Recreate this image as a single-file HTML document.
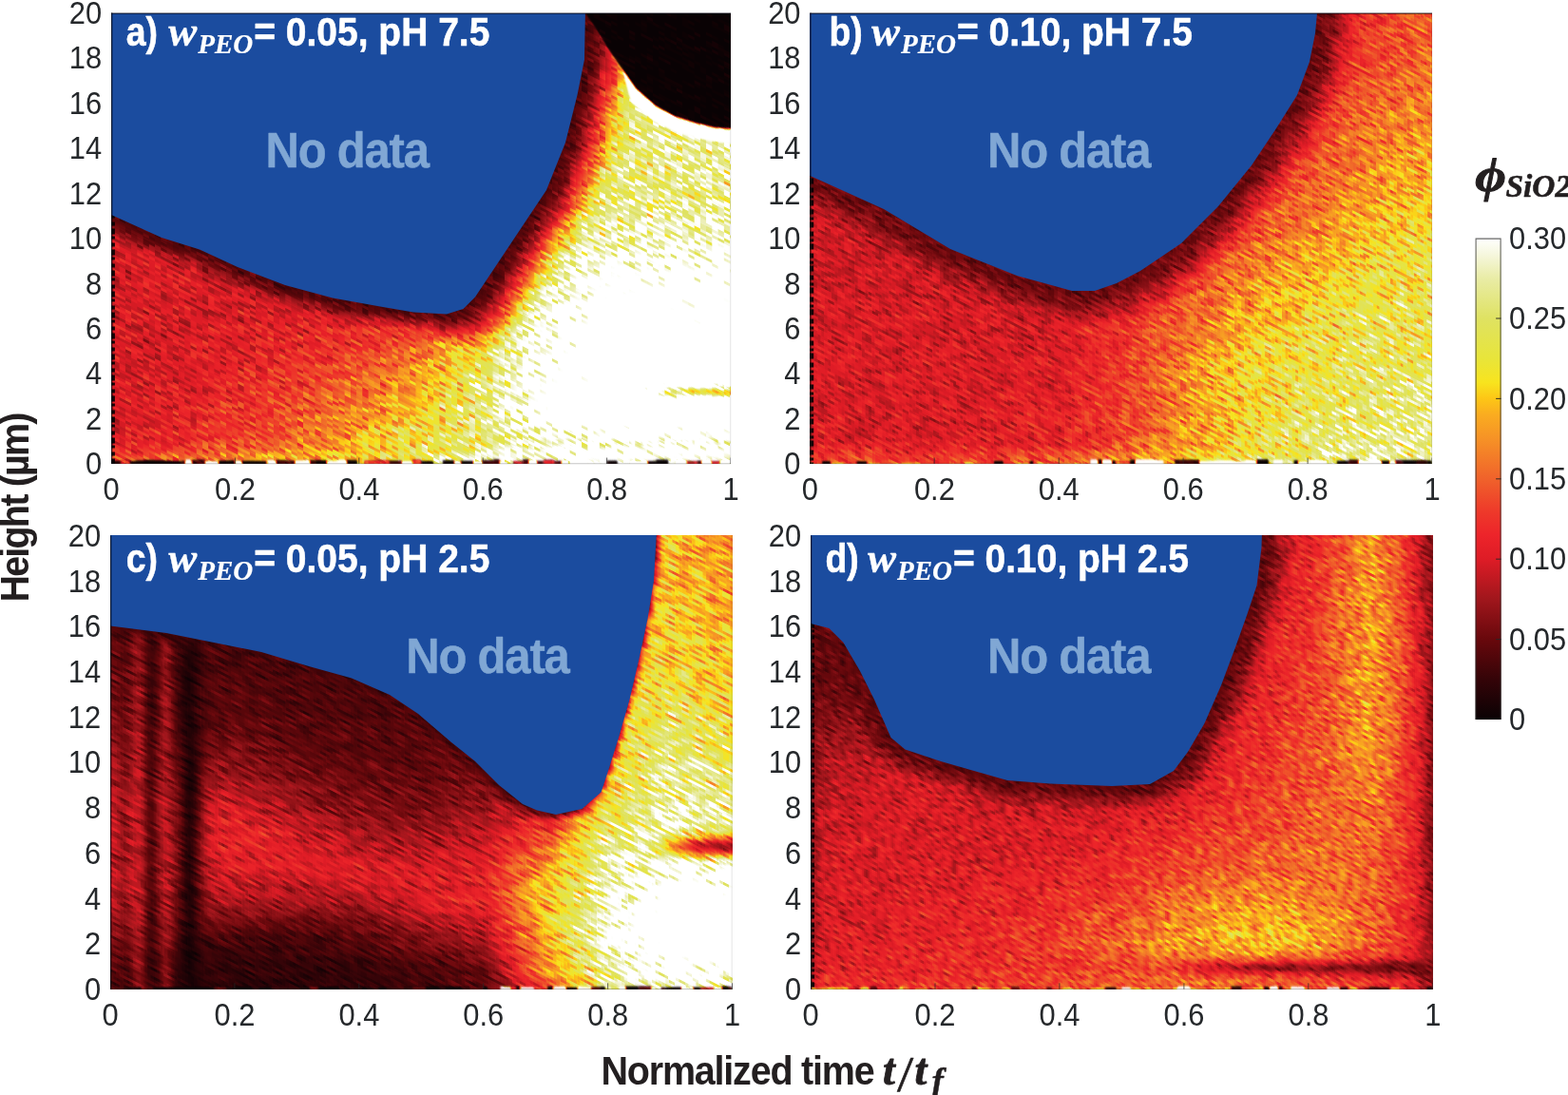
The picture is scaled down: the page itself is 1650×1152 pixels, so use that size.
<!DOCTYPE html>
<html><head><meta charset="utf-8"><title>Figure</title><style>html,body{margin:0;padding:0;background:#fff;overflow:hidden}svg{display:block}</style></head><body>
<svg xmlns="http://www.w3.org/2000/svg" width="1650" height="1152" viewBox="0 0 1650 1152">
<defs>
<filter id="hma" filterUnits="userSpaceOnUse" x="0" y="-900" width="1650" height="2100" color-interpolation-filters="sRGB"><feGaussianBlur in="SourceGraphic" stdDeviation="3" result="f"/><feTurbulence type="fractalNoise" baseFrequency="0.10 0.457" numOctaves="1" seed="3" result="n0"/><feColorMatrix in="n0" type="matrix" values="1 0 0 0 0 1 0 0 0 0 1 0 0 0 0 0 0 0 0 1" result="n"/><feFlood x="3" y="1" width="1" height="1" flood-color="#000"/><feComposite width="7" height="3"/><feTile result="t"/><feComposite in="n" in2="t" operator="in"/><feMorphology operator="dilate" radius="3 1"/><feComponentTransfer result="np"><feFuncR type="table" tableValues="0 0.2 0.5 0.78 1"/><feFuncG type="table" tableValues="0 0.2 0.5 0.78 1"/><feFuncB type="table" tableValues="0 0.2 0.5 0.78 1"/></feComponentTransfer><feComposite in="f" in2="np" operator="arithmetic" k1="0.85" k2="0.5784" k3="0.05" k4="-0.0248" result="s"/><feComponentTransfer in="s" result="c"><feFuncR type="table" tableValues="0.039 0.07 0.101 0.132 0.163 0.194 0.229 0.268 0.306 0.344 0.382 0.422 0.463 0.504 0.545 0.586 0.627 0.673 0.719 0.764 0.81 0.855 0.883 0.901 0.92 0.93 0.931 0.932 0.934 0.936 0.938 0.939 0.941 0.946 0.95 0.954 0.959 0.963 0.968 0.973 0.978 0.983 0.988 0.989 0.98 0.969 0.949 0.929 0.91 0.903 0.897 0.89 0.883 0.877 0.879 0.887 0.894 0.901 0.909 0.919 0.935 0.951 0.967 0.983 1 1 1 1 1 1 1 1 1 1 1 1 1 1 1 1 1 1 1 1 1 1 1 1 1 1 1 1 1 1 1 1 1 1 1 1 1 1 1 1 1 1 1 1 1 1 1 1 1 1 1 1 1 1 1 1 1 1 1 1 1 1 1 1 1"/><feFuncG type="table" tableValues="0.008 0.009 0.011 0.012 0.014 0.015 0.018 0.021 0.024 0.026 0.029 0.035 0.045 0.055 0.066 0.076 0.086 0.091 0.095 0.1 0.104 0.108 0.116 0.126 0.136 0.154 0.181 0.208 0.237 0.274 0.311 0.348 0.384 0.42 0.455 0.49 0.525 0.561 0.594 0.626 0.658 0.697 0.745 0.795 0.85 0.894 0.896 0.897 0.898 0.896 0.894 0.891 0.889 0.887 0.891 0.899 0.906 0.913 0.921 0.93 0.943 0.957 0.971 0.985 1 1 1 1 1 1 1 1 1 1 1 1 1 1 1 1 1 1 1 1 1 1 1 1 1 1 1 1 1 1 1 1 1 1 1 1 1 1 1 1 1 1 1 1 1 1 1 1 1 1 1 1 1 1 1 1 1 1 1 1 1 1 1 1 1"/><feFuncB type="table" tableValues="0.016 0.019 0.022 0.025 0.027 0.03 0.033 0.036 0.039 0.042 0.045 0.051 0.063 0.075 0.086 0.098 0.11 0.117 0.125 0.132 0.139 0.147 0.152 0.157 0.162 0.165 0.165 0.165 0.165 0.166 0.167 0.168 0.169 0.165 0.161 0.158 0.154 0.15 0.144 0.137 0.129 0.117 0.099 0.091 0.106 0.125 0.159 0.193 0.227 0.257 0.286 0.316 0.345 0.375 0.418 0.468 0.518 0.568 0.618 0.674 0.742 0.811 0.879 0.939 1 1 1 1 1 1 1 1 1 1 1 1 1 1 1 1 1 1 1 1 1 1 1 1 1 1 1 1 1 1 1 1 1 1 1 1 1 1 1 1 1 1 1 1 1 1 1 1 1 1 1 1 1 1 1 1 1 1 1 1 1 1 1 1 1"/></feComponentTransfer><feComposite in="c" in2="f" operator="in"/></filter>
<filter id="hsa" filterUnits="userSpaceOnUse" x="0" y="-900" width="1650" height="2100" color-interpolation-filters="sRGB"><feGaussianBlur in="SourceGraphic" stdDeviation="0.9" result="f"/><feTurbulence type="fractalNoise" baseFrequency="0.10 0.457" numOctaves="1" seed="3" result="n0"/><feColorMatrix in="n0" type="matrix" values="1 0 0 0 0 1 0 0 0 0 1 0 0 0 0 0 0 0 0 1" result="n"/><feFlood x="3" y="1" width="1" height="1" flood-color="#000"/><feComposite width="7" height="3"/><feTile result="t"/><feComposite in="n" in2="t" operator="in"/><feMorphology operator="dilate" radius="3 1"/><feComponentTransfer result="np"><feFuncR type="table" tableValues="0 0.2 0.5 0.78 1"/><feFuncG type="table" tableValues="0 0.2 0.5 0.78 1"/><feFuncB type="table" tableValues="0 0.2 0.5 0.78 1"/></feComponentTransfer><feComposite in="f" in2="np" operator="arithmetic" k1="0.85" k2="0.5784" k3="0.05" k4="-0.0248" result="s"/><feComponentTransfer in="s" result="c"><feFuncR type="table" tableValues="0.039 0.07 0.101 0.132 0.163 0.194 0.229 0.268 0.306 0.344 0.382 0.422 0.463 0.504 0.545 0.586 0.627 0.673 0.719 0.764 0.81 0.855 0.883 0.901 0.92 0.93 0.931 0.932 0.934 0.936 0.938 0.939 0.941 0.946 0.95 0.954 0.959 0.963 0.968 0.973 0.978 0.983 0.988 0.989 0.98 0.969 0.949 0.929 0.91 0.903 0.897 0.89 0.883 0.877 0.879 0.887 0.894 0.901 0.909 0.919 0.935 0.951 0.967 0.983 1 1 1 1 1 1 1 1 1 1 1 1 1 1 1 1 1 1 1 1 1 1 1 1 1 1 1 1 1 1 1 1 1 1 1 1 1 1 1 1 1 1 1 1 1 1 1 1 1 1 1 1 1 1 1 1 1 1 1 1 1 1 1 1 1"/><feFuncG type="table" tableValues="0.008 0.009 0.011 0.012 0.014 0.015 0.018 0.021 0.024 0.026 0.029 0.035 0.045 0.055 0.066 0.076 0.086 0.091 0.095 0.1 0.104 0.108 0.116 0.126 0.136 0.154 0.181 0.208 0.237 0.274 0.311 0.348 0.384 0.42 0.455 0.49 0.525 0.561 0.594 0.626 0.658 0.697 0.745 0.795 0.85 0.894 0.896 0.897 0.898 0.896 0.894 0.891 0.889 0.887 0.891 0.899 0.906 0.913 0.921 0.93 0.943 0.957 0.971 0.985 1 1 1 1 1 1 1 1 1 1 1 1 1 1 1 1 1 1 1 1 1 1 1 1 1 1 1 1 1 1 1 1 1 1 1 1 1 1 1 1 1 1 1 1 1 1 1 1 1 1 1 1 1 1 1 1 1 1 1 1 1 1 1 1 1"/><feFuncB type="table" tableValues="0.016 0.019 0.022 0.025 0.027 0.03 0.033 0.036 0.039 0.042 0.045 0.051 0.063 0.075 0.086 0.098 0.11 0.117 0.125 0.132 0.139 0.147 0.152 0.157 0.162 0.165 0.165 0.165 0.165 0.166 0.167 0.168 0.169 0.165 0.161 0.158 0.154 0.15 0.144 0.137 0.129 0.117 0.099 0.091 0.106 0.125 0.159 0.193 0.227 0.257 0.286 0.316 0.345 0.375 0.418 0.468 0.518 0.568 0.618 0.674 0.742 0.811 0.879 0.939 1 1 1 1 1 1 1 1 1 1 1 1 1 1 1 1 1 1 1 1 1 1 1 1 1 1 1 1 1 1 1 1 1 1 1 1 1 1 1 1 1 1 1 1 1 1 1 1 1 1 1 1 1 1 1 1 1 1 1 1 1 1 1 1 1"/></feComponentTransfer><feComposite in="c" in2="f" operator="in"/></filter>
<filter id="hmb" filterUnits="userSpaceOnUse" x="0" y="-900" width="1650" height="2100" color-interpolation-filters="sRGB"><feGaussianBlur in="SourceGraphic" stdDeviation="3" result="f"/><feTurbulence type="fractalNoise" baseFrequency="0.10 0.457" numOctaves="1" seed="5" result="n0"/><feColorMatrix in="n0" type="matrix" values="1 0 0 0 0 1 0 0 0 0 1 0 0 0 0 0 0 0 0 1" result="n"/><feFlood x="2" y="1" width="1" height="1" flood-color="#000"/><feComposite width="5" height="3"/><feTile result="t"/><feComposite in="n" in2="t" operator="in"/><feMorphology operator="dilate" radius="2 1"/><feComponentTransfer result="np"><feFuncR type="table" tableValues="0 0.2 0.5 0.78 1"/><feFuncG type="table" tableValues="0 0.2 0.5 0.78 1"/><feFuncB type="table" tableValues="0 0.2 0.5 0.78 1"/></feComponentTransfer><feComposite in="f" in2="np" operator="arithmetic" k1="0.8" k2="0.5944" k3="0.05" k4="-0.0254" result="s"/><feComponentTransfer in="s" result="c"><feFuncR type="table" tableValues="0.039 0.07 0.101 0.132 0.163 0.194 0.229 0.268 0.306 0.344 0.382 0.422 0.463 0.504 0.545 0.586 0.627 0.673 0.719 0.764 0.81 0.855 0.883 0.901 0.92 0.93 0.931 0.932 0.934 0.936 0.938 0.939 0.941 0.946 0.95 0.954 0.959 0.963 0.968 0.973 0.978 0.983 0.988 0.989 0.98 0.969 0.949 0.929 0.91 0.903 0.897 0.89 0.883 0.877 0.879 0.887 0.894 0.901 0.909 0.919 0.935 0.951 0.967 0.983 1 1 1 1 1 1 1 1 1 1 1 1 1 1 1 1 1 1 1 1 1 1 1 1 1 1 1 1 1 1 1 1 1 1 1 1 1 1 1 1 1 1 1 1 1 1 1 1 1 1 1 1 1 1 1 1 1 1 1 1 1 1 1 1 1"/><feFuncG type="table" tableValues="0.008 0.009 0.011 0.012 0.014 0.015 0.018 0.021 0.024 0.026 0.029 0.035 0.045 0.055 0.066 0.076 0.086 0.091 0.095 0.1 0.104 0.108 0.116 0.126 0.136 0.154 0.181 0.208 0.237 0.274 0.311 0.348 0.384 0.42 0.455 0.49 0.525 0.561 0.594 0.626 0.658 0.697 0.745 0.795 0.85 0.894 0.896 0.897 0.898 0.896 0.894 0.891 0.889 0.887 0.891 0.899 0.906 0.913 0.921 0.93 0.943 0.957 0.971 0.985 1 1 1 1 1 1 1 1 1 1 1 1 1 1 1 1 1 1 1 1 1 1 1 1 1 1 1 1 1 1 1 1 1 1 1 1 1 1 1 1 1 1 1 1 1 1 1 1 1 1 1 1 1 1 1 1 1 1 1 1 1 1 1 1 1"/><feFuncB type="table" tableValues="0.016 0.019 0.022 0.025 0.027 0.03 0.033 0.036 0.039 0.042 0.045 0.051 0.063 0.075 0.086 0.098 0.11 0.117 0.125 0.132 0.139 0.147 0.152 0.157 0.162 0.165 0.165 0.165 0.165 0.166 0.167 0.168 0.169 0.165 0.161 0.158 0.154 0.15 0.144 0.137 0.129 0.117 0.099 0.091 0.106 0.125 0.159 0.193 0.227 0.257 0.286 0.316 0.345 0.375 0.418 0.468 0.518 0.568 0.618 0.674 0.742 0.811 0.879 0.939 1 1 1 1 1 1 1 1 1 1 1 1 1 1 1 1 1 1 1 1 1 1 1 1 1 1 1 1 1 1 1 1 1 1 1 1 1 1 1 1 1 1 1 1 1 1 1 1 1 1 1 1 1 1 1 1 1 1 1 1 1 1 1 1 1"/></feComponentTransfer><feComposite in="c" in2="f" operator="in"/></filter>
<filter id="hsb" filterUnits="userSpaceOnUse" x="0" y="-900" width="1650" height="2100" color-interpolation-filters="sRGB"><feGaussianBlur in="SourceGraphic" stdDeviation="0.9" result="f"/><feTurbulence type="fractalNoise" baseFrequency="0.10 0.457" numOctaves="1" seed="5" result="n0"/><feColorMatrix in="n0" type="matrix" values="1 0 0 0 0 1 0 0 0 0 1 0 0 0 0 0 0 0 0 1" result="n"/><feFlood x="2" y="1" width="1" height="1" flood-color="#000"/><feComposite width="5" height="3"/><feTile result="t"/><feComposite in="n" in2="t" operator="in"/><feMorphology operator="dilate" radius="2 1"/><feComponentTransfer result="np"><feFuncR type="table" tableValues="0 0.2 0.5 0.78 1"/><feFuncG type="table" tableValues="0 0.2 0.5 0.78 1"/><feFuncB type="table" tableValues="0 0.2 0.5 0.78 1"/></feComponentTransfer><feComposite in="f" in2="np" operator="arithmetic" k1="0.8" k2="0.5944" k3="0.05" k4="-0.0254" result="s"/><feComponentTransfer in="s" result="c"><feFuncR type="table" tableValues="0.039 0.07 0.101 0.132 0.163 0.194 0.229 0.268 0.306 0.344 0.382 0.422 0.463 0.504 0.545 0.586 0.627 0.673 0.719 0.764 0.81 0.855 0.883 0.901 0.92 0.93 0.931 0.932 0.934 0.936 0.938 0.939 0.941 0.946 0.95 0.954 0.959 0.963 0.968 0.973 0.978 0.983 0.988 0.989 0.98 0.969 0.949 0.929 0.91 0.903 0.897 0.89 0.883 0.877 0.879 0.887 0.894 0.901 0.909 0.919 0.935 0.951 0.967 0.983 1 1 1 1 1 1 1 1 1 1 1 1 1 1 1 1 1 1 1 1 1 1 1 1 1 1 1 1 1 1 1 1 1 1 1 1 1 1 1 1 1 1 1 1 1 1 1 1 1 1 1 1 1 1 1 1 1 1 1 1 1 1 1 1 1"/><feFuncG type="table" tableValues="0.008 0.009 0.011 0.012 0.014 0.015 0.018 0.021 0.024 0.026 0.029 0.035 0.045 0.055 0.066 0.076 0.086 0.091 0.095 0.1 0.104 0.108 0.116 0.126 0.136 0.154 0.181 0.208 0.237 0.274 0.311 0.348 0.384 0.42 0.455 0.49 0.525 0.561 0.594 0.626 0.658 0.697 0.745 0.795 0.85 0.894 0.896 0.897 0.898 0.896 0.894 0.891 0.889 0.887 0.891 0.899 0.906 0.913 0.921 0.93 0.943 0.957 0.971 0.985 1 1 1 1 1 1 1 1 1 1 1 1 1 1 1 1 1 1 1 1 1 1 1 1 1 1 1 1 1 1 1 1 1 1 1 1 1 1 1 1 1 1 1 1 1 1 1 1 1 1 1 1 1 1 1 1 1 1 1 1 1 1 1 1 1"/><feFuncB type="table" tableValues="0.016 0.019 0.022 0.025 0.027 0.03 0.033 0.036 0.039 0.042 0.045 0.051 0.063 0.075 0.086 0.098 0.11 0.117 0.125 0.132 0.139 0.147 0.152 0.157 0.162 0.165 0.165 0.165 0.165 0.166 0.167 0.168 0.169 0.165 0.161 0.158 0.154 0.15 0.144 0.137 0.129 0.117 0.099 0.091 0.106 0.125 0.159 0.193 0.227 0.257 0.286 0.316 0.345 0.375 0.418 0.468 0.518 0.568 0.618 0.674 0.742 0.811 0.879 0.939 1 1 1 1 1 1 1 1 1 1 1 1 1 1 1 1 1 1 1 1 1 1 1 1 1 1 1 1 1 1 1 1 1 1 1 1 1 1 1 1 1 1 1 1 1 1 1 1 1 1 1 1 1 1 1 1 1 1 1 1 1 1 1 1 1"/></feComponentTransfer><feComposite in="c" in2="f" operator="in"/></filter>
<filter id="hmc" filterUnits="userSpaceOnUse" x="0" y="-900" width="1650" height="2100" color-interpolation-filters="sRGB"><feGaussianBlur in="SourceGraphic" stdDeviation="3" result="f"/><feTurbulence type="fractalNoise" baseFrequency="0.07 0.457" numOctaves="1" seed="7" result="n0"/><feColorMatrix in="n0" type="matrix" values="1 0 0 0 0 1 0 0 0 0 1 0 0 0 0 0 0 0 0 1" result="n"/><feFlood x="2" y="1" width="1" height="1" flood-color="#000"/><feComposite width="5" height="3"/><feTile result="t"/><feComposite in="n" in2="t" operator="in"/><feMorphology operator="dilate" radius="2 1"/><feComponentTransfer result="np"><feFuncR type="table" tableValues="0 0.2 0.5 0.78 1"/><feFuncG type="table" tableValues="0 0.2 0.5 0.78 1"/><feFuncB type="table" tableValues="0 0.2 0.5 0.78 1"/></feComponentTransfer><feComposite in="f" in2="np" operator="arithmetic" k1="0.85" k2="0.5708" k3="0.05" k4="-0.0253" result="s"/><feComponentTransfer in="s" result="c"><feFuncR type="table" tableValues="0.039 0.07 0.101 0.132 0.163 0.194 0.229 0.268 0.306 0.344 0.382 0.422 0.463 0.504 0.545 0.586 0.627 0.673 0.719 0.764 0.81 0.855 0.883 0.901 0.92 0.93 0.931 0.932 0.934 0.936 0.938 0.939 0.941 0.946 0.95 0.954 0.959 0.963 0.968 0.973 0.978 0.983 0.988 0.989 0.98 0.969 0.949 0.929 0.91 0.903 0.897 0.89 0.883 0.877 0.879 0.887 0.894 0.901 0.909 0.919 0.935 0.951 0.967 0.983 1 1 1 1 1 1 1 1 1 1 1 1 1 1 1 1 1 1 1 1 1 1 1 1 1 1 1 1 1 1 1 1 1 1 1 1 1 1 1 1 1 1 1 1 1 1 1 1 1 1 1 1 1 1 1 1 1 1 1 1 1 1 1 1 1"/><feFuncG type="table" tableValues="0.008 0.009 0.011 0.012 0.014 0.015 0.018 0.021 0.024 0.026 0.029 0.035 0.045 0.055 0.066 0.076 0.086 0.091 0.095 0.1 0.104 0.108 0.116 0.126 0.136 0.154 0.181 0.208 0.237 0.274 0.311 0.348 0.384 0.42 0.455 0.49 0.525 0.561 0.594 0.626 0.658 0.697 0.745 0.795 0.85 0.894 0.896 0.897 0.898 0.896 0.894 0.891 0.889 0.887 0.891 0.899 0.906 0.913 0.921 0.93 0.943 0.957 0.971 0.985 1 1 1 1 1 1 1 1 1 1 1 1 1 1 1 1 1 1 1 1 1 1 1 1 1 1 1 1 1 1 1 1 1 1 1 1 1 1 1 1 1 1 1 1 1 1 1 1 1 1 1 1 1 1 1 1 1 1 1 1 1 1 1 1 1"/><feFuncB type="table" tableValues="0.016 0.019 0.022 0.025 0.027 0.03 0.033 0.036 0.039 0.042 0.045 0.051 0.063 0.075 0.086 0.098 0.11 0.117 0.125 0.132 0.139 0.147 0.152 0.157 0.162 0.165 0.165 0.165 0.165 0.166 0.167 0.168 0.169 0.165 0.161 0.158 0.154 0.15 0.144 0.137 0.129 0.117 0.099 0.091 0.106 0.125 0.159 0.193 0.227 0.257 0.286 0.316 0.345 0.375 0.418 0.468 0.518 0.568 0.618 0.674 0.742 0.811 0.879 0.939 1 1 1 1 1 1 1 1 1 1 1 1 1 1 1 1 1 1 1 1 1 1 1 1 1 1 1 1 1 1 1 1 1 1 1 1 1 1 1 1 1 1 1 1 1 1 1 1 1 1 1 1 1 1 1 1 1 1 1 1 1 1 1 1 1"/></feComponentTransfer><feComposite in="c" in2="f" operator="in"/></filter>
<filter id="hsc" filterUnits="userSpaceOnUse" x="0" y="-900" width="1650" height="2100" color-interpolation-filters="sRGB"><feGaussianBlur in="SourceGraphic" stdDeviation="0.9" result="f"/><feTurbulence type="fractalNoise" baseFrequency="0.07 0.457" numOctaves="1" seed="7" result="n0"/><feColorMatrix in="n0" type="matrix" values="1 0 0 0 0 1 0 0 0 0 1 0 0 0 0 0 0 0 0 1" result="n"/><feFlood x="2" y="1" width="1" height="1" flood-color="#000"/><feComposite width="5" height="3"/><feTile result="t"/><feComposite in="n" in2="t" operator="in"/><feMorphology operator="dilate" radius="2 1"/><feComponentTransfer result="np"><feFuncR type="table" tableValues="0 0.2 0.5 0.78 1"/><feFuncG type="table" tableValues="0 0.2 0.5 0.78 1"/><feFuncB type="table" tableValues="0 0.2 0.5 0.78 1"/></feComponentTransfer><feComposite in="f" in2="np" operator="arithmetic" k1="0.85" k2="0.5708" k3="0.05" k4="-0.0253" result="s"/><feComponentTransfer in="s" result="c"><feFuncR type="table" tableValues="0.039 0.07 0.101 0.132 0.163 0.194 0.229 0.268 0.306 0.344 0.382 0.422 0.463 0.504 0.545 0.586 0.627 0.673 0.719 0.764 0.81 0.855 0.883 0.901 0.92 0.93 0.931 0.932 0.934 0.936 0.938 0.939 0.941 0.946 0.95 0.954 0.959 0.963 0.968 0.973 0.978 0.983 0.988 0.989 0.98 0.969 0.949 0.929 0.91 0.903 0.897 0.89 0.883 0.877 0.879 0.887 0.894 0.901 0.909 0.919 0.935 0.951 0.967 0.983 1 1 1 1 1 1 1 1 1 1 1 1 1 1 1 1 1 1 1 1 1 1 1 1 1 1 1 1 1 1 1 1 1 1 1 1 1 1 1 1 1 1 1 1 1 1 1 1 1 1 1 1 1 1 1 1 1 1 1 1 1 1 1 1 1"/><feFuncG type="table" tableValues="0.008 0.009 0.011 0.012 0.014 0.015 0.018 0.021 0.024 0.026 0.029 0.035 0.045 0.055 0.066 0.076 0.086 0.091 0.095 0.1 0.104 0.108 0.116 0.126 0.136 0.154 0.181 0.208 0.237 0.274 0.311 0.348 0.384 0.42 0.455 0.49 0.525 0.561 0.594 0.626 0.658 0.697 0.745 0.795 0.85 0.894 0.896 0.897 0.898 0.896 0.894 0.891 0.889 0.887 0.891 0.899 0.906 0.913 0.921 0.93 0.943 0.957 0.971 0.985 1 1 1 1 1 1 1 1 1 1 1 1 1 1 1 1 1 1 1 1 1 1 1 1 1 1 1 1 1 1 1 1 1 1 1 1 1 1 1 1 1 1 1 1 1 1 1 1 1 1 1 1 1 1 1 1 1 1 1 1 1 1 1 1 1"/><feFuncB type="table" tableValues="0.016 0.019 0.022 0.025 0.027 0.03 0.033 0.036 0.039 0.042 0.045 0.051 0.063 0.075 0.086 0.098 0.11 0.117 0.125 0.132 0.139 0.147 0.152 0.157 0.162 0.165 0.165 0.165 0.165 0.166 0.167 0.168 0.169 0.165 0.161 0.158 0.154 0.15 0.144 0.137 0.129 0.117 0.099 0.091 0.106 0.125 0.159 0.193 0.227 0.257 0.286 0.316 0.345 0.375 0.418 0.468 0.518 0.568 0.618 0.674 0.742 0.811 0.879 0.939 1 1 1 1 1 1 1 1 1 1 1 1 1 1 1 1 1 1 1 1 1 1 1 1 1 1 1 1 1 1 1 1 1 1 1 1 1 1 1 1 1 1 1 1 1 1 1 1 1 1 1 1 1 1 1 1 1 1 1 1 1 1 1 1 1"/></feComponentTransfer><feComposite in="c" in2="f" operator="in"/></filter>
<filter id="hmd" filterUnits="userSpaceOnUse" x="0" y="-900" width="1650" height="2100" color-interpolation-filters="sRGB"><feGaussianBlur in="SourceGraphic" stdDeviation="3" result="f"/><feTurbulence type="fractalNoise" baseFrequency="0.12 0.457" numOctaves="1" seed="9" result="n0"/><feColorMatrix in="n0" type="matrix" values="1 0 0 0 0 1 0 0 0 0 1 0 0 0 0 0 0 0 0 1" result="n"/><feFlood x="1" y="1" width="1" height="1" flood-color="#000"/><feComposite width="3" height="3"/><feTile result="t"/><feComposite in="n" in2="t" operator="in"/><feMorphology operator="dilate" radius="1 1"/><feComponentTransfer result="np"><feFuncR type="table" tableValues="0 0.2 0.5 0.78 1"/><feFuncG type="table" tableValues="0 0.2 0.5 0.78 1"/><feFuncB type="table" tableValues="0 0.2 0.5 0.78 1"/></feComponentTransfer><feComposite in="f" in2="np" operator="arithmetic" k1="0.8" k2="0.592" k3="0.05" k4="-0.0255" result="s"/><feComponentTransfer in="s" result="c"><feFuncR type="table" tableValues="0.039 0.07 0.101 0.132 0.163 0.194 0.229 0.268 0.306 0.344 0.382 0.422 0.463 0.504 0.545 0.586 0.627 0.673 0.719 0.764 0.81 0.855 0.883 0.901 0.92 0.93 0.931 0.932 0.934 0.936 0.938 0.939 0.941 0.946 0.95 0.954 0.959 0.963 0.968 0.973 0.978 0.983 0.988 0.989 0.98 0.969 0.949 0.929 0.91 0.903 0.897 0.89 0.883 0.877 0.879 0.887 0.894 0.901 0.909 0.919 0.935 0.951 0.967 0.983 1 1 1 1 1 1 1 1 1 1 1 1 1 1 1 1 1 1 1 1 1 1 1 1 1 1 1 1 1 1 1 1 1 1 1 1 1 1 1 1 1 1 1 1 1 1 1 1 1 1 1 1 1 1 1 1 1 1 1 1 1 1 1 1 1"/><feFuncG type="table" tableValues="0.008 0.009 0.011 0.012 0.014 0.015 0.018 0.021 0.024 0.026 0.029 0.035 0.045 0.055 0.066 0.076 0.086 0.091 0.095 0.1 0.104 0.108 0.116 0.126 0.136 0.154 0.181 0.208 0.237 0.274 0.311 0.348 0.384 0.42 0.455 0.49 0.525 0.561 0.594 0.626 0.658 0.697 0.745 0.795 0.85 0.894 0.896 0.897 0.898 0.896 0.894 0.891 0.889 0.887 0.891 0.899 0.906 0.913 0.921 0.93 0.943 0.957 0.971 0.985 1 1 1 1 1 1 1 1 1 1 1 1 1 1 1 1 1 1 1 1 1 1 1 1 1 1 1 1 1 1 1 1 1 1 1 1 1 1 1 1 1 1 1 1 1 1 1 1 1 1 1 1 1 1 1 1 1 1 1 1 1 1 1 1 1"/><feFuncB type="table" tableValues="0.016 0.019 0.022 0.025 0.027 0.03 0.033 0.036 0.039 0.042 0.045 0.051 0.063 0.075 0.086 0.098 0.11 0.117 0.125 0.132 0.139 0.147 0.152 0.157 0.162 0.165 0.165 0.165 0.165 0.166 0.167 0.168 0.169 0.165 0.161 0.158 0.154 0.15 0.144 0.137 0.129 0.117 0.099 0.091 0.106 0.125 0.159 0.193 0.227 0.257 0.286 0.316 0.345 0.375 0.418 0.468 0.518 0.568 0.618 0.674 0.742 0.811 0.879 0.939 1 1 1 1 1 1 1 1 1 1 1 1 1 1 1 1 1 1 1 1 1 1 1 1 1 1 1 1 1 1 1 1 1 1 1 1 1 1 1 1 1 1 1 1 1 1 1 1 1 1 1 1 1 1 1 1 1 1 1 1 1 1 1 1 1"/></feComponentTransfer><feComposite in="c" in2="f" operator="in"/></filter>
<filter id="hsd" filterUnits="userSpaceOnUse" x="0" y="-900" width="1650" height="2100" color-interpolation-filters="sRGB"><feGaussianBlur in="SourceGraphic" stdDeviation="0.9" result="f"/><feTurbulence type="fractalNoise" baseFrequency="0.12 0.457" numOctaves="1" seed="9" result="n0"/><feColorMatrix in="n0" type="matrix" values="1 0 0 0 0 1 0 0 0 0 1 0 0 0 0 0 0 0 0 1" result="n"/><feFlood x="1" y="1" width="1" height="1" flood-color="#000"/><feComposite width="3" height="3"/><feTile result="t"/><feComposite in="n" in2="t" operator="in"/><feMorphology operator="dilate" radius="1 1"/><feComponentTransfer result="np"><feFuncR type="table" tableValues="0 0.2 0.5 0.78 1"/><feFuncG type="table" tableValues="0 0.2 0.5 0.78 1"/><feFuncB type="table" tableValues="0 0.2 0.5 0.78 1"/></feComponentTransfer><feComposite in="f" in2="np" operator="arithmetic" k1="0.8" k2="0.592" k3="0.05" k4="-0.0255" result="s"/><feComponentTransfer in="s" result="c"><feFuncR type="table" tableValues="0.039 0.07 0.101 0.132 0.163 0.194 0.229 0.268 0.306 0.344 0.382 0.422 0.463 0.504 0.545 0.586 0.627 0.673 0.719 0.764 0.81 0.855 0.883 0.901 0.92 0.93 0.931 0.932 0.934 0.936 0.938 0.939 0.941 0.946 0.95 0.954 0.959 0.963 0.968 0.973 0.978 0.983 0.988 0.989 0.98 0.969 0.949 0.929 0.91 0.903 0.897 0.89 0.883 0.877 0.879 0.887 0.894 0.901 0.909 0.919 0.935 0.951 0.967 0.983 1 1 1 1 1 1 1 1 1 1 1 1 1 1 1 1 1 1 1 1 1 1 1 1 1 1 1 1 1 1 1 1 1 1 1 1 1 1 1 1 1 1 1 1 1 1 1 1 1 1 1 1 1 1 1 1 1 1 1 1 1 1 1 1 1"/><feFuncG type="table" tableValues="0.008 0.009 0.011 0.012 0.014 0.015 0.018 0.021 0.024 0.026 0.029 0.035 0.045 0.055 0.066 0.076 0.086 0.091 0.095 0.1 0.104 0.108 0.116 0.126 0.136 0.154 0.181 0.208 0.237 0.274 0.311 0.348 0.384 0.42 0.455 0.49 0.525 0.561 0.594 0.626 0.658 0.697 0.745 0.795 0.85 0.894 0.896 0.897 0.898 0.896 0.894 0.891 0.889 0.887 0.891 0.899 0.906 0.913 0.921 0.93 0.943 0.957 0.971 0.985 1 1 1 1 1 1 1 1 1 1 1 1 1 1 1 1 1 1 1 1 1 1 1 1 1 1 1 1 1 1 1 1 1 1 1 1 1 1 1 1 1 1 1 1 1 1 1 1 1 1 1 1 1 1 1 1 1 1 1 1 1 1 1 1 1"/><feFuncB type="table" tableValues="0.016 0.019 0.022 0.025 0.027 0.03 0.033 0.036 0.039 0.042 0.045 0.051 0.063 0.075 0.086 0.098 0.11 0.117 0.125 0.132 0.139 0.147 0.152 0.157 0.162 0.165 0.165 0.165 0.165 0.166 0.167 0.168 0.169 0.165 0.161 0.158 0.154 0.15 0.144 0.137 0.129 0.117 0.099 0.091 0.106 0.125 0.159 0.193 0.227 0.257 0.286 0.316 0.345 0.375 0.418 0.468 0.518 0.568 0.618 0.674 0.742 0.811 0.879 0.939 1 1 1 1 1 1 1 1 1 1 1 1 1 1 1 1 1 1 1 1 1 1 1 1 1 1 1 1 1 1 1 1 1 1 1 1 1 1 1 1 1 1 1 1 1 1 1 1 1 1 1 1 1 1 1 1 1 1 1 1 1 1 1 1 1"/></feComponentTransfer><feComposite in="c" in2="f" operator="in"/></filter>
<linearGradient id="cb" x1="0" y1="0" x2="0" y2="1"><stop offset="0" stop-color="#ffffff"/><stop offset="0.0333" stop-color="#f6f7de"/><stop offset="0.0833" stop-color="#e9eca6"/><stop offset="0.1667" stop-color="#dfe262"/><stop offset="0.25" stop-color="#e8e53a"/><stop offset="0.3" stop-color="#f8e41e"/><stop offset="0.3333" stop-color="#fdc616"/><stop offset="0.3667" stop-color="#faac20"/><stop offset="0.4167" stop-color="#f69226"/><stop offset="0.5" stop-color="#f0622b"/><stop offset="0.5667" stop-color="#ee3a2a"/><stop offset="0.6167" stop-color="#ed242a"/><stop offset="0.6667" stop-color="#de1c26"/><stop offset="0.75" stop-color="#a0161c"/><stop offset="0.8333" stop-color="#68080c"/><stop offset="0.9167" stop-color="#340408"/><stop offset="1" stop-color="#0a0204"/></linearGradient>
<clipPath id="cpa"><rect x="117" y="14" width="652" height="474"/></clipPath>
<clipPath id="cpb"><rect x="852" y="14" width="655" height="474"/></clipPath>
<clipPath id="cpc"><rect x="116" y="563" width="655" height="478"/></clipPath>
<clipPath id="cpd"><rect x="853" y="563" width="655" height="478"/></clipPath>
</defs>
<rect width="1650" height="1152" fill="#fff"/>
<g clip-path="url(#cpa)">
<g transform="skewY(27)">
<g filter="url(#hma)" fill="none" stroke-width="6" shape-rendering="crispEdges">
<path stroke="#101010" d="M615 -315h6M603 -309h18M591 -303h30M579 -297h42M567 -291h54M555 -285h66M543 -279h78M531 -273h90M519 -267h102M507 -261h114M495 -255h126M483 -249h132M471 -243h144M465 -237h150M453 -231h162M441 -225h174M429 -219h180M417 -213h192M405 -207h204M393 -201h216M381 -195h228M369 -189h234M357 -183h246M345 -177h258M333 -171h270M321 -165h282M309 -159h288M297 -153h300M285 -147h312M273 -141h318M261 -135h330M249 -129h342M237 -123h348M225 -117h360M213 -111h372M201 -105h378M189 -99h390M177 -93h402M165 -87h408M159 -81h414M147 -75h420M135 -69h432M123 -63h438M111 -57h450M105 -51h450M105 -45h450M105 -39h444M105 -33h444M105 -27h438M105 -21h438M105 -15h432M105 -9h432M105 -3h426M105 3h426M105 9h420M105 15h420M105 21h414M105 27h414M105 33h408M105 39h408M105 45h402M105 51h402M105 57h396M105 63h396M105 69h390M105 75h384M105 81h378M105 87h372M105 93h366M105 99h354M105 105h336M105 111h324M105 117h306M105 123h288M105 129h270M105 135h252M105 141h228M105 147h204M105 153h174M105 159h96M105 165h72"/>
<path stroke="#121212" d="M621 -315h6M621 -309h6M621 -303h6M621 -297h6M621 -291h6M621 -285h6M615 -249h6M615 -243h6M615 -237h6M615 -231h6M609 -219h6M609 -213h6M609 -207h6M609 -201h6M603 -189h6M603 -183h6M603 -177h6M603 -171h6M597 -159h6M597 -153h6M597 -147h6M591 -141h6M591 -135h6M591 -129h6M585 -123h6M585 -117h6M585 -111h6M579 -105h6M579 -99h6M573 -87h6M573 -81h6M567 -75h6M567 -69h6M561 -63h6M561 -57h6M555 -51h6M555 -45h6M549 -39h6M549 -33h6M543 -27h6M543 -21h6M537 -15h6M537 -9h6M531 -3h6M531 3h6M525 9h6M525 15h6M519 21h6M519 27h6M513 33h6M513 39h6M507 45h6M507 51h6M501 57h6M495 69h6M489 75h6M483 81h6M477 87h6M471 93h6M459 99h6M441 105h6M429 111h6M411 117h6M393 123h6M375 129h12M357 135h12M333 141h18M309 147h18M279 153h24M201 159h60M177 165h18M105 171h54"/>
<path stroke="#141414" d="M621 -279h6M621 -273h6M621 -267h6M621 -261h6M621 -255h6M621 -249h6M615 -225h6M615 -219h6M609 -195h6M609 -189h6M603 -165h6M597 -141h6M591 -123h6M585 -105h6M579 -93h6M537 -3h6M531 9h6M525 21h6M519 33h6M513 45h6M507 57h6M501 63h6M489 81h6M483 87h6M465 99h6M447 105h6M435 111h6M417 117h6M399 123h6M369 135h6M351 141h6M327 147h6M303 153h6M261 159h12M195 165h6M159 171h12"/>
<path stroke="#161616" d="M627 -321h6M627 -315h6M627 -309h6M627 -303h6M621 -243h6M621 -237h6M615 -213h6M615 -207h6M609 -183h6M603 -159h6M603 -153h6M597 -135h6M591 -117h6M585 -99h6M579 -87h6M573 -75h6M567 -63h6M561 -51h6M555 -39h6M549 -27h6M543 -15h6M495 75h6M477 93h6M453 105h6M423 117h6M405 123h6M387 129h6M333 147h6M309 153h6M273 159h18M201 165h36M171 171h12M105 177h6"/>
<path stroke="#181818" d="M627 -297h6M627 -291h6M627 -285h6M627 -279h6M627 -273h6M627 -267h6M627 -261h6M621 -231h6M615 -201h6M609 -177h6M543 -9h6M537 3h6M531 15h6M525 27h6M519 39h6M513 51h6M501 69h6M393 129h6M375 135h6M357 141h6M339 147h6M315 153h6M291 159h6M237 165h18M183 171h6M111 177h36"/>
<path stroke="#1a1a1a" d="M627 -255h6M627 -249h6M621 -225h6M615 -195h6M609 -171h6M603 -147h6M597 -129h6M591 -111h6M585 -93h6M579 -81h6M573 -69h6M567 -57h6M561 -45h6M555 -33h6M549 -21h6M507 63h6M489 87h6M471 99h6M441 111h6M429 117h6M411 123h6M363 141h6M345 147h6M321 153h6M297 159h6M255 165h12M189 171h6M147 177h18"/>
<path stroke="#1c1c1c" d="M633 -321h6M633 -315h6M633 -309h6M633 -303h6M621 -219h6M615 -189h6M609 -165h6M603 -141h6M597 -123h6M543 -3h6M537 9h6M531 21h6M525 33h6M519 45h6M513 57h6M495 81h6M459 105h6M417 123h6M399 129h6M381 135h6M327 153h6M303 159h6M267 165h6M195 171h6M165 177h6"/>
<path stroke="#1e1e1e" d="M633 -297h6M633 -291h6M633 -285h6M627 -243h6M621 -213h6M615 -183h6M609 -159h6M591 -105h6M561 -39h6M555 -27h6M549 -15h6M501 75h6M483 93h6M369 141h6M351 147h6M309 159h6M273 165h12M201 171h36M171 177h12"/>
<path stroke="#202020" d="M633 -279h6M633 -273h6M633 -267h6M627 -237h6M621 -207h6M609 -153h6M603 -135h6M597 -117h6M591 -99h6M585 -87h6M579 -75h6M573 -63h6M567 -51h6M507 69h6M477 99h6M465 105h6M447 111h6M435 117h6M405 129h6M387 135h6M333 153h6M285 165h12M237 171h12M183 177h6M105 183h42"/>
<path stroke="#222222" d="M633 -261h6M633 -255h6M627 -231h6M621 -201h6M615 -177h6M549 -9h6M543 3h6M537 15h6M531 27h6M525 39h6M519 51h6M513 63h6M423 123h6M375 141h6M357 147h6M339 153h6M315 159h6M249 171h12M189 177h6M147 183h18"/>
<path stroke="#242424" d="M639 -327h6M639 -321h6M639 -315h6M639 -309h6M633 -249h6M627 -225h6M615 -171h6M609 -147h6M603 -129h6M597 -111h6M561 -33h6M555 -21h6M495 87h6M453 111h6M393 135h6M321 159h6M297 165h6M261 171h12M195 177h6M165 183h6"/>
<path stroke="#262626" d="M639 -303h6M639 -297h6M627 -219h6M621 -195h6M615 -165h6M591 -93h6M585 -81h6M579 -69h6M573 -57h6M567 -45h6M501 81h6M489 93h6M471 105h6M411 129h6M381 141h6M363 147h6M345 153h6M327 159h6M303 165h6M273 171h12M201 177h42M171 183h12M105 189h24"/>
<path stroke="#282828" d="M639 -291h6M639 -285h6M633 -243h6M621 -189h6M609 -141h6M543 9h6M537 21h6M531 33h6M525 45h6M519 57h6M507 75h6M441 117h6M429 123h6M399 135h6M351 153h6M333 159h6M309 165h6M285 171h12M243 177h18M183 183h12M129 189h36"/>
<path stroke="#2a2a2a" d="M639 -279h6M639 -273h6M639 -267h6M633 -237h6M627 -213h6M621 -183h6M615 -159h6M603 -123h6M597 -105h6M555 -15h6M549 -3h6M765 21h6M753 27h6M741 33h6M513 69h6M483 99h6M459 111h6M417 129h6M387 141h6M369 147h6M339 159h6M315 165h6M297 171h6M261 177h24M195 183h84M165 189h108M105 195h162M105 201h156M105 207h150M105 213h144M105 219h138M105 225h132M105 231h120M105 237h114M105 243h108M105 249h102M105 255h96M105 261h96M105 267h90M105 273h90M105 279h90M105 285h90M105 291h84M105 297h84M105 303h84M105 309h78M105 315h72M105 321h60M105 327h54M105 333h42M105 339h36M105 345h24M105 351h18M105 357h12"/>
<path stroke="#2c2c2c" d="M639 -261h6M627 -207h6M591 -87h6M585 -75h6M579 -63h6M573 -51h6M567 -39h6M561 -27h6M777 15h6M375 147h6M357 153h6M321 165h12M303 171h18M285 177h30M279 183h36M273 189h30M267 195h30M261 201h30M255 207h30M249 213h24M243 219h24M237 225h24M225 231h30M219 237h30M213 243h30M207 249h30M201 255h30M201 261h30M195 267h30M195 273h24M195 279h24M195 285h18M189 291h24M189 297h18M189 303h12M183 309h18M177 315h18M165 321h30M159 327h30M147 333h42M141 339h42M129 345h54M123 351h54M117 357h54M105 363h60M105 369h54M105 375h48M105 381h42M105 387h36M105 393h30M105 399h24M105 405h12"/>
<path stroke="#2e2e2e" d="M645 -327h6M645 -321h6M645 -315h6M639 -255h6M633 -231h6M621 -177h6M615 -153h6M609 -135h6M603 -117h6M597 -99h6M729 39h6M501 87h6M495 93h6M477 105h6M465 111h6M435 123h6M405 135h6M393 141h6M363 153h6M345 159h12M333 165h18M321 171h24M315 177h18M315 183h12M303 189h18M297 195h18M291 201h18M285 207h18M273 213h18M267 219h18M261 225h18M255 231h18M249 237h18M243 243h18M237 249h18M231 255h24M231 261h18M225 267h18M219 273h18M219 279h18M213 285h18M213 291h12M207 297h18M201 303h18M201 309h12M195 315h18M195 321h12M189 327h18M189 333h12M183 339h18M183 345h12M177 351h18M171 357h18M165 363h24M159 369h24M153 375h24M147 381h18M141 387h12M135 393h12M129 399h6M117 405h6M105 411h6"/>
<path stroke="#303030" d="M645 -309h6M645 -303h6M627 -201h6M621 -171h6M549 3h6M543 15h6M537 27h6M531 39h6M525 51h6M519 63h6M507 81h6M447 117h6M423 129h6M381 147h6M369 153h12M357 159h12M351 165h12M345 171h12M333 177h12M327 183h12M321 189h12M315 195h12M309 201h12M303 207h12M291 213h18M285 219h18M279 225h18M273 231h18M267 237h18M261 243h18M255 249h18M255 255h12M249 261h12M243 267h18M237 273h18M237 279h12M231 285h12M225 291h18M225 297h12M219 303h12M213 309h18M213 315h12M207 321h12M207 327h12M201 333h12M201 339h12M195 345h12M195 351h12M189 357h12M189 363h12M183 369h6M177 375h6M165 381h6M153 387h6M135 399h6M123 405h6M111 411h6"/>
<path stroke="#323232" d="M645 -297h6M645 -291h6M639 -249h6M633 -225h6M627 -195h6M615 -147h6M609 -129h6M603 -111h6M561 -21h6M555 -9h6M489 99h6M411 135h6M399 141h6M387 147h6M381 153h6M369 159h12M363 165h12M357 171h6M345 177h12M339 183h12M333 189h12M327 195h12M321 201h12M315 207h12M309 213h12M303 219h12M297 225h12M291 231h12M285 237h12M279 243h12M273 249h12M267 255h12M261 261h12M261 267h12M255 273h12M249 279h12M243 285h12M243 291h12M237 297h12M231 303h12M231 309h12M225 315h12M219 321h18M219 327h12M213 333h12M213 339h12M207 345h12M207 351h12M201 357h12M189 369h6M171 381h6M159 387h6M147 393h6M129 405h6M117 411h6M105 417h6"/>
<path stroke="#343434" d="M645 -285h6M639 -243h6M633 -219h6M621 -165h6M597 -93h6M591 -81h6M585 -69h6M579 -57h6M573 -45h6M567 -33h6M513 75h6M471 111h6M453 117h6M393 147h6M387 153h6M381 159h6M375 165h6M363 171h12M357 177h12M351 183h12M345 189h12M339 195h12M333 201h6M327 207h12M321 213h12M315 219h12M309 225h12M303 231h12M297 237h12M291 243h12M285 249h12M279 255h12M273 261h12M273 267h12M267 273h12M261 279h12M255 285h12M255 291h12M249 297h12M243 303h12M243 309h12M237 315h12M237 321h12M231 327h12M225 333h12M225 339h12M219 345h12M219 351h6M201 363h6M183 375h6M153 393h6M141 399h6M135 405h6M123 411h6M111 417h6"/>
<path stroke="#363636" d="M645 -279h6M645 -273h6M627 -189h6M537 33h6M525 57h6M483 105h6M441 123h6M429 129h6M417 135h6M405 141h6M399 147h6M393 153h6M387 159h6M381 165h6M375 171h6M369 177h6M363 183h6M357 189h6M351 195h6M339 201h12M339 207h6M333 213h6M327 219h6M321 225h6M315 231h12M309 237h12M303 243h12M297 249h12M291 255h12M285 261h12M285 267h6M279 273h12M273 279h12M267 285h12M267 291h6M261 297h12M255 303h12M255 309h6M249 315h12M249 321h6M243 327h12M237 333h12M237 339h12M231 345h6M213 357h6M195 369h6M177 381h6M165 387h6M147 399h6M129 411h6M117 417h6M105 423h12"/>
<path stroke="#383838" d="M651 -333h6M651 -327h6M651 -321h6M645 -267h6M639 -237h6M633 -213h6M627 -183h6M621 -159h6M615 -141h6M609 -123h6M603 -105h6M555 -3h6M549 9h6M543 21h6M531 45h6M519 69h6M501 93h6M411 141h6M405 147h6M399 153h6M393 159h6M387 165h6M381 171h6M375 177h6M369 183h12M363 189h12M357 195h12M351 201h6M345 207h12M339 213h12M333 219h12M327 225h12M327 231h6M321 237h6M315 243h6M309 249h12M303 255h12M297 261h12M291 267h12M291 273h6M285 279h12M279 285h12M273 291h12M273 297h6M267 303h12M261 309h12M261 315h6M255 321h12M255 327h6M249 333h12M237 345h6M225 351h6M219 357h6M207 363h6M189 375h6M171 387h6M159 393h6M153 399h6M141 405h6M123 417h6M105 429h6"/>
<path stroke="#3a3a3a" d="M651 -315h6M645 -261h6M633 -207h6M597 -87h6M561 -15h6M717 45h6M507 87h6M495 99h6M459 117h6M435 129h6M423 135h6M417 141h6M411 147h6M405 153h6M399 159h6M393 165h6M387 171h6M381 177h6M381 183h6M375 189h6M369 195h6M357 201h12M357 207h6M351 213h6M345 219h6M339 225h6M333 231h6M327 237h6M321 243h12M321 249h6M315 255h6M309 261h6M303 267h12M297 273h12M297 279h6M291 285h6M285 291h12M279 297h12M279 303h6M273 309h12M267 315h12M267 321h6M261 327h12M249 339h6M231 351h6M213 363h6M201 369h6M195 375h6M183 381h6M165 393h6M147 405h6M135 411h6M129 417h6M117 423h6M111 429h6"/>
<path stroke="#3c3c3c" d="M651 -309h6M651 -303h6M645 -255h6M639 -231h6M627 -177h6M621 -153h6M615 -135h6M609 -117h6M591 -75h6M585 -63h6M579 -51h6M573 -39h6M567 -27h6M513 81h6M477 111h6M429 135h6M423 141h6M417 147h6M411 153h6M405 159h6M399 165h6M393 171h6M387 177h6M387 183h6M381 189h6M375 195h6M369 201h6M363 207h6M357 213h6M351 219h6M345 225h6M339 231h12M333 237h12M333 243h6M327 249h6M321 255h6M315 261h12M315 267h6M309 273h6M303 279h12M297 285h12M297 291h6M291 297h6M285 303h12M285 309h6M279 315h6M273 321h12M261 333h6M243 345h6M225 357h6M207 369h6M189 381h6M177 387h6M159 399h6M141 411h6M123 423h6M117 429h12M105 435h24M105 441h18M105 447h6"/>
<path stroke="#3e3e3e" d="M651 -297h6M633 -201h6M603 -99h6M465 117h6M447 123h6M441 129h6M435 135h6M429 141h6M423 147h6M417 153h6M411 159h6M405 165h6M399 171h6M393 177h6M393 183h6M387 189h6M381 195h6M375 201h6M369 207h6M363 213h6M357 219h12M351 225h12M351 231h6M345 237h6M339 243h6M333 249h6M327 255h12M327 261h6M321 267h6M315 273h6M315 279h6M309 285h6M303 291h12M297 297h12M297 303h6M291 309h6M285 315h6M273 327h6M255 339h6M237 351h6M219 363h6M201 375h6M183 387h6M171 393h6M153 405h6M135 417h12M129 423h18M129 429h18M129 435h6"/>
<path stroke="#404040" d="M651 -291h6M651 -285h6M645 -249h6M639 -225h6M627 -171h6M555 3h6M549 15h6M543 27h6M537 39h6M531 51h6M525 63h6M489 105h6M441 135h6M435 141h6M429 147h6M423 153h6M417 159h6M411 165h6M405 171h6M399 177h6M393 189h6M387 195h6M381 201h6M375 207h6M369 213h12M369 219h6M363 225h6M357 231h6M351 237h6M345 243h6M339 249h6M339 255h6M333 261h6M327 267h6M321 273h12M321 279h6M315 285h6M315 291h6M309 297h6M303 303h6M297 309h6M291 315h6M285 321h6M267 333h6M249 345h6M231 357h6M213 369h6M195 381h6M177 393h6M165 399h6M159 405h6M147 411h12M147 417h12M147 423h12"/>
<path stroke="#424242" d="M651 -279h6M633 -195h6M621 -147h6M615 -129h6M609 -111h6M597 -81h6M561 -9h6M519 75h6M471 117h6M453 123h6M447 129h6M441 141h6M435 147h6M429 153h6M423 159h6M417 165h6M411 171h6M405 177h6M399 183h6M393 195h6M387 201h6M381 207h6M381 213h6M375 219h6M369 225h6M363 231h6M357 237h6M351 243h6M345 249h12M345 255h6M339 261h6M333 267h6M333 273h6M327 279h6M321 285h6M321 291h6M315 297h6M309 303h6M303 309h6M297 315h6M279 327h6M261 339h6M243 351h6M225 363h6M207 375h6M189 387h6M171 399h6M165 405h12M159 411h18M159 417h12"/>
<path stroke="#444444" d="M657 -333h6M657 -327h6M651 -273h6M651 -267h6M645 -243h6M639 -219h6M633 -189h6M627 -165h6M603 -93h6M591 -69h6M585 -57h6M579 -45h6M573 -33h6M567 -21h6M507 93h6M501 99h6M483 111h6M447 135h6M441 147h6M435 153h6M429 159h6M423 165h6M417 171h6M411 177h6M405 183h6M399 189h6M399 195h6M393 201h6M387 207h6M381 219h6M375 225h6M369 231h6M363 237h6M357 243h6M357 249h6M351 255h6M345 261h6M339 267h6M339 273h6M333 279h6M327 285h6M327 291h6M321 297h6M315 303h6M309 309h6M291 321h6M273 333h6M255 345h6M237 357h6M219 369h6M201 381h6M183 393h6M177 399h12M177 405h12M177 411h6"/>
<path stroke="#464646" d="M657 -321h6M657 -315h6M639 -213h6M627 -159h6M621 -141h6M615 -123h6M513 87h6M459 123h6M453 129h6M447 141h6M435 159h6M429 165h6M423 171h6M417 177h6M411 183h6M405 189h6M405 195h6M399 201h6M393 207h6M387 213h6M387 219h6M381 225h6M375 231h6M369 237h6M363 243h12M363 249h6M357 255h6M351 261h6M345 267h6M345 273h6M339 279h6M333 285h6M333 291h6M327 297h6M303 315h6M285 327h6M267 339h6M261 345h6M249 351h6M243 357h6M231 363h6M213 375h6M195 387h12M189 393h18M189 399h18M189 405h6"/>
<path stroke="#484848" d="M657 -309h6M651 -261h6M645 -237h6M633 -183h6M609 -105h6M549 21h6M543 33h6M537 45h6M531 57h6M525 69h6M495 105h6M453 135h6M447 147h6M441 153h6M429 171h6M423 177h6M417 183h6M411 189h6M405 201h6M399 207h6M393 213h6M393 219h6M387 225h6M381 231h6M375 237h6M375 243h6M369 249h6M363 255h6M357 261h6M351 267h6M351 273h6M345 279h6M339 285h6M339 291h6M321 303h6M315 309h6M297 321h6M291 327h6M279 333h6M273 339h6M255 351h6M237 363h6M225 369h6M219 375h6M207 381h18M207 387h18M207 393h6"/>
<path stroke="#4a4a4a" d="M657 -303h6M651 -255h6M645 -231h6M639 -207h6M603 -87h6M597 -75h6M561 -3h6M555 9h6M705 51h6M477 117h6M465 123h6M459 129h6M453 141h6M441 159h6M435 165h6M429 177h6M423 183h6M417 189h6M411 195h6M411 201h6M405 207h6M399 213h6M393 225h6M387 231h6M381 237h6M381 243h6M375 249h6M369 255h6M363 261h6M357 267h6M357 273h6M351 279h6M345 285h6M333 297h6M327 303h6M309 315h6M303 321h6M285 333h6M267 345h6M249 357h6M231 369h6M225 375h12M225 381h12"/>
<path stroke="#4c4c4c" d="M657 -297h6M657 -291h6M633 -177h6M627 -153h6M621 -135h6M615 -117h6M609 -99h6M591 -63h6M585 -51h6M579 -39h6M567 -15h6M519 81h6M489 111h6M459 135h6M453 147h6M447 153h6M441 165h6M435 171h6M435 177h6M429 183h6M423 189h6M417 195h6M417 201h6M411 207h6M405 213h6M399 219h6M399 225h6M393 231h6M387 237h6M381 249h6M375 255h6M363 267h6M363 273h6M357 279h6M351 285h6M345 291h6M321 309h6M315 315h6M297 327h6M279 339h6M261 351h6M243 363h12M237 369h18M237 375h12"/>
<path stroke="#4e4e4e" d="M657 -285h6M651 -249h6M645 -225h6M639 -201h6M633 -171h6M573 -27h6M507 99h6M471 123h6M465 129h6M459 141h6M447 159h6M441 171h6M435 183h6M429 189h6M423 195h6M417 207h6M411 213h6M405 219h6M405 225h6M399 231h6M393 237h6M387 243h6M369 261h6M369 267h6M369 273h6M363 279h6M357 285h6M339 297h6M333 303h6M327 309h6M309 321h6M291 333h6M273 345h6M255 357h12M255 363h12M255 369h6"/>
<path stroke="#505050" d="M663 -339h6M663 -333h6M663 -327h6M657 -279h6M657 -273h6M639 -195h6M627 -147h6M621 -129h6M549 27h6M543 39h6M537 51h6M531 63h6M513 93h6M501 105h6M483 117h6M465 135h6M459 147h6M453 153h6M447 165h6M441 177h6M441 183h6M435 189h6M429 195h6M423 201h6M423 207h6M417 213h6M411 219h6M405 231h6M399 237h6M393 243h6M387 249h6M381 255h6M375 261h12M375 267h6M351 291h6M345 297h6M321 315h6M303 327h6M285 339h6M279 345h6M267 351h18M267 357h18M267 363h6"/>
<path stroke="#525252" d="M663 -321h6M657 -267h6M651 -243h6M645 -219h6M639 -189h6M633 -165h6M615 -111h6M603 -81h6M597 -69h6M561 3h6M555 15h6M771 15h6M495 111h6M477 123h6M471 129h6M465 141h6M453 159h6M447 171h6M447 177h6M441 189h6M435 195h6M429 201h6M429 207h6M423 213h6M417 219h6M411 225h6M411 231h6M405 237h6M399 243h6M387 261h6M381 267h6M375 273h6M369 279h6M363 285h6M357 291h6M339 303h6M333 309h6M315 321h6M309 327h6M297 333h6M291 339h6M285 345h12M285 351h12"/>
<path stroke="#545454" d="M663 -315h6M663 -309h6M645 -213h6M609 -93h6M591 -57h6M585 -45h6M567 -9h6M759 21h6M525 75h6M729 93h6M717 99h6M705 105h6M693 111h6M681 117h6M669 123h6M657 129h6M471 135h6M645 135h6M633 141h6M465 147h6M459 153h6M453 165h6M453 171h6M447 183h6M441 195h6M435 201h6M435 207h6M429 213h6M423 219h6M417 225h6M417 231h6M411 237h6M393 249h6M387 255h18M393 261h6M387 267h6M381 273h6M375 279h6M369 285h6M351 297h6M345 303h6M327 315h6M321 321h6M303 333h12M297 339h18M297 345h12"/>
<path stroke="#565656" d="M663 -303h6M657 -261h6M651 -237h6M639 -183h6M633 -159h6M627 -141h6M621 -123h6M615 -105h6M579 -33h6M573 -21h6M753 81h6M519 87h6M741 87h6M489 117h6M477 129h6M471 141h6M621 147h6M465 153h6M609 153h6M459 159h6M597 159h6M459 165h6M585 165h6M453 177h6M447 189h6M441 201h6M435 213h6M429 219h6M423 225h6M405 249h6M405 255h6M399 261h6M393 267h6M363 291h6M357 297h6M339 309h6M333 315h6M327 321h6M315 327h18M315 333h18M315 339h6"/>
<path stroke="#585858" d="M663 -297h6M663 -291h6M657 -255h6M651 -231h6M645 -207h6M747 27h6M735 39h6M537 57h6M765 75h6M507 105h6M483 123h6M477 135h6M471 147h6M465 159h6M459 171h6M573 171h6M453 183h6M453 189h6M447 195h6M447 201h6M441 207h6M441 213h6M435 219h6M429 225h6M423 231h6M405 243h6M417 243h6M399 249h6M411 249h6M387 273h6M381 279h6M375 285h6M369 291h6M363 297h6M351 303h6M345 309h6M339 315h6M333 321h12M333 327h12"/>
<path stroke="#5a5a5a" d="M669 -339h6M669 -333h6M669 -327h6M663 -285h6M645 -201h6M639 -177h6M633 -153h6M627 -135h6M621 -117h6M609 -87h6M603 -75h6M597 -63h6M561 9h6M555 21h6M549 33h6M747 33h6M543 45h6M531 69h6M777 69h6M513 99h6M501 111h6M483 129h6M477 141h6M471 153h6M465 165h6M459 177h6M561 177h6M459 183h6M453 195h6M447 207h6M441 219h6M435 225h6M411 243h6M423 243h6M417 249h6M411 255h6M405 261h6M399 267h6M393 273h6M387 279h6M381 285h6M375 291h6M357 303h6M351 309h12M345 315h18M345 321h12"/>
<path stroke="#5c5c5c" d="M669 -321h6M663 -279h6M663 -273h6M657 -249h6M651 -225h6M645 -195h6M639 -171h6M615 -99h6M591 -51h6M585 -39h6M567 -3h6M759 27h6M735 33h6M723 45h6M525 81h6M495 117h6M489 123h6M483 135h6M477 147h6M471 159h6M471 165h6M465 171h6M465 177h6M459 189h6M453 201h6M447 213h6M417 237h6M429 237h6M429 243h6M423 249h6M417 255h6M411 261h6M405 267h6M399 273h6M393 279h6M369 297h6M363 303h12M363 309h12M363 315h6"/>
<path stroke="#5e5e5e" d="M669 -315h6M669 -309h6M663 -267h6M657 -243h6M651 -219h6M639 -165h6M633 -147h6M627 -129h6M579 -27h6M573 -15h6M519 93h6M489 129h6M483 141h6M477 153h6M477 159h6M471 171h6M465 183h6M549 183h6M465 189h6M459 195h6M459 201h6M453 207h6M453 213h6M447 219h6M441 231h6M423 237h6M435 237h12M435 243h6M429 249h6M387 285h6M381 291h6M375 297h12M375 303h12M375 309h6"/>
<path stroke="#606060" d="M675 -345h6M675 -339h6M675 -333h6M669 -303h6M651 -213h6M645 -189h6M621 -111h6M609 -81h6M771 21h6M693 57h6M537 63h6M507 111h6M495 123h6M489 135h6M483 147h6M477 165h6M471 177h6M471 183h6M537 189h6M465 195h6M459 207h6M429 231h12M447 231h6M423 255h6M417 261h6M411 267h6M405 273h6M399 279h6M393 285h6M387 291h12M387 297h12M387 303h6"/>
<path stroke="#626262" d="M675 -327h6M675 -321h6M669 -297h6M669 -291h6M663 -261h6M657 -237h6M651 -207h6M645 -183h6M639 -159h6M633 -141h6M627 -123h6M615 -93h6M603 -69h6M597 -57h6M561 15h6M555 27h6M549 39h6M543 51h6M531 75h6M513 105h6M501 117h6M495 129h6M489 141h6M483 153h6M483 159h6M477 171h6M477 177h6M471 189h6M471 195h6M465 201h6M465 207h6M459 213h6M441 225h18M453 231h6M447 237h6M441 243h6M435 249h6M429 255h6M423 261h6M417 267h6M411 273h6M405 279h6M399 285h6M399 291h6M399 297h6"/>
<path stroke="#646464" d="M675 -315h6M675 -309h6M669 -285h6M669 -279h6M663 -255h6M657 -231h6M651 -201h6M645 -177h6M621 -105h6M591 -45h6M585 -33h6M567 3h6M723 39h6M711 51h6M525 87h6M501 123h6M495 135h6M489 147h6M489 153h6M483 165h6M483 171h6M477 183h6M477 189h6M543 189h6M525 195h12M471 201h6M513 201h12M501 207h12M495 213h6M453 219h12M477 219h12M459 225h18M459 231h6M453 237h6M447 243h6M441 249h6M435 255h6M429 261h6M423 267h6M417 273h6M411 279h6M405 285h12M405 291h12"/>
<path stroke="#666666" d="M681 -345h6M681 -339h6M681 -333h6M681 -327h6M675 -303h6M675 -297h6M669 -273h6M663 -249h6M657 -225h6M651 -195h6M645 -171h6M639 -153h6M633 -135h6M627 -117h6M615 -87h6M579 -21h6M573 -9h6M519 99h6M507 117h6M501 129h6M495 141h6M495 147h6M489 159h6M489 165h6M489 171h6M483 177h6M483 183h6M555 183h6M477 195h6M477 201h6M471 207h12M465 213h12M489 213h6M465 219h6M423 273h6M417 279h12M417 285h12"/>
<path stroke="#686868" d="M681 -321h6M681 -315h6M675 -291h6M669 -267h6M663 -243h6M657 -219h6M651 -189h6M645 -165h6M639 -147h6M633 -129h6M621 -99h6M609 -75h6M603 -63h6M597 -51h6M543 57h6M537 69h6M513 111h6M507 123h6M501 135h6M501 141h6M495 153h6M495 159h6M495 165h6M489 177h6M567 177h6M489 183h6M483 189h6M483 195h6M501 195h6M483 201h12M483 207h6M477 213h6M471 219h6M465 231h6M459 237h6M453 243h6M447 249h6M441 255h6M435 261h6M429 267h12M429 273h12M429 279h12"/>
<path stroke="#6a6a6a" d="M687 -351h6M687 -345h6M687 -339h6M681 -309h6M681 -303h6M681 -297h6M675 -285h6M675 -279h6M675 -273h6M669 -261h6M669 -255h6M663 -237h6M657 -213h6M657 -207h6M651 -183h6M651 -177h6M645 -159h6M639 -141h6M627 -111h6M591 -39h6M561 21h6M555 33h6M549 45h6M531 81h6M507 129h6M501 147h6M501 153h6M501 159h6M495 171h6M495 177h6M525 183h6M489 189h6M513 189h6M489 195h6M495 201h6M483 213h6M477 225h6M459 243h6M453 249h6M447 255h6M441 261h6M441 267h6M441 273h6"/>
<path stroke="#6c6c6c" d="M687 -333h6M687 -327h6M687 -321h6M681 -291h6M681 -285h6M675 -267h6M675 -261h6M669 -249h6M669 -243h6M663 -231h6M663 -225h6M663 -219h6M663 -213h6M663 -207h6M657 -201h12M657 -195h12M657 -189h12M657 -183h12M657 -177h12M651 -171h12M651 -165h12M651 -159h6M645 -153h6M645 -147h6M639 -135h6M633 -123h6M621 -93h6M615 -81h6M609 -69h6M585 -27h6M579 -15h6M573 -3h6M567 9h6M525 93h6M519 105h6M513 117h6M513 123h6M507 135h6M507 141h6M507 147h6M501 165h6M501 171h6M579 171h6M537 177h6M495 183h6M495 189h6M495 195h6M489 207h6M471 231h6M465 237h6M453 255h6M447 261h6M447 267h6M447 273h6"/>
<path stroke="#6e6e6e" d="M687 -315h6M687 -309h6M687 -303h6M687 -297h6M681 -279h6M681 -273h6M681 -267h6M675 -255h6M675 -249h6M675 -243h6M669 -237h6M669 -231h6M669 -225h6M669 -219h6M669 -213h12M669 -207h12M669 -201h18M669 -195h24M669 -189h18M669 -183h18M669 -177h18M663 -171h18M663 -165h18M657 -159h18M651 -153h18M651 -147h18M645 -141h18M645 -135h12M639 -129h12M639 -123h6M633 -117h6M627 -105h6M603 -57h6M519 111h6M513 129h6M507 153h6M507 159h6M507 165h6M561 165h6M549 171h6M501 177h6M501 183h6M501 189h6M507 195h6M495 207h6M489 219h6M477 231h6M471 237h6M465 243h6M459 249h6M459 255h6M453 261h12M453 267h12"/>
<path stroke="#707070" d="M693 -351h6M693 -345h6M693 -339h6M693 -333h6M693 -327h6M687 -291h6M687 -285h6M687 -279h6M687 -273h6M681 -261h6M681 -255h6M681 -249h6M675 -237h6M675 -231h12M675 -225h12M675 -219h18M681 -213h18M681 -207h30M687 -201h24M693 -195h18M687 -189h24M687 -183h18M687 -177h18M681 -171h24M681 -165h18M675 -159h24M669 -153h30M669 -147h18M663 -141h18M657 -135h18M651 -129h12M645 -123h12M639 -117h12M633 -111h6M627 -99h6M621 -87h6M615 -75h6M609 -63h6M597 -45h6M591 -33h6M561 27h6M555 39h6M711 45h6M549 51h6M699 57h6M543 63h6M537 75h6M531 87h6M525 99h6M519 117h6M513 135h6M513 141h6M513 147h6M573 159h6M591 165h6M507 171h6M507 177h6M507 183h6M507 189h6M501 201h12M501 213h6M483 225h6M477 237h6M471 243h6M465 249h6M465 255h6M465 261h6"/>
<path stroke="#727272" d="M693 -321h6M693 -315h6M693 -309h6M693 -303h6M693 -297h6M693 -291h6M693 -285h6M687 -267h6M687 -261h6M687 -255h6M687 -249h6M681 -243h12M681 -237h12M687 -231h12M687 -225h18M693 -219h30M699 -213h36M711 -207h24M711 -201h24M711 -195h30M711 -189h36M705 -183h54M705 -177h42M705 -171h36M699 -165h30M699 -159h24M699 -153h12M687 -147h12M681 -141h12M675 -135h12M663 -129h12M657 -123h12M651 -117h12M639 -111h12M633 -105h12M633 -99h6M627 -93h6M621 -81h6M615 -69h6M603 -51h6M585 -21h6M579 -9h6M573 3h6M567 15h6M771 69h6M525 105h6M519 123h6M519 129h6M513 153h6M585 153h6M513 159h6M513 165h6M519 189h6M495 219h6M489 225h6M483 231h6M471 249h6M471 255h6M471 261h6"/>
<path stroke="#747474" d="M693 -279h6M693 -273h6M693 -267h6M693 -261h6M693 -255h6M693 -249h6M693 -243h6M693 -237h18M699 -231h30M705 -225h48M723 -219h36M777 -219h6M735 -213h48M735 -207h48M735 -201h48M741 -195h42M747 -189h36M759 -183h18M747 -177h18M741 -171h12M729 -165h18M723 -159h12M711 -153h12M699 -147h18M693 -141h12M687 -135h12M675 -129h12M669 -123h12M663 -117h12M651 -111h12M645 -105h12M639 -99h12M633 -93h6M627 -87h6M627 -81h6M621 -75h6M621 -69h6M615 -63h6M609 -57h6M597 -39h6M543 69h6M537 81h6M531 93h6M531 99h6M525 111h6M525 117h6M519 135h6M519 141h6M519 147h6M597 147h6M603 159h6M513 171h6M513 177h6M513 183h6M495 225h6M489 231h6M483 237h6M477 243h6M477 249h6M477 255h6"/>
<path stroke="#767676" d="M699 -357h6M699 -351h6M699 -345h6M699 -339h6M699 -333h6M699 -327h6M699 -321h6M699 -315h6M699 -309h6M699 -303h6M699 -297h6M699 -291h6M699 -285h6M699 -279h6M699 -273h6M699 -267h6M699 -261h6M699 -255h6M699 -249h18M699 -243h36M777 -243h6M711 -237h72M729 -231h54M753 -225h30M759 -219h18M777 -183h6M765 -177h18M753 -171h18M747 -165h12M735 -159h18M723 -153h18M717 -147h12M705 -141h12M699 -135h12M687 -129h12M681 -123h12M675 -117h6M663 -111h12M657 -105h12M651 -99h12M639 -93h12M633 -87h12M633 -81h6M627 -75h6M615 -57h6M609 -51h6M603 -45h6M591 -27h6M585 -15h6M579 -3h6M561 33h6M555 45h6M549 57h6M681 63h6M759 75h6M537 87h6M531 105h6M525 123h6M609 141h6M519 153h6M519 159h6M519 165h6M519 183h6M513 195h12M513 207h6M507 213h6M501 219h6M495 231h6M489 237h6M483 243h12M483 249h12M483 255h6"/>
<path stroke="#787878" d="M711 -363h12M705 -357h18M705 -351h18M705 -345h18M705 -339h18M705 -333h18M705 -327h18M705 -321h18M705 -315h18M705 -309h18M705 -303h18M705 -297h18M705 -291h18M705 -285h18M705 -279h18M705 -273h18M705 -267h18M705 -261h18M705 -255h36M777 -255h6M717 -249h66M735 -243h42M771 -171h12M759 -165h18M753 -159h12M741 -153h18M729 -147h18M717 -141h18M711 -135h12M699 -129h12M693 -123h12M681 -117h12M675 -111h12M669 -105h12M663 -99h6M651 -93h12M645 -87h12M639 -81h12M633 -75h6M627 -69h6M621 -63h6M603 -39h6M597 -33h6M591 -21h6M573 9h6M567 21h6M549 63h6M543 75h6M537 93h6M531 111h6M525 129h6M525 135h6M621 135h6M525 141h6M519 171h6M519 177h6M531 183h6M507 219h6M501 225h6M495 237h6M495 243h6M495 249h6"/>
<path stroke="#7a7a7a" d="M735 -375h6M723 -369h18M723 -363h18M723 -357h18M723 -351h18M723 -345h18M723 -339h18M723 -333h18M723 -327h18M723 -321h18M723 -315h18M723 -309h18M723 -303h18M723 -297h18M723 -291h18M723 -285h18M723 -279h18M723 -273h18M723 -267h18M723 -261h60M741 -255h36M777 -165h6M765 -159h18M759 -153h18M747 -147h18M735 -141h18M723 -135h18M711 -129h18M705 -123h12M693 -117h12M687 -111h12M681 -105h12M669 -99h12M663 -93h12M657 -87h6M651 -81h6M639 -75h6M633 -69h6M627 -63h6M621 -57h6M615 -51h6M609 -45h6M603 -33h6M597 -27h6M591 -15h6M585 -9h6M579 3h6M567 27h6M561 39h6M555 51h6M771 57h6M549 69h6M543 81h6M747 81h6M543 87h6M777 93h6M537 99h6M765 99h18M765 105h18M765 111h6M531 117h6M531 123h6M633 129h6M525 147h6M525 153h6M615 153h6M525 159h6M525 165h6M531 177h6M525 201h6M513 213h6M513 219h6M507 225h6M501 231h6M501 237h6M501 243h6"/>
<path stroke="#7c7c7c" d="M747 -381h6M741 -375h12M741 -369h12M741 -363h12M741 -357h12M741 -351h12M741 -345h12M741 -339h12M741 -333h12M741 -327h12M741 -321h12M741 -315h12M741 -309h12M741 -303h12M741 -297h12M741 -291h12M741 -285h12M741 -279h12M741 -273h24M771 -273h12M741 -267h42M777 -153h6M765 -147h18M753 -141h18M741 -135h18M729 -129h18M717 -123h18M705 -117h18M699 -111h12M693 -105h6M681 -99h6M675 -93h6M663 -87h6M657 -81h6M645 -75h6M639 -69h6M627 -57h6M621 -51h6M615 -45h6M609 -39h6M597 -21h6M585 -3h6M579 9h6M573 15h6M561 45h6M555 57h6M759 63h6M549 75h6M543 93h6M771 93h6M759 99h6M537 105h6M753 105h12M537 111h6M741 111h24M657 117h6M735 117h24M645 123h6M735 123h12M531 129h6M531 135h6M531 141h6M525 171h6M525 177h6M525 189h12M519 207h6M519 213h6M513 225h6M507 231h12M507 237h12M507 243h6"/>
<path stroke="#7e7e7e" d="M759 -387h12M753 -381h18M753 -375h18M753 -369h18M753 -363h18M753 -357h18M753 -351h18M753 -345h18M753 -339h18M753 -333h18M753 -327h18M753 -321h18M753 -315h18M753 -309h18M753 -303h18M753 -297h18M753 -291h18M753 -285h30M753 -279h30M765 -273h6M771 -141h6M759 -135h6M747 -129h6M735 -123h6M723 -117h6M711 -111h6M699 -105h6M687 -99h6M681 -93h6M669 -87h6M663 -81h6M651 -75h6M645 -69h6M633 -63h6M615 -39h6M609 -33h6M603 -27h6M597 -15h6M591 -9h6M585 3h6M573 21h6M567 33h6M561 51h6M555 63h6M687 63h6M549 81h6M735 87h6M543 99h6M747 105h6M669 111h6M735 111h6M537 117h6M729 117h6M537 123h6M717 123h18M705 129h30M705 135h18M705 141h6M531 147h6M531 153h6M531 159h6M531 165h6M543 177h6M525 207h6M525 213h6M519 219h12M519 225h12M519 231h12M519 237h6"/>
<path stroke="#818181" d="M771 -393h12M771 -387h12M771 -381h12M771 -375h12M771 -369h12M771 -363h12M771 -357h12M771 -351h12M771 -345h12M771 -339h12M771 -333h12M771 -327h12M771 -321h12M771 -315h12M771 -309h12M771 -303h12M771 -297h12M771 -291h12M777 -141h6M765 -135h6M753 -129h6M741 -123h6M729 -117h6M717 -111h6M705 -105h6M693 -99h6M687 -93h6M675 -87h6M657 -75h6M651 -69h6M639 -63h6M633 -57h6M627 -51h6M621 -45h6M609 -27h6M603 -21h6M597 -9h6M591 -3h6M585 9h6M579 15h6M573 27h6M567 39h6M699 51h6M561 57h6M555 69h6M747 69h6M549 87h6M543 105h6M681 105h6M723 117h6M537 129h6M537 135h6M693 135h12M537 141h6M681 141h24M627 147h6M675 147h24M675 153h12M531 171h6M543 171h6M543 183h6M537 195h6M531 201h6M531 207h6M531 213h12M531 219h12M531 225h12"/>
<path stroke="#838383" d="M771 -135h6M759 -129h6M747 -123h6M735 -117h6M723 -111h6M711 -105h6M699 -99h6M681 -87h6M669 -81h6M663 -75h6M645 -63h6M639 -57h6M633 -51h6M627 -45h6M621 -39h6M615 -33h6M609 -21h6M603 -15h6M591 3h6M579 21h6M573 33h6M567 45h6M561 63h6M555 75h6M735 75h6M555 81h6M777 87h6M549 93h6M765 93h6M549 99h6M693 99h6M543 111h6M543 117h6M711 123h6M699 129h6M537 147h6M669 147h6M537 153h6M657 153h18M537 159h6M645 159h30M537 165h6M645 165h18M645 171h6M537 201h6M537 207h12M543 213h6M543 219h6"/>
<path stroke="#858585" d="M777 -135h6M765 -129h6M753 -123h6M741 -117h6M729 -111h6M717 -105h6M705 -99h6M693 -93h6M687 -87h6M675 -81h6M669 -75h6M657 -69h6M651 -63h6M645 -57h6M621 -33h6M615 -27h6M603 -9h6M597 -3h6M591 9h6M585 15h6M579 27h6M573 39h6M567 51h6M561 69h6M555 87h6M717 87h6M705 93h6M723 93h6M753 99h6M549 105h6M741 105h6M543 123h6M543 129h6M543 135h6M687 135h6M543 141h6M639 141h6M675 141h6M555 165h6M633 165h12M537 171h6M555 171h6M621 171h24M609 177h30M537 183h6M609 183h18M609 189h6M543 201h6M549 207h12M549 213h12M549 219h6"/>
<path stroke="#878787" d="M771 -129h6M759 -123h6M747 -117h6M735 -111h6M723 -105h6M711 -99h6M699 -93h6M681 -81h6M663 -69h6M657 -63h6M639 -51h6M633 -45h6M627 -39h6M615 -21h6M609 -15h6M597 3h6M585 21h6M579 33h6M573 45h6M567 57h6M561 75h6M741 75h6M723 81h12M555 93h6M549 111h6M729 111h6M549 117h6M651 135h6M543 147h6M663 147h6M543 153h6M651 153h6M543 159h6M543 165h6M555 177h6M597 183h12M549 189h6M585 189h24M543 195h6M579 195h24M549 201h24M579 201h12M561 207h12M561 213h6"/>
<path stroke="#898989" d="M777 -129h6M765 -123h12M753 -117h12M741 -111h6M729 -105h6M717 -99h6M705 -93h6M693 -87h6M687 -81h6M675 -75h6M669 -69h6M663 -63h6M651 -57h6M645 -51h6M639 -45h6M633 -39h6M627 -33h6M621 -27h6M615 -15h6M609 -9h6M603 -3h6M591 15h6M585 27h6M579 39h6M573 51h6M567 63h6M765 63h6M567 69h6M753 69h6M561 81h6M711 87h6M771 87h6M759 93h6M555 99h6M711 99h6M717 117h6M549 123h6M549 129h6M549 135h6M549 141h6M567 159h6M639 159h6M627 165h6M615 171h6M603 177h6M591 183h6M549 195h30M573 201h6M573 207h6"/>
<path stroke="#8b8b8b" d="M777 -123h6M765 -117h6M747 -111h12M735 -105h6M723 -99h6M711 -93h6M699 -87h6M681 -75h6M675 -69h6M657 -57h6M651 -51h6M627 -27h6M621 -21h6M603 3h6M597 9h6M591 21h6M573 57h6M777 57h6M567 75h6M561 87h6M561 93h6M747 99h6M555 105h6M555 111h6M555 117h6M705 123h6M663 129h6M693 129h6M549 147h6M549 153h6M549 159h6M549 165h6M567 165h6M567 171h6M549 177h6M561 183h6M579 189h6"/>
<path stroke="#8d8d8d" d="M771 -117h6M759 -111h6M741 -105h12M729 -99h6M717 -93h6M705 -87h6M693 -81h6M687 -75h6M669 -63h6M663 -57h6M645 -45h6M639 -39h6M633 -33h6M615 -9h6M609 -3h6M597 15h6M585 33h6M579 45h6M573 63h6M567 81h6M699 93h6M561 99h6M699 105h6M735 105h6M555 123h6M675 123h6M555 129h6M555 135h6M681 135h6M555 141h6M669 141h6M555 147h6M579 153h6M597 177h6M585 183h6M555 189h24"/>
<path stroke="#8f8f8f" d="M777 -117h6M765 -111h6M753 -105h6M735 -99h12M723 -93h6M711 -87h6M699 -81h6M681 -69h6M675 -63h6M669 -57h6M657 -51h6M651 -45h6M645 -39h6M639 -33h6M633 -27h6M627 -21h6M621 -15h6M603 9h6M591 27h6M585 39h6M579 51h6M687 57h6M573 69h6M669 69h6M777 81h6M567 87h6M765 87h6M687 99h6M561 105h6M561 111h6M723 111h6M561 117h6M687 117h6M657 147h6M555 153h6M645 153h6M555 159h6M633 159h6M579 165h6M621 165h6M609 171h6M579 183h6"/>
<path stroke="#919191" d="M771 -111h6M759 -105h6M747 -99h6M729 -93h12M717 -87h6M705 -81h6M693 -75h6M687 -69h6M681 -63h6M663 -51h6M657 -45h6M651 -39h6M615 -3h6M609 3h6M603 15h6M597 21h6M591 33h6M585 45h6M579 57h6M579 63h6M675 69h6M573 75h6M771 75h6M573 81h6M759 81h6M747 87h6M567 93h6M735 93h6M753 93h6M567 99h6M723 99h6M675 105h6M711 105h6M687 111h6M699 111h6M711 117h6M561 123h6M561 129h6M561 135h6M561 141h6M561 147h6M591 147h6M579 159h6M573 177h6M591 177h6M567 183h12"/>
<path stroke="#939393" d="M777 -111h6M765 -105h6M753 -99h6M741 -93h6M723 -87h6M711 -81h6M699 -75h6M693 -69h6M675 -57h6M669 -51h6M645 -33h6M639 -27h6M633 -21h6M627 -15h6M621 -9h6M609 9h6M597 27h6M591 39h6M585 51h6M579 69h6M573 87h6M741 99h6M567 105h6M567 111h6M567 117h6M675 117h6M699 123h6M687 129h6M675 135h6M603 141h6M561 153h6M561 159h6M591 159h6M561 171h6M603 171h6M585 177h6"/>
<path stroke="#959595" d="M771 -105h6M759 -99h6M747 -93h6M729 -87h12M717 -81h6M705 -75h6M687 -63h6M681 -57h6M663 -45h6M657 -39h6M651 -33h6M621 -3h6M615 3h6M777 9h6M603 21h6M585 57h6M579 75h6M771 81h6M759 87h6M573 93h6M729 105h6M663 111h6M567 123h6M567 129h6M567 135h6M567 141h6M663 141h6M567 147h6M651 147h6M603 153h6M627 159h6M615 165h6M585 171h6M579 177h6"/>
<path stroke="#979797" d="M777 -105h6M765 -99h12M753 -93h6M741 -87h6M723 -81h12M711 -75h6M699 -69h6M693 -63h6M675 -51h6M669 -45h6M663 -39h6M645 -27h6M639 -21h6M633 -15h6M627 -9h6M609 15h6M597 33h6M591 45h6M585 63h6M579 81h6M573 99h6M573 105h6M573 111h6M717 111h6M573 117h6M651 117h6M663 123h6M615 135h6M567 153h6M591 153h6M639 153h6M597 171h6"/>
<path stroke="#999999" d="M777 -99h6M759 -93h12M747 -87h6M735 -81h6M717 -75h6M705 -69h6M687 -57h6M681 -51h6M657 -33h6M651 -27h6M621 3h6M615 9h6M765 15h6M603 27h6M597 39h6M591 51h6M591 57h6M585 69h6M777 75h6M579 87h6M747 93h6M705 117h6M573 123h6M639 123h6M573 129h6M627 129h6M651 129h6M573 135h6M573 141h6M573 147h6M615 147h6M573 153h6M573 165h6M609 165h6M591 171h6"/>
<path stroke="#9b9b9b" d="M771 -93h6M753 -87h12M741 -81h6M723 -75h12M711 -69h6M699 -63h6M693 -57h6M675 -45h6M669 -39h6M645 -21h6M639 -15h6M633 -9h6M627 -3h6M615 15h6M609 21h6M753 21h6M603 33h6M597 45h6M591 63h6M585 75h6M585 81h6M765 81h6M579 93h6M579 99h6M735 99h6M579 105h6M579 111h6M693 123h6M681 129h6M639 135h6M669 135h6M627 141h6M621 159h6M597 165h12"/>
<path stroke="#9d9d9d" d="M777 -93h6M765 -87h6M747 -81h12M735 -75h6M717 -69h12M705 -63h6M687 -51h6M681 -45h6M663 -33h6M657 -27h6M651 -21h6M621 9h6M609 27h6M765 27h6M753 33h6M741 39h6M729 45h6M597 51h6M591 69h6M585 87h6M753 87h6M723 105h6M579 117h6M579 123h6M579 129h6M579 135h6M579 141h6M657 141h6M579 147h6M603 147h6M645 147h6M633 153h6"/>
<path stroke="#9f9f9f" d="M771 -87h12M759 -81h12M741 -75h12M729 -69h6M711 -63h6M699 -57h6M693 -51h6M675 -39h6M669 -33h6M645 -15h6M639 -9h6M633 -3h6M627 3h6M615 21h6M777 21h6M741 27h6M603 39h6M717 51h6M597 57h6M675 63h6M591 75h6M585 93h6M741 93h6M585 99h6M585 105h6M585 111h6M711 111h6M585 147h6M585 159h6M609 159h12"/>
<path stroke="#a1a1a1" d="M771 -81h6M753 -75h6M735 -69h6M717 -63h12M705 -57h6M687 -45h6M681 -39h6M663 -27h6M657 -21h6M621 15h6M609 33h6M603 45h6M597 63h6M663 75h6M591 81h6M729 99h6M585 117h6M699 117h6M585 123h6M687 123h6M585 129h6M585 135h6M585 141h6"/>
<path stroke="#a3a3a3" d="M777 -81h6M759 -75h12M741 -69h12M729 -63h6M711 -57h6M699 -51h6M675 -33h6M669 -27h6M651 -15h6M645 -9h6M627 9h6M615 27h6M729 33h6M609 39h6M603 51h6M603 57h6M705 57h6M597 69h6M657 75h6M591 87h6M591 93h6M591 99h6M591 105h6M591 111h6M591 117h6M591 123h6M591 129h6M675 129h6M663 135h6M615 141h6M651 141h6M621 153h12"/>
<path stroke="#a5a5a5" d="M771 -75h6M753 -69h12M735 -63h12M717 -57h12M705 -51h6M693 -45h6M687 -39h6M663 -21h6M657 -15h6M639 -3h6M633 3h6M621 21h6M609 45h6M603 63h6M777 63h6M597 75h6M717 105h6M591 135h6M591 141h6M639 147h6"/>
<path stroke="#a7a7a7" d="M777 -75h6M765 -69h12M747 -63h12M729 -57h6M711 -51h6M699 -45h6M681 -33h6M675 -27h6M669 -21h6M651 -9h6M645 -3h6M627 15h6M615 33h6M717 39h6M609 51h6M777 51h6M765 57h6M603 69h6M765 69h6M597 81h6M597 105h6M597 111h6M705 111h6M597 117h6M693 117h6M597 123h6M681 123h6M597 129h6M669 129h6M597 135h6M597 141h6M633 147h6M597 153h6"/>
<path stroke="#a9a9a9" d="M777 -69h6M759 -63h12M735 -57h12M717 -51h12M705 -45h6M693 -39h6M687 -33h6M663 -15h6M657 -9h6M639 3h6M633 9h6M621 27h6M615 39h6M609 57h6M693 63h6M771 63h6M603 75h6M753 75h6M597 87h6M597 93h6M597 99h6M657 135h6M645 141h6"/>
<path stroke="#ababab" d="M771 -63h6M747 -57h12M729 -51h6M711 -45h6M699 -39h6M681 -27h6M675 -21h6M651 -3h6M645 3h6M627 21h6M621 33h6M615 45h6M609 63h6M753 63h6M663 69h6M759 69h6M603 81h6M603 105h6M603 111h6M603 117h6M603 123h6M603 129h6M603 135h6M627 135h6"/>
<path stroke="#adadad" d="M777 -63h6M759 -57h12M735 -51h18M717 -45h12M705 -39h6M693 -33h6M687 -27h6M669 -15h6M663 -9h6M639 9h6M633 15h6M621 39h6M705 45h6M615 51h6M609 69h6M681 69h6M741 69h6M747 75h6M741 81h6M603 87h6M603 93h6M603 99h6M609 135h6M609 147h6"/>
<path stroke="#afafaf" d="M771 -57h6M753 -51h12M729 -45h12M711 -39h6M681 -21h6M675 -15h6M657 -3h6M651 3h6M627 27h6M621 45h6M777 45h6M765 51h12M615 57h6M609 75h6M651 81h6M735 81h6M609 99h6M609 105h6M609 111h6M609 117h6M609 123h6M609 129h6M639 129h6"/>
<path stroke="#b1b1b1" d="M777 -57h6M765 -51h12M741 -45h12M717 -39h12M699 -33h6M693 -27h6M669 -9h6M663 -3h6M645 9h6M639 15h6M633 21h6M771 27h6M627 33h6M771 39h12M765 45h12M621 51h6M759 51h6M759 57h6M615 63h6M615 69h6M729 75h6M609 81h6M609 87h6M723 87h12M609 93h6M651 123h6M615 129h6"/>
<path stroke="#b3b3b3" d="M777 -51h6M753 -45h24M729 -39h12M705 -33h12M687 -21h6M681 -15h6M675 -9h6M657 3h6M651 9h6M771 9h6M633 27h6M777 27h6M759 33h24M627 39h6M765 39h6M759 45h6M693 51h6M753 51h6M621 57h6M753 57h6M747 63h6M615 75h6M669 75h6M645 81h6M711 93h12M615 99h6M615 105h6M615 111h6M675 111h6M615 117h6M663 117h6M615 123h6M621 129h6M621 141h6"/>
<path stroke="#b5b5b5" d="M777 -45h6M741 -39h42M717 -33h12M759 -33h18M699 -27h6M693 -21h6M669 -3h6M663 3h6M645 15h6M759 15h6M639 21h6M633 33h6M747 39h6M759 39h6M627 45h6M753 45h6M747 51h6M747 57h6M621 63h6M741 63h6M735 69h6M615 81h6M717 81h6M615 87h6M615 93h6M699 99h6M687 105h6M621 123h6"/>
<path stroke="#b7b7b7" d="M729 -33h30M777 -33h6M705 -27h12M747 -27h36M759 -21h18M687 -15h6M681 -9h6M657 9h6M651 15h6M645 21h6M747 21h6M639 27h6M633 39h6M753 39h6M735 45h6M747 45h6M627 51h6M741 51h6M681 57h6M741 57h6M735 63h6M621 69h6M729 69h6M651 75h6M657 81h6M705 87h6M621 93h6M621 99h6M705 99h6M621 105h6M621 111h6M621 117h6"/>
<path stroke="#b9b9b9" d="M717 -27h12M735 -27h12M699 -21h6M741 -21h18M777 -21h6M693 -15h6M747 -15h36M759 -9h18M675 -3h6M669 3h6M777 3h6M663 9h6M765 9h6M657 15h6M651 21h6M645 27h6M735 27h6M639 33h6M633 45h6M741 45h6M723 51h6M735 51h6M627 57h6M729 57h12M729 63h6M723 69h6M621 75h6M723 75h6M621 81h6M621 87h6M693 93h6M681 99h6M693 105h6M627 111h6M681 111h6M627 117h6M669 117h6M627 123h12M657 123h6M633 135h6"/>
<path stroke="#bbbbbb" d="M729 -27h6M705 -21h12M723 -21h18M729 -15h18M687 -9h6M735 -9h24M777 -9h6M681 -3h6M747 -3h36M675 3h6M759 3h18M669 9h6M759 9h6M663 15h12M753 15h6M657 21h12M651 27h12M645 33h12M723 33h6M639 39h6M633 51h6M729 51h6M711 57h6M723 57h6M627 63h6M669 63h6M723 63h6M717 69h6M717 75h6M711 81h6M627 87h6M639 87h6M627 93h6M627 99h6M627 105h6M669 105h6M657 111h6M645 117h6M645 129h6"/>
<path stroke="#bdbdbd" d="M717 -21h6M699 -15h6M711 -15h18M693 -9h6M717 -9h18M687 -3h6M723 -3h24M681 3h6M729 3h30M675 9h12M741 9h18M675 15h6M747 15h6M669 21h6M741 21h6M663 27h6M657 33h6M645 39h12M639 45h6M633 57h6M717 57h6M699 63h6M711 63h12M627 69h6M687 69h6M711 69h6M627 75h6M675 75h6M705 75h12M627 81h6M639 81h6M705 81h6M633 87h6M645 87h6M693 87h12M681 93h12M669 99h12M633 105h6M663 105h6M633 111h6M651 111h6M633 117h12"/>
<path stroke="#bfbfbf" d="M705 -15h6M699 -9h18M693 -3h6M705 -3h18M687 3h12M711 3h18M687 9h6M717 9h24M681 15h12M723 15h24M675 21h12M729 21h12M669 27h12M729 27h6M663 33h12M657 39h6M711 39h6M645 45h12M639 51h12M633 63h6M705 63h6M657 69h6M693 69h18M681 75h24M663 81h42M651 87h6M663 87h30M633 93h6M651 93h30M633 99h36M639 105h24M639 111h12"/>
<path stroke="#c1c1c1" d="M699 -3h6M699 3h12M693 9h24M693 15h30M687 21h12M711 21h18M681 27h12M717 27h12M675 33h12M711 33h12M663 39h12M657 45h12M699 45h6M651 51h6M687 51h6M639 57h12M675 57h6M633 69h6M633 75h6M645 75h6M633 81h6M657 87h6M639 93h12"/>
<path stroke="#c3c3c3" d="M699 21h12M693 27h24M687 33h24M675 39h36M669 45h30M657 51h30M651 57h24M639 63h30M639 69h18M639 75h6"/>
</g>
<g filter="url(#hsa)">
<path fill="#000000" d="M616 -313.9L616 -299.9L627.5 -288.9L640 -274.4L654.6 -261L669 -247.6L690 -239.6L710.8 -238.7L731.7 -243L752.5 -248.4L780 -260.4L780 -397.4ZM136.7 415.3L142.1 412.6L142.1 417.6L136.7 420.4ZM142.1 411.7L150.9 407.2L150.9 413.1L142.1 417.6ZM150.9 406.7L162 401.1L162 407.4L150.9 413.1ZM162 401.3L172.5 396L172.5 402.1L162 407.4ZM172.5 396.5L179.4 393.1L179.4 398.6L172.5 402.1ZM179.4 393.3L191 387.4L191 392.7L179.4 398.6ZM229.7 367.3L240.9 361.6L240.9 367.3L229.7 373ZM240.9 361.3L247.4 358L247.4 364L240.9 367.3ZM254.3 354.9L267.8 348L267.8 353.5L254.3 360.4ZM267.8 348.2L274.9 344.6L274.9 349.9L267.8 353.5ZM274.9 344.8L281.1 341.7L281.1 346.8L274.9 349.9ZM332.2 314.5L344.2 308.4L344.2 314.6L332.2 320.7ZM364.7 297.8L376.2 291.9L376.2 298.3L364.7 304.2ZM443 259L456.4 252.2L456.4 257.5L443 264.3ZM465.7 246.6L478.4 240.2L478.4 246.2L465.7 252.7ZM484.8 237.6L498.6 230.5L498.6 235.9L484.8 243ZM638.4 159L650.1 153.1L650.1 158.8L638.4 164.7ZM681.6 137.4L690.3 133L690.3 138.3L681.6 142.7ZM690.3 131.5L703.5 124.8L703.5 131.5L690.3 138.3Z"/>
<path fill="#080808" d="M117 424.8L127.1 419.7L127.1 425.3L117 430.4ZM191 387.1L195.2 384.9L195.2 390.5L191 392.7Z"/>
<path fill="#0d0d0d" d="M201.7 380.4L216.4 372.9L216.4 379.7L201.7 387.2ZM290.4 335.6L302.6 329.4L302.6 335.8L290.4 342ZM302.6 330.2L310.7 326L310.7 331.7L302.6 335.8ZM325.7 317.7L332.2 314.4L332.2 320.7L325.7 324ZM409.6 275.6L423.6 268.4L423.6 274.1L409.6 281.3ZM507.2 225.4L519.2 219.3L519.2 225.4L507.2 231.6ZM519.2 218.3L526.2 214.7L526.2 221.9L519.2 225.4ZM549.9 202.8L556.7 199.3L556.7 206.3L549.9 209.8ZM564.5 196.9L571.7 193.3L571.7 198.7L564.5 202.4ZM583.3 187.4L591.3 183.3L591.3 188.7L583.3 192.8ZM734 110.2L738.6 107.9L738.6 113.6L734 116Z"/>
<path fill="#2b2b2b" d="M539.9 209.4L549.9 204.4L549.9 209.8L539.9 214.9ZM571.7 192L583.3 186.1L583.3 192.8L571.7 198.7ZM722.3 116.8L734 110.8L734 116L722.3 122ZM748.3 103.5L757.9 98.6L757.9 103.9L748.3 108.7Z"/>
<path fill="#333333" d="M127.1 418.4L136.7 413.5L136.7 420.4L127.1 425.3Z"/>
<path fill="#3c3c3c" d="M383.1 288.9L396.3 282.1L396.3 288.1L383.1 294.8ZM396.3 281.7L409.6 275L409.6 281.3L396.3 288.1ZM433.7 262L443 257.3L443 264.3L433.7 269Z"/>
<path fill="#bfbfbf" d="M654 -261.2L669 -247.6L690 -239.6L710.8 -238.7L731.7 -243L752.5 -248.4L780 -260.4L780 -244.4L752 -233.2L730 -227L708 -222.7L686 -222.5L664 -230.3ZM195.2 383.6L201.7 380.3L201.7 387.2L195.2 390.5ZM216.4 374.6L229.7 367.8L229.7 373L216.4 379.7ZM247.4 358.1L254.3 354.5L254.3 360.4L247.4 364ZM281.1 340.4L290.4 335.6L290.4 342L281.1 346.8ZM310.7 325.8L321 320.6L321 326.4L310.7 331.7ZM321 319.4L325.7 317.1L325.7 324L321 326.4ZM344.2 309.3L348.9 306.8L348.9 312.2L344.2 314.6ZM348.9 307L354.6 304.1L354.6 309.3L348.9 312.2ZM354.6 302.4L364.7 297.2L364.7 304.2L354.6 309.3ZM423.6 268.8L433.7 263.7L433.7 269L423.6 274.1ZM478.4 241L484.8 237.7L484.8 243L478.4 246.2ZM498.6 230.4L507.2 226L507.2 231.6L498.6 235.9ZM526.2 216.7L535 212.2L535 217.4L526.2 221.9ZM556.7 199.3L564.5 195.4L564.5 202.4L556.7 206.3ZM591.3 181.7L598.7 177.9L598.7 184.9L591.3 188.7ZM617.2 169.9L625.3 165.8L625.3 171.4L617.2 175.5ZM663.2 145.2L668.2 142.6L668.2 149.5L663.2 152.1ZM668.2 143.8L681.6 137L681.6 142.7L668.2 149.5ZM710.1 121L722.3 114.8L722.3 122L710.1 128.2ZM738.6 106.4L748.3 101.5L748.3 108.7L738.6 113.6ZM757.9 96.8L767.1 92.1L767.1 99.1L757.9 103.9ZM767.1 93.9L769 92.9L769 98.2L767.1 99.1Z"/>
</g>
</g>
<path d="M118.6 13.5V488" stroke="#050003" stroke-width="4.6" stroke-dasharray="4 3 6 2 3 4" opacity=".92" fill="none"/>
<polygon fill="#1b4c9f" points="112,8.5 112,223.7 170,250 210,262.5 250,281 300,300 350,313.5 400,322.5 435,328.5 470,330.5 487.5,325 500,312.5 525,275 550,237.5 575,200 595,150 607.5,100 615,62.5 616,8.5"/>
<path d="M247.4 488v-6.5M377.8 488v-6.5M508.2 488v-6.5M638.6 488v-6.5M769 488v-6.5" stroke="#262626" stroke-width="1" opacity=".7" fill="none"/>
</g>
<path d="M117.65 13.5V488" fill="none" stroke="#0a0a14" stroke-width="1.3" opacity=".75"/>
<path d="M117 14.15H769" fill="none" stroke="#0a0a14" stroke-width="1.3" opacity=".75"/>
<path d="M117 487.7H769" fill="none" stroke="#3c3c3c" stroke-width="1.1" opacity=".3"/>
<path d="M768.7 13.5V488" fill="none" stroke="#3c3c3c" stroke-width="1.1" opacity=".12"/>
<text transform="translate(107.2 499.3) scale(1 1.075)" font-family="'Liberation Sans',Arial,Helvetica,sans-serif" font-size="30.9" fill="#25282b" text-anchor="end">0</text>
<text transform="translate(107.2 451.85) scale(1 1.075)" font-family="'Liberation Sans',Arial,Helvetica,sans-serif" font-size="30.9" fill="#25282b" text-anchor="end">2</text>
<text transform="translate(107.2 404.4) scale(1 1.075)" font-family="'Liberation Sans',Arial,Helvetica,sans-serif" font-size="30.9" fill="#25282b" text-anchor="end">4</text>
<text transform="translate(107.2 356.95) scale(1 1.075)" font-family="'Liberation Sans',Arial,Helvetica,sans-serif" font-size="30.9" fill="#25282b" text-anchor="end">6</text>
<text transform="translate(107.2 309.5) scale(1 1.075)" font-family="'Liberation Sans',Arial,Helvetica,sans-serif" font-size="30.9" fill="#25282b" text-anchor="end">8</text>
<text transform="translate(107.2 262.05) scale(1 1.075)" font-family="'Liberation Sans',Arial,Helvetica,sans-serif" font-size="30.9" fill="#25282b" text-anchor="end">10</text>
<text transform="translate(107.2 214.6) scale(1 1.075)" font-family="'Liberation Sans',Arial,Helvetica,sans-serif" font-size="30.9" fill="#25282b" text-anchor="end">12</text>
<text transform="translate(107.2 167.15) scale(1 1.075)" font-family="'Liberation Sans',Arial,Helvetica,sans-serif" font-size="30.9" fill="#25282b" text-anchor="end">14</text>
<text transform="translate(107.2 119.7) scale(1 1.075)" font-family="'Liberation Sans',Arial,Helvetica,sans-serif" font-size="30.9" fill="#25282b" text-anchor="end">16</text>
<text transform="translate(107.2 72.25) scale(1 1.075)" font-family="'Liberation Sans',Arial,Helvetica,sans-serif" font-size="30.9" fill="#25282b" text-anchor="end">18</text>
<text transform="translate(107.2 24.8) scale(1 1.075)" font-family="'Liberation Sans',Arial,Helvetica,sans-serif" font-size="30.9" fill="#25282b" text-anchor="end">20</text>
<text transform="translate(117.1 525.9) scale(1 1.075)" font-family="'Liberation Sans',Arial,Helvetica,sans-serif" font-size="30.9" fill="#25282b" text-anchor="middle">0</text>
<text transform="translate(247.5 525.9) scale(1 1.075)" font-family="'Liberation Sans',Arial,Helvetica,sans-serif" font-size="30.9" fill="#25282b" text-anchor="middle">0.2</text>
<text transform="translate(377.9 525.9) scale(1 1.075)" font-family="'Liberation Sans',Arial,Helvetica,sans-serif" font-size="30.9" fill="#25282b" text-anchor="middle">0.4</text>
<text transform="translate(508.3 525.9) scale(1 1.075)" font-family="'Liberation Sans',Arial,Helvetica,sans-serif" font-size="30.9" fill="#25282b" text-anchor="middle">0.6</text>
<text transform="translate(638.7 525.9) scale(1 1.075)" font-family="'Liberation Sans',Arial,Helvetica,sans-serif" font-size="30.9" fill="#25282b" text-anchor="middle">0.8</text>
<text transform="translate(769.1 525.9) scale(1 1.075)" font-family="'Liberation Sans',Arial,Helvetica,sans-serif" font-size="30.9" fill="#25282b" text-anchor="middle">1</text>
<text transform="translate(132.8 47.7) scale(0.96 1.07)" font-family="'Liberation Sans',Arial,Helvetica,sans-serif" font-size="39" fill="#fff" font-weight="bold" stroke="#fff" stroke-width="0.5" stroke-linejoin="round">a)</text>
<text transform="translate(177.3 47.7)" font-family="'Liberation Serif','Times New Roman',serif" font-size="45" fill="#fff" font-weight="bold" font-style="italic" stroke="#fff" stroke-width="0.3" stroke-linejoin="round">w</text>
<text transform="translate(208.3 55.7)" font-family="'Liberation Serif','Times New Roman',serif" font-size="29" fill="#fff" font-weight="bold" font-style="italic" stroke="#fff" stroke-width="0.2" stroke-linejoin="round">PEO</text>
<text transform="translate(267.2 47.7) scale(1 1.07)" font-family="'Liberation Sans',Arial,Helvetica,sans-serif" font-size="39" fill="#fff" font-weight="bold" stroke="#fff" stroke-width="0.5" stroke-linejoin="round">= 0.05, pH 7.5</text>
<text transform="translate(279.5 176.1) scale(1 1.07)" font-family="'Liberation Sans',Arial,Helvetica,sans-serif" font-size="49" fill="#80a7d4" font-weight="bold" letter-spacing="-1.2" stroke="#80a7d4" stroke-width="0.4" stroke-linejoin="round">No data</text>
<g clip-path="url(#cpb)">
<g transform="skewY(27)">
<g filter="url(#hmb)" fill="none" stroke-width="6" shape-rendering="crispEdges">
<path stroke="#161616" d="M1392 -711h6M1380 -705h18M1368 -699h30M1356 -693h42M1344 -687h48M1332 -681h60M1320 -675h72M1308 -669h84M1296 -663h96M1284 -657h108M1272 -651h120M1260 -645h132M1248 -639h138M1242 -633h144M1230 -627h156M1218 -621h162M1206 -615h174M1194 -609h186M1182 -603h192M1170 -597h204M1158 -591h216M1146 -585h222M1134 -579h234M1122 -573h240M1110 -567h252M1098 -561h258M1086 -555h270M1074 -549h276M1062 -543h288M1050 -537h294M1038 -531h306M1026 -525h312M1014 -519h324M1002 -513h330M990 -507h342M978 -501h348M966 -495h360M954 -489h366M942 -483h378M930 -477h384M924 -471h390M912 -465h396M900 -459h402M888 -453h414M876 -447h420M864 -441h432M852 -435h438M840 -429h444M840 -423h444M840 -417h438M840 -411h432M840 -405h432M840 -399h426M840 -393h426M840 -387h420M840 -381h414M840 -375h414M840 -369h408M840 -363h402M840 -357h396M840 -351h390M840 -345h384M840 -339h384M840 -333h378M840 -327h372M840 -321h366M840 -315h360M840 -309h354M840 -303h348M840 -297h342M840 -291h336M840 -285h330M840 -279h324M840 -273h318M840 -267h306M840 -261h294M840 -255h276M840 -249h252M840 -243h228M840 -237h6M972 -237h42"/>
<path stroke="#181818" d="M1392 -687h6M1392 -681h6M1392 -675h6M1392 -669h6M1392 -663h6M1386 -639h6M1386 -633h6M1380 -621h6M1380 -615h6M1374 -603h6M1374 -597h6M1368 -585h6M1362 -573h6M1356 -561h6M1350 -549h6M1344 -537h6M1338 -525h6M1332 -513h6M1326 -501h6M1320 -489h6M1314 -477h6M1302 -459h6M1296 -447h6M1290 -435h6M1284 -429h6M1278 -417h6M1272 -411h6M1266 -399h6M1254 -381h6M1242 -363h6M1236 -357h6M1230 -351h6M1224 -345h6M1206 -321h6M1200 -315h6M1194 -309h6M1188 -303h6M1182 -297h6M1176 -291h6M1170 -285h6M1146 -267h6M1134 -261h6M1116 -255h12M1092 -249h18M1068 -243h12M846 -237h72M924 -237h48M1014 -237h36M990 -231h6"/>
<path stroke="#1a1a1a" d="M1398 -711h6M1398 -705h6M1398 -699h6M1398 -693h6M1398 -687h6M1392 -657h6M1392 -651h6M1392 -645h6M1386 -627h6M1380 -609h6M1374 -591h6M1368 -579h6M1362 -567h6M1356 -555h6M1350 -543h6M1344 -531h6M1338 -519h6M1332 -507h6M1326 -495h6M1320 -483h6M1308 -465h6M1302 -453h6M1296 -441h6M1284 -423h6M1272 -405h6M1260 -387h6M1248 -369h6M1224 -339h6M1218 -333h6M1212 -327h6M1164 -279h6M1158 -273h6M1152 -267h6M1140 -261h6M1128 -255h6M1110 -249h12M1080 -243h18M918 -237h6M1050 -237h18M840 -231h30M948 -231h42M996 -231h30"/>
<path stroke="#1c1c1c" d="M1398 -681h6M1398 -675h6M1398 -669h6M1392 -639h6M1386 -621h6M1380 -603h6M1362 -561h6M1356 -549h6M1350 -537h6M1344 -525h6M1338 -513h6M1332 -501h6M1314 -471h6M1308 -459h6M1290 -429h6M1278 -411h6M1266 -393h6M1254 -375h6M1236 -351h6M1230 -345h6M1206 -315h6M1200 -309h6M1194 -303h6M1188 -297h6M1182 -291h6M1176 -285h6M1146 -261h6M1134 -255h6M1122 -249h6M1098 -243h6M1068 -237h12M870 -231h78M1026 -231h24M984 -225h12"/>
<path stroke="#1e1e1e" d="M1398 -663h6M1398 -657h6M1392 -633h6M1386 -615h6M1380 -597h6M1374 -585h6M1368 -573h6M1326 -489h6M1320 -477h6M1302 -447h6M1296 -435h6M1284 -417h6M1272 -399h6M1260 -381h6M1248 -363h6M1242 -357h6M1218 -327h6M1212 -321h6M1170 -279h6M1164 -273h6M1158 -267h6M1128 -249h6M1104 -243h12M1080 -237h12M1050 -231h18M840 -225h30M948 -225h36M996 -225h24"/>
<path stroke="#202020" d="M1404 -717h6M1404 -711h6M1404 -705h6M1404 -699h6M1404 -693h6M1404 -687h6M1404 -681h6M1398 -651h6M1392 -627h6M1386 -609h6M1374 -579h6M1368 -567h6M1362 -555h6M1356 -543h6M1350 -531h6M1344 -519h6M1338 -507h6M1332 -495h6M1314 -465h6M1308 -453h6M1290 -423h6M1278 -405h6M1266 -387h6M1254 -369h6M1230 -339h6M1224 -333h6M1188 -291h6M1182 -285h6M1152 -261h6M1140 -255h6M1116 -243h6M1092 -237h12M1068 -231h12M870 -225h78M1020 -225h24M978 -219h12"/>
<path stroke="#222222" d="M1404 -675h6M1404 -669h6M1398 -645h6M1386 -603h6M1380 -591h6M1326 -483h6M1320 -471h6M1302 -441h6M1284 -411h6M1272 -393h6M1260 -375h6M1242 -351h6M1236 -345h6M1212 -315h6M1206 -309h6M1200 -303h6M1194 -297h6M1176 -279h6M1170 -273h6M1146 -255h6M1134 -249h6M1122 -243h6M1104 -237h12M1080 -231h12M1044 -225h18M840 -219h36M942 -219h36M990 -219h30"/>
<path stroke="#242424" d="M1410 -717h6M1410 -711h6M1410 -705h6M1404 -663h6M1398 -639h6M1392 -621h6M1380 -585h6M1374 -573h6M1368 -561h6M1362 -549h6M1356 -537h6M1350 -525h6M1344 -513h6M1338 -501h6M1332 -489h6M1314 -459h6M1296 -429h6M1248 -357h6M1224 -327h6M1218 -321h6M1164 -267h6M1158 -261h6M1128 -243h6M1116 -237h6M1092 -231h6M1062 -225h12M876 -219h66M1020 -219h24M972 -213h24"/>
<path stroke="#262626" d="M1410 -699h6M1410 -693h6M1410 -687h6M1410 -681h6M1404 -657h6M1404 -651h6M1398 -633h6M1392 -615h6M1386 -597h6M1326 -477h6M1308 -447h6M1302 -435h6M1290 -417h6M1278 -399h6M1266 -381h6M1254 -363h6M1230 -333h6M1194 -291h6M1188 -285h6M1182 -279h6M1152 -255h6M1140 -249h6M1122 -237h6M1098 -231h12M1074 -225h18M1044 -219h24M840 -213h132M996 -213h30"/>
<path stroke="#282828" d="M1410 -675h6M1404 -645h6M1398 -627h6M1392 -609h6M1380 -579h6M1374 -567h6M1368 -555h6M1362 -543h6M1356 -531h6M1350 -519h6M1344 -507h6M1338 -495h6M1320 -465h6M1314 -453h6M1296 -423h6M1284 -405h6M1272 -387h6M1260 -369h6M1242 -345h6M1236 -339h6M1212 -309h6M1206 -303h6M1200 -297h6M1176 -273h6M1170 -267h6M1146 -249h6M1134 -243h6M1110 -231h12M1092 -225h12M1068 -219h18M1026 -213h36M840 -207h192M840 -201h180M840 -195h168M840 -189h156M840 -183h144M840 -177h132M840 -171h120M840 -165h108M840 -159h96M840 -153h84M840 -147h72M840 -141h60M840 -135h48M840 -129h36M840 -123h24M840 -117h12"/>
<path stroke="#2a2a2a" d="M1416 -723h6M1416 -717h6M1416 -711h6M1410 -669h6M1404 -639h6M1398 -621h6M1386 -591h6M1332 -483h6M1326 -471h6M1308 -441h6M1290 -411h6M1278 -393h6M1266 -375h6M1248 -351h6M1224 -321h6M1218 -315h6M1164 -261h6M1158 -255h6M1140 -243h6M1128 -237h6M1122 -231h6M1104 -225h18M1086 -219h30M1062 -213h54M1032 -207h84M1020 -201h90M1008 -195h96M996 -189h102M984 -183h108M972 -177h114M960 -171h120M948 -165h132M936 -159h138M924 -153h144M912 -147h156M900 -141h162M888 -135h168M876 -129h180M864 -123h186M852 -117h192M840 -111h198M840 -105h192M840 -99h186M840 -93h186M840 -87h180M840 -81h174M840 -75h174M840 -69h168M840 -63h168M840 -57h168M840 -51h162M840 -45h162M840 -39h150M840 -33h138M840 -27h126M840 -21h114M840 -15h102M840 -9h90M840 -3h78M840 3h66M840 9h54M840 15h42M840 21h30M840 27h18M840 33h6"/>
<path stroke="#2c2c2c" d="M1416 -705h6M1416 -699h6M1416 -693h6M1416 -687h6M1410 -663h6M1410 -657h6M1392 -603h6M1386 -585h6M1380 -573h6M1374 -561h6M1368 -549h6M1362 -537h6M1356 -525h6M1350 -513h6M1344 -501h6M1338 -489h6M1320 -459h6M1302 -429h6M1254 -357h6M1230 -327h6M1200 -291h6M1194 -285h6M1188 -279h6M1182 -273h6M1176 -267h6M1152 -249h6M1134 -237h6M1128 -231h6M1122 -225h12M1116 -219h12M1116 -213h12M1116 -207h12M1110 -201h12M1104 -195h18M1098 -189h24M1092 -183h30M1086 -177h30M1080 -171h36M1080 -165h36M1074 -159h42M1068 -153h42M1068 -147h42M1062 -141h42M1056 -135h42M1056 -129h42M1050 -123h42M1044 -117h48M1038 -111h48M1032 -105h48M1026 -99h54M1026 -93h48M1020 -87h48M1014 -81h54M1014 -75h42M1008 -69h42M1008 -63h30M1008 -57h18M1002 -51h12M990 -39h6M978 -33h6M966 -27h6M954 -21h6M942 -15h6M930 -9h6M918 -3h6M906 3h6M894 9h6M882 15h6M870 21h6M858 27h6M846 33h6"/>
<path stroke="#2e2e2e" d="M1416 -681h6M1416 -675h6M1410 -651h6M1404 -633h6M1398 -615h6M1392 -597h6M1332 -477h6M1314 -447h6M1296 -417h6M1284 -399h6M1272 -381h6M1260 -363h6M1242 -339h6M1236 -333h6M1218 -309h6M1212 -303h6M1206 -297h6M1170 -261h6M1164 -255h6M1158 -249h6M1146 -243h6M1140 -237h6M1134 -231h12M1134 -225h12M1128 -219h12M1128 -213h12M1128 -207h12M1122 -201h12M1122 -195h12M1122 -189h12M1122 -183h6M1116 -177h12M1116 -171h12M1116 -165h12M1116 -159h12M1110 -153h12M1110 -147h12M1104 -141h18M1098 -135h24M1098 -129h24M1092 -123h30M1092 -117h24M1086 -111h30M1080 -105h36M1080 -99h30M1074 -93h24M1068 -87h18M1068 -81h6M1056 -75h6M1050 -69h6M1038 -63h6M1026 -57h6M1014 -51h6M1002 -45h6M996 -39h6M984 -33h6M972 -27h6M960 -21h6M948 -15h6M936 -9h6M924 -3h6M912 3h6M900 9h6M888 15h6M876 21h6M864 27h6M852 33h6M840 39h6"/>
<path stroke="#303030" d="M1422 -723h6M1422 -717h6M1422 -711h6M1422 -705h6M1416 -669h6M1410 -645h6M1404 -627h6M1398 -609h6M1386 -579h6M1380 -567h6M1374 -555h6M1368 -543h6M1362 -531h6M1356 -519h6M1350 -507h6M1344 -495h6M1326 -465h6M1308 -435h6M1302 -423h6M1290 -405h6M1278 -387h6M1266 -369h6M1248 -345h6M1224 -315h6M1176 -261h6M1152 -243h12M1146 -237h12M1146 -231h12M1146 -225h12M1140 -219h12M1140 -213h12M1140 -207h6M1134 -201h12M1134 -195h12M1134 -189h6M1128 -183h12M1128 -177h12M1128 -171h12M1128 -165h12M1128 -159h6M1122 -153h12M1122 -147h12M1122 -141h12M1122 -135h12M1122 -129h12M1122 -123h6M1116 -117h12M1116 -111h12M1116 -105h6M1098 -93h6M1086 -87h6M1074 -81h6M1062 -75h6M1056 -69h6M1044 -63h6M1032 -57h6M1020 -51h6M1008 -45h6M990 -33h6M978 -27h6M966 -21h6M954 -15h6M942 -9h6M930 -3h6M918 3h6M906 9h6M894 15h6M882 21h6M870 27h6M858 33h6M846 39h6"/>
<path stroke="#323232" d="M1422 -699h6M1422 -693h6M1422 -687h6M1416 -663h6M1410 -639h6M1404 -621h6M1398 -603h6M1392 -591h6M1338 -483h6M1320 -453h6M1314 -441h6M1254 -351h6M1230 -321h6M1206 -291h6M1200 -285h6M1194 -279h6M1188 -273h6M1182 -267h6M1170 -255h12M1164 -249h12M1164 -243h12M1158 -237h12M1158 -231h12M1158 -225h6M1152 -219h12M1152 -213h12M1146 -207h12M1146 -201h12M1146 -195h6M1140 -189h12M1140 -183h12M1140 -177h12M1140 -171h12M1140 -165h12M1134 -159h12M1134 -153h12M1134 -147h12M1134 -141h12M1134 -135h12M1134 -129h12M1128 -123h12M1128 -117h12M1128 -111h6M1110 -99h6M1092 -87h6M1080 -81h6M1068 -75h6M1050 -63h6M1038 -57h6M1026 -51h6M1014 -45h6M1002 -39h6M984 -27h6M972 -21h6M960 -15h6M948 -9h6M936 -3h6M924 3h6M912 9h6M900 15h6M888 21h6M876 27h6M864 33h6M852 39h6M840 45h6"/>
<path stroke="#343434" d="M1428 -729h12M1428 -723h12M1428 -717h12M1428 -711h6M1428 -705h6M1428 -699h6M1422 -681h6M1422 -675h6M1416 -657h6M1416 -651h6M1410 -633h6M1404 -615h6M1392 -585h6M1386 -573h6M1380 -561h6M1374 -549h6M1368 -537h6M1362 -525h6M1356 -513h6M1350 -501h6M1344 -489h6M1332 -471h6M1326 -459h6M1308 -429h6M1296 -411h6M1284 -393h6M1272 -375h6M1260 -357h6M1242 -333h6M1236 -327h6M1218 -303h6M1212 -297h6M1188 -267h6M1182 -261h6M1182 -255h6M1176 -249h12M1176 -243h6M1170 -237h12M1170 -231h12M1164 -225h12M1164 -219h12M1164 -213h6M1158 -207h12M1158 -201h6M1152 -195h12M1152 -189h12M1152 -183h12M1152 -177h12M1152 -171h12M1152 -165h6M1146 -159h12M1146 -153h12M1146 -147h12M1146 -141h12M1146 -135h12M1146 -129h6M1140 -123h12M1140 -117h6M1122 -105h6M1116 -99h6M1104 -93h6M1086 -81h6M1074 -75h6M1062 -69h6M1056 -63h6M1044 -57h6M1032 -51h6M1020 -45h6M1008 -39h6M996 -33h6M978 -21h6M966 -15h6M954 -9h6M942 -3h6M930 3h6M918 9h6M906 15h6M894 21h6M882 27h6M870 33h6M858 39h6M846 45h6"/>
<path stroke="#363636" d="M1452 -741h6M1440 -735h18M1440 -729h18M1440 -723h12M1440 -717h12M1434 -711h12M1434 -705h12M1434 -699h6M1428 -693h12M1428 -687h6M1428 -681h6M1422 -669h6M1422 -663h6M1416 -645h6M1410 -627h6M1398 -597h6M1380 -555h6M1374 -543h6M1368 -531h6M1338 -477h6M1320 -447h6M1302 -417h6M1290 -399h6M1278 -381h6M1266 -363h6M1248 -339h6M1230 -315h6M1224 -309h6M1206 -285h6M1200 -279h6M1194 -273h6M1194 -267h6M1188 -261h6M1188 -255h6M1188 -249h6M1182 -243h6M1182 -237h6M1182 -231h6M1176 -225h6M1176 -219h6M1170 -213h12M1170 -207h6M1164 -201h12M1164 -195h12M1164 -189h12M1164 -183h12M1164 -177h12M1164 -171h6M1158 -165h12M1158 -159h12M1158 -153h12M1158 -147h12M1158 -141h12M1158 -135h6M1152 -129h12M1152 -123h6M1134 -111h6M1128 -105h6M1110 -93h6M1098 -87h6M1092 -81h6M1080 -75h6M1068 -69h6M1050 -57h6M1038 -51h6M1026 -45h6M1014 -39h6M1002 -33h6M990 -27h6M972 -15h6M960 -9h6M948 -3h6M936 3h6M924 9h6M912 15h6M900 21h6M888 27h6M876 33h6M864 39h6M852 45h6M840 51h6"/>
<path stroke="#383838" d="M1464 -747h6M1458 -741h12M1458 -735h12M1458 -729h12M1452 -723h12M1452 -717h12M1446 -711h12M1446 -705h12M1440 -699h12M1440 -693h12M1434 -687h12M1434 -681h12M1428 -675h12M1428 -669h12M1428 -663h6M1422 -657h6M1422 -651h6M1416 -639h6M1410 -621h6M1404 -609h6M1398 -591h6M1392 -579h6M1386 -567h6M1362 -519h6M1356 -507h6M1350 -495h6M1344 -483h6M1332 -465h6M1326 -453h6M1314 -435h6M1308 -423h6M1296 -405h6M1284 -387h6M1272 -369h6M1260 -351h6M1254 -345h6M1236 -321h6M1218 -297h6M1212 -291h6M1206 -279h6M1200 -273h6M1200 -267h6M1194 -261h12M1194 -255h6M1194 -249h6M1188 -243h12M1188 -237h6M1188 -231h6M1182 -225h12M1182 -219h6M1182 -213h6M1176 -207h12M1176 -201h12M1176 -195h12M1176 -189h6M1176 -183h6M1176 -177h6M1170 -171h12M1170 -165h12M1170 -159h12M1170 -153h12M1170 -147h12M1170 -141h12M1164 -135h12M1164 -129h6M1146 -117h6M1140 -111h6M1122 -99h6M1116 -93h6M1104 -87h6M1086 -75h6M1074 -69h6M1062 -63h6M1056 -57h6M1044 -51h6M1032 -45h6M1020 -39h6M1008 -33h6M996 -27h6M984 -21h6M954 -3h6M942 3h6M930 9h6M918 15h6M906 21h6M894 27h6M882 33h6M870 39h6M858 45h6M846 51h6"/>
<path stroke="#3a3a3a" d="M1476 -753h12M1470 -747h18M1470 -741h18M1470 -735h12M1470 -729h12M1464 -723h12M1464 -717h12M1458 -711h12M1458 -705h12M1452 -699h12M1452 -693h12M1446 -687h12M1446 -681h12M1440 -675h12M1440 -669h6M1434 -663h12M1428 -657h12M1428 -651h6M1422 -645h12M1422 -639h6M1416 -633h6M1416 -627h6M1410 -615h6M1404 -603h6M1404 -597h6M1398 -585h6M1392 -573h6M1386 -561h6M1380 -549h6M1374 -537h6M1368 -525h6M1362 -513h6M1356 -501h6M1350 -489h6M1338 -471h6M1332 -459h6M1320 -441h6M1314 -429h6M1302 -411h6M1290 -393h6M1278 -375h6M1266 -357h6M1248 -333h6M1242 -327h6M1236 -315h6M1230 -309h6M1224 -303h6M1224 -297h6M1218 -291h6M1212 -285h12M1212 -279h6M1206 -273h12M1206 -267h6M1206 -261h6M1200 -255h6M1200 -249h6M1200 -243h6M1194 -237h6M1194 -231h6M1194 -225h6M1188 -219h6M1188 -213h6M1188 -207h6M1188 -201h6M1188 -195h6M1182 -189h12M1182 -183h12M1182 -177h6M1182 -171h6M1182 -165h6M1182 -159h6M1182 -153h6M1182 -147h6M1182 -141h6M1176 -135h6M1158 -123h6M1152 -117h6M1134 -105h6M1128 -99h6M1110 -87h6M1098 -81h6M1092 -75h6M1080 -69h6M1068 -63h6M1062 -57h6M1050 -51h6M1038 -45h6M1026 -39h6M1014 -33h6M1002 -27h6M990 -21h6M978 -15h6M966 -9h6M936 9h6M924 15h6M912 21h6M900 27h6M888 33h6M876 39h6M864 45h6M852 51h6M840 57h6"/>
<path stroke="#3c3c3c" d="M1500 -765h6M1488 -759h18M1488 -753h18M1488 -747h12M1488 -741h12M1482 -735h12M1482 -729h12M1476 -723h12M1476 -717h12M1470 -711h12M1470 -705h12M1464 -699h12M1464 -693h12M1458 -687h12M1458 -681h6M1452 -675h12M1446 -669h12M1446 -663h6M1440 -657h12M1434 -651h12M1434 -645h6M1428 -639h12M1422 -633h12M1422 -627h6M1416 -621h12M1416 -615h6M1410 -609h12M1410 -603h6M1410 -597h6M1404 -591h6M1404 -585h6M1398 -579h6M1398 -573h6M1392 -567h6M1392 -561h6M1386 -555h12M1386 -549h6M1380 -543h6M1380 -537h6M1374 -531h6M1374 -525h6M1368 -519h6M1368 -513h6M1362 -507h6M1356 -495h6M1350 -483h6M1344 -477h6M1338 -465h6M1326 -447h6M1320 -435h6M1308 -417h6M1296 -399h6M1284 -381h6M1272 -363h6M1260 -345h6M1254 -339h6M1248 -327h6M1242 -321h6M1242 -315h6M1236 -309h6M1230 -303h6M1230 -297h6M1224 -291h6M1224 -285h6M1218 -279h6M1218 -273h6M1212 -267h6M1212 -261h6M1206 -255h12M1206 -249h6M1206 -243h6M1200 -237h6M1200 -231h6M1200 -225h6M1194 -219h6M1194 -213h6M1194 -207h6M1194 -201h6M1194 -195h6M1194 -189h6M1194 -183h6M1188 -177h12M1188 -171h12M1188 -165h6M1188 -159h6M1188 -153h6M1188 -147h6M1170 -129h6M1164 -123h6M1158 -117h6M1146 -111h6M1140 -105h6M1122 -93h6M1116 -87h6M1104 -81h6M1086 -69h6M1074 -63h6M1068 -57h6M1056 -51h18M1044 -45h30M1032 -39h30M1020 -33h30M1008 -27h30M996 -21h30M984 -15h30M972 -9h30M960 -3h30M948 3h36M942 9h30M930 15h30M918 21h30M906 27h30M894 33h30M882 39h30M870 45h30M858 51h30M846 57h30M840 63h24M840 69h12"/>
<path stroke="#3e3e3e" d="M1512 -771h12M1506 -765h18M1506 -759h18M1506 -753h18M1500 -747h24M1500 -741h18M1494 -735h12M1494 -729h12M1488 -723h12M1488 -717h6M1482 -711h12M1482 -705h6M1476 -699h12M1476 -693h6M1470 -687h12M1464 -681h12M1464 -675h6M1458 -669h12M1452 -663h12M1452 -657h6M1446 -651h12M1440 -645h12M1440 -639h6M1434 -633h12M1428 -627h12M1428 -621h6M1422 -615h12M1422 -609h6M1416 -603h12M1416 -597h6M1410 -591h12M1410 -585h6M1404 -579h12M1404 -573h6M1398 -567h12M1398 -561h6M1398 -555h6M1392 -549h6M1386 -543h12M1386 -537h6M1380 -531h12M1380 -525h6M1374 -519h12M1374 -513h6M1368 -507h12M1362 -501h12M1362 -495h12M1356 -489h12M1356 -483h6M1350 -477h6M1344 -471h6M1344 -465h6M1338 -459h6M1332 -453h6M1332 -447h6M1326 -441h6M1320 -429h6M1314 -423h6M1308 -411h6M1302 -405h6M1290 -387h6M1278 -369h6M1272 -357h6M1266 -351h6M1260 -339h6M1254 -333h6M1254 -327h6M1248 -321h6M1248 -315h6M1242 -309h6M1236 -303h6M1236 -297h6M1230 -291h6M1230 -285h6M1224 -279h6M1224 -273h6M1218 -267h6M1218 -261h6M1218 -255h6M1212 -249h6M1212 -243h6M1206 -237h6M1206 -231h6M1206 -225h6M1200 -219h12M1200 -213h6M1200 -207h6M1200 -201h6M1200 -195h6M1200 -189h6M1200 -183h6M1200 -177h6M1200 -171h6M1194 -165h12M1194 -159h12M1194 -153h6M1194 -147h6M1188 -141h6M1182 -135h6M1176 -129h6M1170 -123h6M1152 -111h6M1134 -99h6M1128 -93h6M1110 -81h6M1098 -75h6M1092 -69h12M1080 -63h24M1074 -57h24M1074 -51h12"/>
<path stroke="#404040" d="M1518 -741h6M1506 -735h18M1506 -729h18M1500 -723h24M1494 -717h18M1494 -711h12M1488 -705h12M1488 -699h12M1482 -693h12M1482 -687h6M1476 -681h12M1470 -675h12M1470 -669h6M1464 -663h12M1458 -657h12M1458 -651h6M1452 -645h12M1446 -639h12M1446 -633h6M1440 -627h12M1434 -621h12M1434 -615h6M1428 -609h12M1428 -603h6M1422 -597h12M1422 -591h6M1416 -585h12M1416 -579h6M1410 -573h12M1410 -567h6M1404 -561h12M1404 -555h6M1398 -549h6M1398 -543h6M1392 -537h6M1392 -531h6M1386 -525h6M1386 -519h6M1380 -513h6M1380 -507h6M1374 -501h6M1374 -495h6M1368 -489h6M1362 -483h6M1356 -477h12M1350 -471h12M1350 -465h6M1344 -459h12M1338 -453h12M1338 -447h6M1332 -441h6M1326 -435h12M1326 -429h6M1320 -423h6M1314 -417h12M1314 -411h6M1308 -405h6M1302 -399h6M1296 -393h6M1296 -387h6M1290 -381h6M1284 -375h6M1284 -369h6M1278 -363h6M1278 -357h6M1272 -351h6M1266 -345h6M1266 -339h6M1260 -333h6M1260 -327h6M1254 -321h6M1248 -309h6M1242 -303h6M1242 -297h6M1236 -291h6M1236 -285h6M1230 -279h6M1230 -273h6M1224 -267h12M1224 -261h6M1224 -255h6M1218 -249h6M1218 -243h6M1212 -237h12M1212 -231h6M1212 -225h6M1212 -219h6M1206 -213h12M1206 -207h12M1206 -201h6M1206 -195h6M1206 -189h6M1206 -183h6M1206 -177h6M1206 -171h6M1206 -165h6M1206 -159h6M1200 -153h12M1200 -147h6M1194 -141h6M1188 -135h6M1164 -117h6M1158 -111h6M1146 -105h6M1140 -99h6M1122 -87h6M1116 -81h12M1104 -75h24M1104 -69h18M1104 -63h6"/>
<path stroke="#424242" d="M1512 -717h12M1506 -711h18M1500 -705h24M1500 -699h12M1494 -693h12M1488 -687h12M1488 -681h6M1482 -675h12M1476 -669h12M1476 -663h6M1470 -657h12M1464 -651h12M1464 -645h6M1458 -639h12M1452 -633h12M1452 -627h6M1446 -621h12M1440 -615h12M1440 -609h6M1434 -603h12M1434 -597h6M1428 -591h6M1428 -585h6M1422 -579h6M1422 -573h6M1416 -567h6M1416 -561h6M1410 -555h6M1404 -549h12M1404 -543h6M1398 -537h12M1398 -531h6M1392 -525h6M1392 -519h6M1386 -513h6M1386 -507h6M1380 -501h6M1380 -495h6M1374 -489h6M1368 -483h12M1368 -477h6M1362 -471h6M1356 -465h12M1356 -459h6M1350 -453h6M1344 -447h12M1338 -441h12M1338 -435h6M1332 -429h6M1326 -423h12M1326 -417h6M1320 -411h6M1314 -405h6M1308 -399h6M1302 -393h12M1302 -387h6M1296 -381h6M1290 -375h6M1290 -369h6M1284 -363h6M1284 -357h6M1278 -351h6M1272 -345h6M1272 -339h6M1266 -333h6M1266 -327h6M1260 -321h6M1254 -315h6M1254 -309h6M1248 -303h6M1248 -297h6M1242 -291h6M1242 -285h6M1236 -279h12M1236 -273h6M1236 -267h6M1230 -261h6M1230 -255h6M1224 -249h6M1224 -243h6M1224 -237h6M1218 -231h6M1218 -225h6M1218 -219h6M1218 -213h6M1218 -207h6M1212 -201h12M1212 -195h12M1212 -189h6M1212 -183h6M1212 -177h6M1212 -171h6M1212 -165h6M1212 -159h6M1182 -129h6M1176 -123h6M1170 -117h6M1152 -105h6M1134 -93h6M1128 -87h12M1128 -81h12M1128 -75h6"/>
<path stroke="#444444" d="M1512 -699h12M1506 -693h18M1500 -687h18M1494 -681h12M1494 -675h6M1488 -669h12M1482 -663h12M1482 -657h6M1476 -651h12M1470 -645h12M1470 -639h6M1464 -633h12M1458 -627h12M1458 -621h6M1452 -615h12M1446 -609h12M1446 -603h6M1440 -597h12M1434 -591h12M1434 -585h6M1428 -579h12M1428 -573h6M1422 -567h12M1422 -561h6M1416 -555h6M1416 -549h6M1410 -543h6M1410 -537h6M1404 -531h6M1398 -525h12M1398 -519h6M1392 -513h12M1392 -507h6M1386 -501h6M1386 -495h6M1380 -489h6M1380 -483h6M1374 -477h6M1368 -471h12M1368 -465h6M1362 -459h6M1356 -453h12M1356 -447h6M1350 -441h6M1344 -435h6M1338 -429h12M1338 -423h6M1332 -417h6M1326 -411h6M1320 -405h6M1314 -399h6M1314 -393h6M1308 -387h6M1302 -381h6M1296 -375h12M1296 -369h6M1290 -363h6M1290 -357h6M1284 -351h6M1278 -345h6M1278 -339h6M1272 -333h6M1272 -327h6M1266 -321h6M1260 -315h6M1260 -309h6M1254 -303h6M1254 -297h6M1248 -291h6M1248 -285h6M1248 -279h6M1242 -273h6M1242 -267h6M1236 -261h6M1236 -255h6M1230 -249h6M1230 -243h6M1230 -237h6M1224 -231h6M1224 -225h6M1224 -219h6M1224 -213h6M1224 -207h6M1224 -201h6M1224 -195h6M1218 -189h12M1218 -183h12M1218 -177h6M1218 -171h6M1218 -165h6M1218 -159h6M1212 -153h6M1206 -147h6M1200 -141h6M1194 -135h6M1188 -129h6M1182 -123h6M1164 -111h6M1158 -105h6M1146 -99h12M1140 -93h18M1140 -87h18M1140 -81h6"/>
<path stroke="#464646" d="M1518 -687h6M1506 -681h18M1500 -675h24M1500 -669h12M1494 -663h12M1488 -657h12M1488 -651h6M1482 -645h12M1476 -639h12M1476 -633h6M1470 -627h12M1464 -621h12M1464 -615h6M1458 -609h12M1452 -603h12M1452 -597h6M1446 -591h12M1440 -585h12M1440 -579h6M1434 -573h6M1434 -567h6M1428 -561h6M1422 -555h6M1422 -549h6M1416 -543h6M1416 -537h6M1410 -531h6M1410 -525h6M1404 -519h6M1404 -513h6M1398 -507h6M1392 -501h12M1392 -495h6M1386 -489h6M1386 -483h6M1380 -477h6M1380 -471h6M1374 -465h6M1368 -459h12M1368 -453h6M1362 -447h6M1356 -441h6M1350 -435h6M1350 -429h6M1344 -423h6M1338 -417h6M1332 -411h6M1326 -405h6M1320 -399h12M1320 -393h6M1314 -387h6M1308 -381h6M1308 -375h6M1302 -369h6M1296 -363h6M1296 -357h6M1290 -351h6M1284 -345h6M1284 -339h6M1278 -333h6M1278 -327h6M1272 -321h6M1266 -315h6M1266 -309h6M1260 -303h6M1260 -297h6M1254 -291h6M1254 -285h6M1254 -279h6M1248 -273h6M1248 -267h6M1242 -261h6M1242 -255h6M1236 -249h12M1236 -243h6M1236 -237h6M1230 -231h12M1230 -225h12M1230 -219h6M1230 -213h6M1230 -207h6M1230 -201h6M1230 -195h6M1230 -189h6M1230 -183h6M1224 -177h12M1224 -171h12M1224 -165h6M1224 -159h6M1218 -153h6M1212 -147h6M1206 -141h6M1176 -117h6M1170 -111h6M1164 -105h6M1158 -99h12M1158 -93h12"/>
<path stroke="#484848" d="M1512 -669h12M1506 -663h18M1500 -657h18M1494 -651h12M1494 -645h6M1488 -639h12M1482 -633h12M1482 -627h6M1476 -621h12M1470 -615h12M1470 -609h6M1464 -603h12M1458 -597h12M1458 -591h6M1452 -585h6M1446 -579h12M1440 -573h12M1440 -567h6M1434 -561h6M1428 -555h12M1428 -549h6M1422 -543h6M1422 -537h6M1416 -531h6M1416 -525h6M1410 -519h6M1410 -513h6M1404 -507h6M1404 -501h6M1398 -495h6M1392 -489h6M1392 -483h6M1386 -477h6M1386 -471h6M1380 -465h6M1380 -459h6M1374 -453h6M1368 -447h6M1362 -441h6M1356 -435h12M1356 -429h6M1350 -423h6M1344 -417h6M1338 -411h6M1332 -405h6M1332 -399h6M1326 -393h6M1320 -387h6M1314 -381h6M1314 -375h6M1308 -369h6M1302 -363h6M1302 -357h6M1296 -351h6M1290 -345h6M1290 -339h6M1284 -333h6M1278 -321h6M1272 -315h6M1272 -309h6M1266 -303h6M1266 -297h6M1260 -291h6M1260 -285h6M1260 -279h6M1254 -273h6M1254 -267h6M1248 -261h6M1248 -255h6M1248 -249h6M1242 -243h6M1242 -237h6M1242 -231h6M1242 -225h6M1236 -219h12M1236 -213h12M1236 -207h6M1236 -201h6M1236 -195h6M1236 -189h6M1236 -183h6M1236 -177h6M1236 -171h6M1230 -165h6M1200 -135h6M1194 -129h6M1188 -123h6M1182 -117h6M1176 -111h6M1170 -105h12M1170 -99h12"/>
<path stroke="#4a4a4a" d="M1518 -657h6M1506 -651h18M1500 -645h24M1500 -639h12M1494 -633h12M1488 -627h12M1488 -621h6M1482 -615h12M1476 -609h12M1476 -603h6M1470 -597h12M1464 -591h12M1458 -585h12M1458 -579h6M1452 -573h12M1446 -567h12M1440 -561h12M1440 -555h6M1434 -549h6M1428 -543h12M1428 -537h6M1422 -531h6M1422 -525h6M1416 -519h6M1416 -513h6M1410 -507h6M1410 -501h6M1404 -495h6M1398 -489h12M1398 -483h6M1392 -477h6M1392 -471h6M1386 -465h6M1386 -459h6M1380 -453h6M1374 -447h6M1368 -441h12M1368 -435h6M1362 -429h6M1356 -423h6M1350 -417h6M1344 -411h6M1338 -405h12M1338 -399h6M1332 -393h6M1326 -387h6M1320 -381h6M1320 -375h6M1314 -369h6M1308 -363h6M1308 -357h6M1302 -351h6M1296 -345h6M1296 -339h6M1290 -333h6M1284 -327h6M1284 -321h6M1278 -315h6M1278 -309h6M1272 -303h6M1272 -297h6M1266 -291h6M1266 -285h6M1266 -279h6M1260 -273h6M1260 -267h6M1254 -261h6M1254 -255h6M1254 -249h6M1248 -243h6M1248 -237h6M1248 -231h6M1248 -225h6M1248 -219h6M1248 -213h6M1242 -207h12M1242 -201h12M1242 -195h6M1242 -189h6M1242 -183h6M1242 -177h6M1242 -171h6M1236 -165h6M1230 -159h6M1224 -153h6M1218 -147h6M1212 -141h6M1206 -135h6M1200 -129h6M1194 -123h6M1188 -117h6M1182 -111h12M1182 -105h12"/>
<path stroke="#4c4c4c" d="M1512 -639h12M1506 -633h18M1500 -627h18M1494 -621h12M1494 -615h6M1488 -609h12M1482 -603h12M1482 -597h6M1476 -591h12M1470 -585h12M1464 -579h12M1464 -573h6M1458 -567h6M1452 -561h12M1446 -555h12M1440 -549h12M1440 -543h6M1434 -537h6M1428 -531h6M1428 -525h6M1422 -519h6M1422 -513h6M1416 -507h6M1416 -501h6M1410 -495h6M1410 -489h6M1404 -483h6M1398 -477h6M1398 -471h6M1392 -465h6M1392 -459h6M1386 -453h6M1380 -447h6M1380 -441h6M1374 -435h6M1368 -429h6M1362 -423h6M1356 -417h6M1350 -411h6M1350 -405h6M1344 -399h6M1338 -393h6M1332 -387h6M1326 -381h6M1326 -375h6M1320 -369h6M1314 -363h6M1314 -357h6M1308 -351h6M1302 -345h6M1302 -339h6M1296 -333h6M1290 -327h6M1290 -321h6M1284 -315h6M1284 -309h6M1278 -303h6M1278 -297h6M1272 -291h6M1272 -285h6M1272 -279h6M1266 -273h6M1266 -267h6M1260 -261h6M1260 -255h6M1260 -249h6M1254 -243h12M1254 -237h6M1254 -231h6M1254 -225h6M1254 -219h6M1254 -213h6M1254 -207h6M1254 -201h6M1248 -195h12M1248 -189h12M1248 -183h6M1248 -177h6M1248 -171h6M1242 -165h6M1236 -159h6M1230 -153h6M1224 -147h6M1218 -141h6M1212 -135h6M1200 -123h6M1194 -117h12M1194 -111h12"/>
<path stroke="#4e4e4e" d="M1518 -627h6M1506 -621h18M1500 -615h24M1500 -609h12M1494 -603h12M1488 -597h12M1488 -591h6M1482 -585h6M1476 -579h12M1470 -573h12M1464 -567h12M1464 -561h6M1458 -555h6M1452 -549h12M1446 -543h12M1440 -537h12M1434 -531h12M1434 -525h6M1428 -519h6M1428 -513h6M1422 -507h6M1422 -501h6M1416 -495h6M1416 -489h6M1410 -483h6M1404 -477h6M1404 -471h6M1398 -465h6M1398 -459h6M1392 -453h6M1386 -447h6M1386 -441h6M1380 -435h6M1374 -429h6M1368 -423h6M1362 -417h6M1356 -411h6M1356 -405h6M1350 -399h6M1344 -393h6M1338 -387h6M1332 -381h12M1332 -375h6M1326 -369h6M1320 -363h12M1320 -357h6M1314 -351h6M1308 -345h6M1308 -339h6M1302 -333h6M1296 -327h6M1296 -321h6M1290 -315h6M1290 -309h6M1284 -303h6M1284 -297h6M1278 -291h6M1278 -285h6M1278 -279h6M1272 -273h6M1272 -267h6M1266 -261h6M1266 -255h6M1266 -249h6M1266 -243h6M1260 -237h12M1260 -231h12M1260 -225h6M1260 -219h6M1260 -213h6M1260 -207h6M1260 -201h6M1260 -195h6M1260 -189h6M1254 -183h12M1254 -177h6M1206 -129h12M1206 -123h12M1206 -117h12"/>
<path stroke="#505050" d="M1512 -609h12M1506 -603h18M1500 -597h18M1494 -591h12M1488 -585h12M1488 -579h6M1482 -573h12M1476 -567h12M1470 -561h12M1464 -555h12M1464 -549h6M1458 -543h6M1452 -537h12M1446 -531h12M1440 -525h12M1434 -519h12M1434 -513h6M1428 -507h6M1428 -501h6M1422 -495h6M1422 -489h6M1416 -483h6M1410 -477h12M1410 -471h6M1404 -465h6M1404 -459h6M1398 -453h6M1392 -447h6M1392 -441h6M1386 -435h6M1380 -429h6M1374 -423h6M1368 -417h6M1362 -411h12M1362 -405h6M1356 -399h6M1350 -393h6M1344 -387h6M1344 -381h6M1338 -375h6M1332 -369h6M1332 -363h6M1326 -357h6M1320 -351h6M1314 -345h6M1314 -339h6M1308 -333h6M1302 -327h6M1302 -321h6M1296 -315h6M1296 -309h6M1290 -303h6M1290 -297h6M1284 -291h6M1284 -285h6M1284 -279h6M1278 -273h6M1278 -267h6M1272 -261h6M1272 -255h6M1272 -249h6M1272 -243h6M1272 -237h6M1272 -231h6M1266 -225h12M1266 -219h12M1266 -213h6M1266 -207h6M1266 -201h6M1266 -195h6M1266 -189h6M1266 -183h6M1260 -177h6M1254 -171h6M1248 -165h6M1242 -159h6M1236 -153h6M1230 -147h6M1224 -141h6M1218 -135h6M1218 -129h6M1218 -123h6"/>
<path stroke="#525252" d="M1518 -597h6M1506 -591h18M1500 -585h24M1494 -579h18M1494 -573h12M1488 -567h12M1482 -561h12M1476 -555h12M1470 -549h12M1464 -543h12M1464 -537h6M1458 -531h12M1452 -525h12M1446 -519h12M1440 -513h12M1434 -507h12M1434 -501h6M1428 -495h6M1428 -489h6M1422 -483h6M1422 -477h6M1416 -471h6M1410 -465h6M1410 -459h6M1404 -453h6M1398 -447h6M1398 -441h6M1392 -435h6M1386 -429h6M1380 -423h6M1374 -417h6M1374 -411h6M1368 -405h6M1362 -399h6M1356 -393h6M1350 -387h12M1350 -381h6M1344 -375h6M1338 -369h12M1338 -363h6M1332 -357h6M1326 -351h6M1320 -345h12M1320 -339h6M1314 -333h6M1308 -327h6M1308 -321h6M1302 -315h6M1302 -309h6M1296 -303h6M1296 -297h6M1290 -291h6M1290 -285h6M1290 -279h6M1284 -273h6M1284 -267h6M1278 -261h12M1278 -255h6M1278 -249h6M1278 -243h6M1278 -237h6M1278 -231h6M1278 -225h6M1278 -219h6M1272 -213h12M1272 -207h12M1272 -201h6M1272 -195h6M1272 -189h6M1272 -183h6M1266 -177h6M1260 -171h6M1254 -165h6M1248 -159h6M1242 -153h6M1236 -147h6M1230 -141h6M1224 -135h12M1224 -129h12M1224 -123h6"/>
<path stroke="#545454" d="M1512 -579h12M1506 -573h18M1500 -567h18M1494 -561h12M1488 -555h12M1482 -549h12M1476 -543h12M1470 -537h12M1470 -531h12M1464 -525h12M1458 -519h12M1452 -513h12M1446 -507h12M1440 -501h12M1434 -495h6M1434 -489h6M1428 -483h6M1428 -477h6M1422 -471h6M1416 -465h6M1416 -459h6M1410 -453h6M1404 -447h6M1404 -441h6M1398 -435h6M1392 -429h6M1386 -423h6M1380 -417h12M1380 -411h6M1374 -405h6M1368 -399h6M1362 -393h6M1362 -387h6M1356 -381h6M1350 -375h6M1350 -369h6M1344 -363h6M1338 -357h6M1332 -351h12M1332 -345h6M1326 -339h6M1320 -333h6M1314 -327h12M1314 -321h6M1308 -315h6M1308 -309h6M1302 -303h6M1302 -297h6M1296 -291h12M1296 -285h6M1296 -279h6M1290 -273h6M1290 -267h6M1290 -261h6M1284 -255h12M1284 -249h12M1284 -243h6M1284 -237h6M1284 -231h6M1284 -225h6M1284 -219h6M1284 -213h6M1284 -207h6M1278 -201h12M1278 -195h12M1278 -189h6M1272 -177h6M1266 -171h6M1260 -165h6M1254 -159h6M1248 -153h6M1242 -147h6M1236 -141h12M1236 -135h12M1236 -129h6"/>
<path stroke="#565656" d="M1518 -567h6M1506 -561h18M1500 -555h24M1494 -549h18M1488 -543h18M1482 -537h18M1482 -531h12M1476 -525h12M1470 -519h12M1464 -513h12M1458 -507h12M1452 -501h12M1440 -495h18M1440 -489h6M1434 -483h6M1434 -477h6M1428 -471h6M1422 -465h6M1422 -459h6M1416 -453h6M1410 -447h6M1410 -441h6M1404 -435h6M1398 -429h6M1392 -423h6M1392 -417h6M1386 -411h6M1380 -405h6M1374 -399h6M1368 -393h12M1368 -387h6M1362 -381h6M1356 -375h12M1356 -369h6M1350 -363h6M1344 -357h12M1344 -351h6M1338 -345h6M1332 -339h6M1326 -333h12M1326 -327h6M1320 -321h6M1314 -315h12M1314 -309h6M1308 -303h12M1308 -297h6M1308 -291h6M1302 -285h6M1302 -279h6M1296 -273h6M1296 -267h6M1296 -261h6M1296 -255h6M1296 -249h6M1290 -243h12M1290 -237h12M1290 -231h6M1290 -225h6M1290 -219h6M1290 -213h6M1290 -207h6M1290 -201h6M1290 -195h6M1284 -189h6M1278 -183h6M1266 -165h6M1260 -159h6M1254 -153h6M1248 -147h6M1248 -141h6M1248 -135h6"/>
<path stroke="#585858" d="M1512 -549h12M1506 -543h18M1500 -537h18M1494 -531h12M1488 -525h12M1482 -519h12M1476 -513h12M1470 -507h12M1464 -501h12M1458 -495h12M1446 -489h18M1440 -483h18M1440 -477h6M1434 -471h6M1428 -465h12M1428 -459h6M1422 -453h6M1416 -447h12M1416 -441h6M1410 -435h6M1404 -429h6M1398 -423h12M1398 -417h6M1392 -411h6M1386 -405h12M1380 -399h12M1380 -393h6M1374 -387h6M1368 -381h12M1368 -375h6M1362 -369h6M1356 -363h12M1356 -357h6M1350 -351h6M1344 -345h6M1338 -339h12M1338 -333h6M1332 -327h12M1326 -321h12M1326 -315h6M1320 -309h12M1320 -303h6M1314 -297h12M1314 -291h6M1308 -285h6M1308 -279h6M1302 -273h6M1302 -267h6M1302 -261h6M1302 -255h6M1302 -249h6M1302 -243h6M1302 -237h6M1296 -231h12M1296 -225h12M1296 -219h6M1296 -213h6M1296 -207h6M1296 -201h6M1296 -195h6M1290 -189h6M1284 -183h6M1278 -177h6M1272 -171h6M1260 -153h6M1254 -147h12M1254 -141h12"/>
<path stroke="#5a5a5a" d="M1518 -537h6M1506 -531h18M1500 -525h24M1494 -519h18M1488 -513h12M1482 -507h12M1476 -501h12M1470 -495h12M1464 -489h12M1458 -483h12M1446 -477h18M1440 -471h12M1440 -465h6M1434 -459h6M1428 -453h6M1428 -447h6M1422 -441h6M1416 -435h6M1410 -429h12M1410 -423h6M1404 -417h6M1398 -411h12M1398 -405h6M1392 -399h6M1386 -393h12M1380 -387h12M1380 -381h6M1374 -375h6M1368 -369h12M1368 -363h6M1362 -357h6M1356 -351h6M1350 -345h12M1350 -339h6M1344 -333h12M1344 -327h6M1338 -321h6M1332 -315h12M1332 -309h6M1326 -303h12M1326 -297h6M1320 -291h6M1314 -285h12M1314 -279h6M1308 -273h12M1308 -267h12M1308 -261h12M1308 -255h12M1308 -249h12M1308 -243h6M1308 -237h6M1308 -231h6M1308 -225h6M1302 -219h12M1302 -213h12M1302 -207h6M1302 -201h6M1296 -189h6M1290 -183h6M1284 -177h6M1278 -171h6M1272 -165h6M1266 -159h12M1266 -153h12M1266 -147h12"/>
<path stroke="#5c5c5c" d="M1512 -519h12M1500 -513h24M1494 -507h24M1488 -501h18M1482 -495h18M1476 -489h18M1470 -483h12M1464 -477h12M1452 -471h18M1446 -465h18M1440 -459h12M1434 -453h12M1434 -447h6M1428 -441h6M1422 -435h12M1422 -429h6M1416 -423h6M1410 -417h12M1410 -411h6M1404 -405h12M1398 -399h12M1398 -393h6M1392 -387h12M1386 -381h12M1380 -375h12M1380 -369h6M1374 -363h6M1368 -357h6M1362 -351h12M1362 -345h6M1356 -339h12M1356 -333h6M1350 -327h6M1344 -321h12M1344 -315h6M1338 -309h12M1338 -303h6M1332 -297h12M1326 -291h12M1326 -285h12M1320 -279h12M1320 -273h12M1320 -267h12M1320 -261h12M1320 -255h6M1320 -249h6M1314 -243h12M1314 -237h12M1314 -231h12M1314 -225h12M1314 -219h6M1314 -213h6M1308 -207h12M1308 -201h6M1302 -195h6M1302 -189h6M1296 -183h6M1290 -177h6M1284 -171h6M1278 -165h12M1278 -159h12M1278 -153h12"/>
<path stroke="#5e5e5e" d="M1518 -507h6M1506 -501h18M1500 -495h24M1494 -489h18M1482 -483h18M1476 -477h18M1470 -471h18M1464 -465h12M1452 -459h18M1446 -453h18M1440 -447h12M1434 -441h12M1434 -435h6M1428 -429h6M1422 -423h12M1422 -417h6M1416 -411h12M1416 -405h6M1410 -399h12M1404 -393h12M1404 -387h6M1398 -381h12M1392 -375h12M1386 -369h12M1380 -363h12M1374 -357h12M1374 -351h12M1368 -345h12M1368 -339h6M1362 -333h6M1356 -327h12M1356 -321h6M1350 -315h12M1350 -309h6M1344 -303h12M1344 -297h6M1338 -291h12M1338 -285h6M1332 -279h12M1332 -273h12M1332 -267h12M1332 -261h6M1326 -255h12M1326 -249h12M1326 -243h12M1326 -237h12M1326 -231h6M1326 -225h6M1320 -219h12M1320 -213h12M1320 -207h6M1314 -201h6M1308 -195h6M1302 -183h6M1296 -177h6M1290 -171h6M1290 -165h6M1290 -159h6"/>
<path stroke="#606060" d="M1512 -489h12M1500 -483h24M1494 -477h24M1488 -471h18M1476 -465h18M1470 -459h18M1464 -453h18M1452 -447h24M1446 -441h24M1440 -435h24M1434 -429h24M1434 -423h12M1428 -417h12M1428 -411h12M1422 -405h12M1422 -399h12M1416 -393h12M1410 -387h12M1410 -381h12M1404 -375h12M1398 -369h12M1392 -363h12M1386 -357h18M1386 -351h12M1380 -345h12M1374 -339h12M1368 -333h12M1368 -327h6M1362 -321h12M1362 -315h6M1356 -309h12M1356 -303h6M1350 -297h12M1350 -291h6M1344 -285h12M1344 -279h12M1344 -273h12M1344 -267h6M1338 -261h12M1338 -255h12M1338 -249h12M1338 -243h6M1338 -237h6M1332 -231h12M1332 -225h12M1332 -219h6M1332 -213h6M1326 -207h6M1320 -201h6M1314 -195h6M1308 -189h6M1308 -183h6M1302 -177h6M1296 -171h12M1296 -165h12"/>
<path stroke="#626262" d="M1518 -477h6M1506 -471h18M1494 -465h30M1488 -459h36M1482 -453h30M1476 -447h24M1470 -441h24M1464 -435h24M1458 -429h24M1446 -423h30M1440 -417h30M1440 -411h18M1434 -405h18M1434 -399h12M1428 -393h12M1422 -387h12M1422 -381h12M1416 -375h12M1410 -369h12M1404 -363h18M1404 -357h12M1398 -351h12M1392 -345h12M1386 -339h12M1380 -333h18M1374 -327h18M1374 -321h12M1368 -315h12M1368 -309h6M1362 -303h12M1362 -297h6M1356 -291h12M1356 -285h12M1356 -279h6M1356 -273h6M1350 -267h12M1350 -261h12M1350 -255h6M1350 -249h6M1344 -243h12M1344 -237h12M1344 -231h6M1344 -225h6M1338 -219h12M1338 -213h6M1332 -207h6M1326 -201h6M1320 -195h6M1314 -189h6M1314 -183h6M1308 -177h12M1308 -171h12"/>
<path stroke="#646464" d="M1512 -453h12M1500 -447h24M1494 -441h30M1488 -435h30M1482 -429h24M1476 -423h24M1470 -417h24M1458 -411h30M1452 -405h30M1446 -399h24M1440 -393h24M1434 -387h24M1434 -381h18M1428 -375h18M1422 -369h18M1422 -363h12M1416 -357h12M1410 -351h18M1404 -345h18M1398 -339h18M1398 -333h12M1392 -327h12M1386 -321h12M1380 -315h18M1374 -309h18M1374 -303h12M1368 -297h18M1368 -291h12M1368 -285h6M1362 -279h12M1362 -273h12M1362 -267h12M1362 -261h6M1356 -255h12M1356 -249h12M1356 -243h12M1356 -237h6M1350 -231h12M1350 -225h6M1350 -219h6M1344 -213h6M1338 -207h6M1332 -201h6M1326 -195h6M1320 -189h12M1320 -183h12M1320 -177h12"/>
<path stroke="#666666" d="M1518 -435h6M1506 -429h18M1500 -423h24M1494 -417h30M1488 -411h30M1482 -405h24M1470 -399h30M1464 -393h30M1458 -387h24M1452 -381h24M1446 -375h24M1440 -369h24M1434 -363h24M1428 -357h24M1428 -351h18M1422 -345h18M1416 -339h18M1410 -333h18M1404 -327h18M1398 -321h18M1398 -315h12M1392 -309h12M1386 -303h18M1386 -297h12M1380 -291h12M1374 -285h18M1374 -279h12M1374 -273h12M1374 -267h6M1368 -261h12M1368 -255h12M1368 -249h6M1368 -243h6M1362 -237h12M1362 -231h6M1356 -225h6M1356 -219h6M1350 -213h6M1344 -207h6M1338 -201h6M1332 -195h6M1332 -189h6M1332 -183h6"/>
<path stroke="#686868" d="M1518 -411h6M1506 -405h18M1500 -399h24M1494 -393h30M1482 -387h30M1476 -381h30M1470 -375h24M1464 -369h24M1458 -363h24M1452 -357h24M1446 -351h18M1440 -345h18M1434 -339h18M1428 -333h12M1422 -327h12M1416 -321h12M1410 -315h18M1404 -309h18M1404 -303h12M1398 -297h12M1392 -291h18M1392 -285h12M1386 -279h12M1386 -273h12M1380 -267h12M1380 -261h12M1380 -255h12M1374 -249h12M1374 -243h12M1374 -237h6M1368 -231h6M1362 -225h6M1362 -219h6M1356 -213h6M1350 -207h6M1344 -201h6M1338 -195h12M1338 -189h12M1338 -183h6"/>
<path stroke="#6a6a6a" d="M1512 -387h12M1506 -381h18M1494 -375h30M1488 -369h24M1482 -363h18M1476 -357h18M1464 -351h18M1458 -345h18M1452 -339h18M1440 -333h18M1434 -327h18M1428 -321h18M1428 -315h12M1422 -309h12M1416 -303h12M1410 -297h12M1410 -291h12M1404 -285h12M1398 -279h12M1398 -273h12M1392 -267h12M1392 -261h12M1392 -255h6M1386 -249h12M1386 -243h6M1380 -237h6M1374 -231h6M1368 -225h6M1368 -219h6M1362 -213h6M1356 -207h6M1350 -201h12M1350 -195h12M1350 -189h6"/>
<path stroke="#6c6c6c" d="M1512 -369h12M1500 -363h24M1494 -357h18M1482 -351h24M1476 -345h18M1470 -339h18M1458 -333h18M1452 -327h18M1446 -321h18M1440 -315h12M1434 -309h12M1428 -303h12M1422 -297h12M1422 -291h6M1416 -285h12M1410 -279h12M1410 -273h6M1404 -267h12M1404 -261h6M1398 -255h12M1398 -249h6M1392 -243h6M1386 -237h6M1380 -231h6M1374 -225h12M1374 -219h6M1368 -213h6M1362 -207h6M1362 -201h6M1362 -195h6"/>
<path stroke="#6e6e6e" d="M1512 -357h12M1506 -351h18M1494 -345h24M1488 -339h18M1476 -333h24M1470 -327h18M1464 -321h18M1452 -315h18M1446 -309h18M1440 -303h18M1434 -297h12M1428 -291h12M1428 -285h6M1422 -279h12M1416 -273h12M1416 -267h6M1410 -261h12M1410 -255h6M1404 -249h6M1398 -243h12M1392 -237h12M1386 -231h12M1386 -225h6M1380 -219h6M1374 -213h6M1368 -207h12M1368 -201h12"/>
<path stroke="#707070" d="M1518 -345h6M1506 -339h18M1500 -333h18M1488 -327h18M1482 -321h18M1470 -315h18M1464 -309h18M1458 -303h18M1446 -297h18M1440 -291h18M1434 -285h18M1434 -279h6M1428 -273h12M1422 -267h12M1422 -261h6M1416 -255h6M1410 -249h12M1410 -243h6M1404 -237h6M1398 -231h6M1392 -225h6M1386 -219h12M1380 -213h18M1380 -207h12"/>
<path stroke="#727272" d="M1518 -333h6M1506 -327h18M1500 -321h24M1488 -315h24M1482 -309h18M1476 -303h18M1464 -297h18M1458 -291h18M1452 -285h18M1440 -279h18M1440 -273h12M1434 -267h6M1428 -261h12M1422 -255h12M1422 -249h6M1416 -243h6M1410 -237h6M1404 -231h12M1398 -225h18M1398 -219h18M1398 -213h6"/>
<path stroke="#747474" d="M1512 -315h12M1500 -309h24M1494 -303h24M1482 -297h24M1476 -291h24M1470 -285h18M1458 -279h24M1452 -273h18M1440 -267h24M1440 -261h12M1434 -255h6M1428 -249h6M1422 -243h12M1416 -237h12M1416 -231h12M1416 -225h12"/>
<path stroke="#767676" d="M1518 -303h6M1506 -297h18M1500 -291h24M1488 -285h36M1482 -279h42M1470 -273h54M1464 -267h48M1452 -261h48M1440 -255h48M1434 -249h42M1434 -243h30M1428 -237h24M1428 -231h12"/>
</g>
<g filter="url(#hsb)">
<path fill="#000000" d="M865 44L874.4 39.2L874.4 44.5L865 49.3ZM901.7 25.5L912.7 20L912.7 25L901.7 30.5ZM1045.8 -48.2L1056.1 -53.4L1056.1 -48.1L1045.8 -42.9ZM1083.3 -67.3L1087.7 -69.5L1087.7 -64.2L1083.3 -62ZM1155 -105.5L1160.2 -108.1L1160.2 -101.2L1155 -98.5ZM1169.9 -112.1L1174.1 -114.2L1174.1 -108.2L1169.9 -106.1ZM1188.9 -122.4L1195 -125.5L1195 -118.9L1188.9 -115.8ZM1322.3 -190.8L1335.2 -197.4L1335.2 -190.3L1322.3 -183.7ZM1361.4 -209.8L1366.5 -212.4L1366.5 -206.3L1361.4 -203.7ZM1406.6 -232.2L1419.2 -238.7L1419.2 -233.1L1406.6 -226.7ZM1453.5 -256.2L1462.7 -261L1462.7 -255.3L1453.5 -250.6ZM1475.7 -268.2L1490.7 -275.8L1490.7 -269.5L1475.7 -261.9ZM1501.7 -281L1507 -283.7L1507 -277.9L1501.7 -275.2Z"/>
<path fill="#0d0d0d" d="M1236.1 -146.6L1250.7 -154L1250.7 -147.3L1236.1 -139.8ZM1250.7 -154L1262.5 -160.1L1262.5 -153.3L1250.7 -147.3ZM1419.2 -239.9L1429.9 -245.3L1429.9 -238.6L1419.2 -233.1ZM1468.2 -264.5L1475.7 -268.3L1475.7 -261.9L1468.2 -258.1ZM1490.7 -276L1501.7 -281.6L1501.7 -275.2L1490.7 -269.5Z"/>
<path fill="#404040" d="M894.7 29.6L901.7 26L901.7 30.5L894.7 34.1ZM1001.4 -25.8L1005.4 -27.8L1005.4 -22.3L1001.4 -20.2ZM1099 -74.9L1110 -80.5L1110 -75.6L1099 -69.9ZM1174.1 -113.4L1188.9 -121L1188.9 -115.8L1174.1 -108.2Z"/>
<path fill="#555555" d="M874.4 40.1L884.1 35.2L884.1 39.5L874.4 44.5ZM912.7 20.5L919.6 17L919.6 21.5L912.7 25ZM919.6 17.1L927.2 13.2L927.2 17.6L919.6 21.5ZM941.8 5.7L947.9 2.6L947.9 7L941.8 10.1ZM959.6 -3.8L969.9 -9.1L969.9 -4.2L959.6 1.1ZM1023.8 -35.9L1028.1 -38.1L1028.1 -33.9L1023.8 -31.6ZM1070.2 -60L1083.3 -66.6L1083.3 -62L1070.2 -55.3ZM1087.7 -68.9L1092.3 -71.2L1092.3 -66.5L1087.7 -64.2ZM1129.6 -90.2L1137.4 -94.2L1137.4 -89.5L1129.6 -85.5Z"/>
<path fill="#666666" d="M884.1 34.8L889 32.3L889 37L884.1 39.5ZM947.9 2.9L959.6 -3.1L959.6 1.1L947.9 7ZM1013.8 -31.4L1023.8 -36.5L1023.8 -31.6L1013.8 -26.5ZM1092.3 -71.2L1099 -74.6L1099 -69.9L1092.3 -66.5Z"/>
<path fill="#bfbfbf" d="M1146.9 -101.4L1155 -105.5L1155 -98.5L1146.9 -94.4ZM1160.2 -108L1169.9 -112.9L1169.9 -106.1L1160.2 -101.2ZM1195 -126L1202.7 -129.9L1202.7 -122.8L1195 -118.9ZM1202.7 -129.9L1217.2 -137.2L1217.2 -130.2L1202.7 -122.8ZM1217.2 -136.4L1224.8 -140.3L1224.8 -134.1L1217.2 -130.2ZM1262.5 -158.5L1277.2 -166L1277.2 -160.8L1262.5 -153.3ZM1277.2 -166.7L1283.9 -170L1283.9 -164.2L1277.2 -160.8ZM1283.9 -170.2L1296.8 -176.8L1296.8 -170.7L1283.9 -164.2ZM1296.8 -176L1309.7 -182.6L1309.7 -177.3L1296.8 -170.7ZM1309.7 -184.2L1316.4 -187.6L1316.4 -180.7L1309.7 -177.3ZM1316.4 -187.6L1322.3 -190.6L1322.3 -183.7L1316.4 -180.7ZM1339.8 -199.6L1350.1 -204.8L1350.1 -197.9L1339.8 -192.7ZM1366.5 -211.4L1377.7 -217.1L1377.7 -212L1366.5 -206.3ZM1377.7 -219L1387.7 -224.1L1387.7 -217.1L1377.7 -212ZM1387.7 -223.5L1396.8 -228.2L1396.8 -221.7L1387.7 -217.1ZM1429.9 -244.6L1444.8 -252.2L1444.8 -246.2L1429.9 -238.6ZM1444.8 -252.1L1453.5 -256.5L1453.5 -250.6L1444.8 -246.2ZM1462.7 -260.7L1468.2 -263.5L1468.2 -258.1L1462.7 -255.3Z"/>
</g>
</g>
<path d="M853.9 13.5V488" stroke="#050003" stroke-width="4.6" stroke-dasharray="5 3 3 2 6 4" opacity=".92" fill="none"/>
<polygon fill="#1b4c9f" points="847.3,8.5 847.3,182.7 930,220 1000,262 1070,290 1128,306 1152,306 1175,298 1200,285 1243,256 1282,217 1317,174 1343,135 1365,100 1378,65 1384,35 1386.5,8.5"/>
<path d="M983.2 488v-6.5M1114.2 488v-6.5M1245.1 488v-6.5M1376.1 488v-6.5M1507 488v-6.5" stroke="#262626" stroke-width="1" opacity=".7" fill="none"/>
</g>
<path d="M852.95 13.5V488" fill="none" stroke="#0a0a14" stroke-width="1.3" opacity=".75"/>
<path d="M852.3 14.15H1507" fill="none" stroke="#0a0a14" stroke-width="1.3" opacity=".75"/>
<path d="M852.3 487.7H1507" fill="none" stroke="#3c3c3c" stroke-width="1.1" opacity=".3"/>
<path d="M1506.7 13.5V488" fill="none" stroke="#3c3c3c" stroke-width="1.1" opacity=".12"/>
<text transform="translate(842.5 499.3) scale(1 1.075)" font-family="'Liberation Sans',Arial,Helvetica,sans-serif" font-size="30.9" fill="#25282b" text-anchor="end">0</text>
<text transform="translate(842.5 451.85) scale(1 1.075)" font-family="'Liberation Sans',Arial,Helvetica,sans-serif" font-size="30.9" fill="#25282b" text-anchor="end">2</text>
<text transform="translate(842.5 404.4) scale(1 1.075)" font-family="'Liberation Sans',Arial,Helvetica,sans-serif" font-size="30.9" fill="#25282b" text-anchor="end">4</text>
<text transform="translate(842.5 356.95) scale(1 1.075)" font-family="'Liberation Sans',Arial,Helvetica,sans-serif" font-size="30.9" fill="#25282b" text-anchor="end">6</text>
<text transform="translate(842.5 309.5) scale(1 1.075)" font-family="'Liberation Sans',Arial,Helvetica,sans-serif" font-size="30.9" fill="#25282b" text-anchor="end">8</text>
<text transform="translate(842.5 262.05) scale(1 1.075)" font-family="'Liberation Sans',Arial,Helvetica,sans-serif" font-size="30.9" fill="#25282b" text-anchor="end">10</text>
<text transform="translate(842.5 214.6) scale(1 1.075)" font-family="'Liberation Sans',Arial,Helvetica,sans-serif" font-size="30.9" fill="#25282b" text-anchor="end">12</text>
<text transform="translate(842.5 167.15) scale(1 1.075)" font-family="'Liberation Sans',Arial,Helvetica,sans-serif" font-size="30.9" fill="#25282b" text-anchor="end">14</text>
<text transform="translate(842.5 119.7) scale(1 1.075)" font-family="'Liberation Sans',Arial,Helvetica,sans-serif" font-size="30.9" fill="#25282b" text-anchor="end">16</text>
<text transform="translate(842.5 72.25) scale(1 1.075)" font-family="'Liberation Sans',Arial,Helvetica,sans-serif" font-size="30.9" fill="#25282b" text-anchor="end">18</text>
<text transform="translate(842.5 24.8) scale(1 1.075)" font-family="'Liberation Sans',Arial,Helvetica,sans-serif" font-size="30.9" fill="#25282b" text-anchor="end">20</text>
<text transform="translate(852.4 525.9) scale(1 1.075)" font-family="'Liberation Sans',Arial,Helvetica,sans-serif" font-size="30.9" fill="#25282b" text-anchor="middle">0</text>
<text transform="translate(983.34 525.9) scale(1 1.075)" font-family="'Liberation Sans',Arial,Helvetica,sans-serif" font-size="30.9" fill="#25282b" text-anchor="middle">0.2</text>
<text transform="translate(1114.28 525.9) scale(1 1.075)" font-family="'Liberation Sans',Arial,Helvetica,sans-serif" font-size="30.9" fill="#25282b" text-anchor="middle">0.4</text>
<text transform="translate(1245.22 525.9) scale(1 1.075)" font-family="'Liberation Sans',Arial,Helvetica,sans-serif" font-size="30.9" fill="#25282b" text-anchor="middle">0.6</text>
<text transform="translate(1376.16 525.9) scale(1 1.075)" font-family="'Liberation Sans',Arial,Helvetica,sans-serif" font-size="30.9" fill="#25282b" text-anchor="middle">0.8</text>
<text transform="translate(1507.1 525.9) scale(1 1.075)" font-family="'Liberation Sans',Arial,Helvetica,sans-serif" font-size="30.9" fill="#25282b" text-anchor="middle">1</text>
<text transform="translate(872.5 47.7) scale(0.96 1.07)" font-family="'Liberation Sans',Arial,Helvetica,sans-serif" font-size="39" fill="#fff" font-weight="bold" stroke="#fff" stroke-width="0.5" stroke-linejoin="round">b)</text>
<text transform="translate(917 47.7)" font-family="'Liberation Serif','Times New Roman',serif" font-size="45" fill="#fff" font-weight="bold" font-style="italic" stroke="#fff" stroke-width="0.3" stroke-linejoin="round">w</text>
<text transform="translate(948 55.7)" font-family="'Liberation Serif','Times New Roman',serif" font-size="29" fill="#fff" font-weight="bold" font-style="italic" stroke="#fff" stroke-width="0.2" stroke-linejoin="round">PEO</text>
<text transform="translate(1006.9 47.7) scale(1 1.07)" font-family="'Liberation Sans',Arial,Helvetica,sans-serif" font-size="39" fill="#fff" font-weight="bold" stroke="#fff" stroke-width="0.5" stroke-linejoin="round">= 0.10, pH 7.5</text>
<text transform="translate(1039 176.1) scale(1 1.07)" font-family="'Liberation Sans',Arial,Helvetica,sans-serif" font-size="49" fill="#80a7d4" font-weight="bold" letter-spacing="-1.2" stroke="#80a7d4" stroke-width="0.4" stroke-linejoin="round">No data</text>
<g clip-path="url(#cpc)">
<g transform="skewY(27)">
<g filter="url(#hmc)" fill="none" stroke-width="6" shape-rendering="crispEdges">
<path stroke="#040404" d="M194 585h12M194 591h6M194 597h6M194 603h6M194 609h6M194 615h6M194 621h6M194 627h6M194 633h6M194 639h6M194 885h6M194 891h12M194 897h12M194 903h12M194 909h12M194 915h12M194 921h12M194 927h12M194 933h12M194 939h12M194 945h12M194 951h12"/>
<path stroke="#060606" d="M200 579h6M200 591h6M200 597h6M200 603h6M200 609h6M200 615h6M200 621h6M200 627h6M200 633h6M200 639h6M194 645h12M194 651h12M194 657h12M194 663h12M194 669h12M194 675h12M194 681h12M194 687h12M194 693h12M194 699h12M194 705h12M194 711h12M194 717h12M194 723h12M194 729h12M194 735h12M194 741h6M194 747h6M194 753h6M194 759h6M194 765h6M194 771h6M194 777h6M194 783h6M194 789h6M194 795h6M194 801h6M194 807h6M194 813h6M194 819h6M194 825h6M194 831h12M194 837h12M194 843h12M194 849h12M194 855h12M194 861h12M194 867h12M194 873h12M194 879h12M200 885h6M206 927h6M206 933h6M188 939h6M206 939h6M188 945h6M206 945h6M188 951h6M188 957h6"/>
<path stroke="#080808" d="M194 579h6M200 741h6M200 747h6M200 753h6M200 759h6M200 765h6M200 771h6M200 777h6M200 783h6M200 789h6M200 795h6M200 801h6M200 807h6M200 813h6M200 819h6M200 825h6M350 861h6M332 867h24M302 873h54M290 879h54M278 885h60M266 891h60M206 897h6M254 897h60M206 903h6M248 903h54M188 909h6M206 909h6M242 909h48M188 915h6M206 915h6M236 915h42M188 921h6M206 921h6M230 921h36M188 927h6M212 927h6M230 927h24M188 933h6M212 933h6M230 933h12M212 939h6M212 945h6"/>
<path stroke="#0a0a0a" d="M206 579h6M188 585h6M206 585h6M188 591h6M206 591h6M188 597h6M206 597h6M188 603h6M206 603h6M188 609h6M206 609h6M188 615h6M206 615h6M188 621h6M206 621h6M188 627h6M206 627h6M188 633h6M188 639h6M188 645h6M188 651h6M350 837h60M326 843h84M308 849h96M296 855h96M284 861h66M356 861h24M272 867h60M356 867h12M260 873h42M206 879h6M248 879h42M206 885h6M242 885h36M188 891h6M206 891h6M236 891h30M188 897h6M224 897h30M188 903h6M212 903h36M212 909h30M212 915h24M212 921h18M218 927h12M158 933h6M182 933h6M218 933h12M158 939h6M182 939h6M218 939h12M158 945h6M182 945h6M158 951h6M182 951h6M158 957h6M182 957h6M152 963h12M152 969h12M152 975h6"/>
<path stroke="#0c0c0c" d="M200 573h12M188 579h6M158 591h6M158 597h6M158 603h6M158 609h6M158 615h6M158 621h6M158 627h6M158 633h6M206 633h6M158 639h6M206 639h6M158 645h6M206 645h6M158 651h6M206 651h6M158 657h6M188 657h6M206 657h6M158 663h6M188 663h6M206 663h6M158 669h6M188 669h6M206 669h6M158 675h6M188 675h6M158 681h6M188 681h6M188 687h6M188 693h6M440 813h6M374 819h72M350 825h96M320 831h120M302 837h48M410 837h18M290 843h36M410 843h6M284 849h24M272 855h24M260 861h24M248 867h24M188 873h6M206 873h6M236 873h24M188 879h6M230 879h18M188 885h6M212 885h6M224 885h18M212 891h24M212 897h12M158 903h6M158 909h6M158 915h6M182 915h6M158 921h6M182 921h6M158 927h6M182 927h6M152 933h6M152 939h6M152 945h6M152 951h6M152 957h6"/>
<path stroke="#0e0e0e" d="M680 201h12M668 207h24M656 213h36M644 219h48M632 225h60M626 231h66M614 237h78M602 243h84M590 249h96M578 255h108M566 261h120M554 267h132M542 273h144M530 279h156M518 285h168M506 291h180M494 297h186M482 303h198M470 309h210M458 315h222M446 321h234M434 327h246M422 333h252M410 339h264M398 345h276M386 351h288M374 357h300M362 363h306M350 369h318M338 375h330M326 381h342M314 387h348M308 393h354M296 399h366M284 405h378M272 411h390M260 417h396M248 423h408M236 429h420M224 435h432M212 441h438M200 447h450M188 453h462M176 459h474M164 465h480M152 471h492M140 477h504M128 483h510M116 489h522M104 495h534M104 501h534M104 507h528M104 513h528M104 519h522M104 525h516M104 531h258M446 531h174M104 537h240M464 537h150M104 543h216M482 543h126M104 549h186M500 549h96M104 555h156M518 555h72M104 561h138M530 561h48M104 567h120M104 573h96M212 573h6M104 579h66M182 579h6M212 579h6M104 585h60M182 585h6M212 585h6M104 591h36M152 591h6M182 591h6M212 591h6M104 597h24M152 597h6M182 597h6M212 597h6M104 603h6M152 603h6M182 603h6M212 603h6M152 609h6M182 609h6M152 615h6M152 621h6M152 627h6M152 633h6M152 639h6M152 645h6M152 651h6M152 657h6M152 663h6M152 669h6M152 675h6M206 675h6M206 681h6M158 687h6M206 687h6M158 693h6M206 693h6M158 699h6M188 699h6M158 705h6M188 705h6M158 711h6M188 711h6M158 717h6M188 717h6M158 723h6M188 723h6M158 729h6M158 735h6M422 801h54M374 807h102M350 813h90M446 813h30M338 819h36M446 819h18M320 825h30M446 825h6M308 831h12M296 837h6M284 843h6M272 849h12M260 855h12M188 861h6M206 861h6M248 861h12M188 867h6M206 867h6M242 867h6M230 873h6M158 879h6M212 879h18M158 885h6M218 885h6M158 891h6M158 897h6M182 903h6M152 909h6M182 909h6M152 915h6M152 921h6M152 927h6M164 939h6M164 945h6M164 951h6M164 957h6M164 963h6M164 969h6M122 975h6M134 975h6M116 981h12M134 981h6M104 987h24M104 993h18M104 999h6"/>
<path stroke="#101010" d="M362 531h84M344 537h120M320 543h96M458 543h24M290 549h114M488 549h12M596 549h6M260 555h132M506 555h12M242 561h138M518 561h12M578 561h6M224 567h144M542 567h18M218 573h138M170 579h12M218 579h126M164 585h6M218 585h114M140 591h6M164 591h6M218 591h102M128 597h12M218 597h24M110 603h18M218 603h12M104 609h6M212 609h12M182 615h6M212 615h6M182 621h6M212 621h6M182 627h6M212 627h6M182 633h6M212 633h6M182 639h6M212 639h6M182 645h6M212 645h6M182 651h6M182 657h6M152 681h6M152 687h6M152 693h6M152 699h6M206 699h6M152 705h6M206 705h6M152 711h6M206 711h6M152 717h6M188 729h6M188 735h6M158 741h6M188 741h6M158 747h6M188 747h6M158 753h6M158 759h6M158 765h6M158 771h6M158 777h6M158 783h6M494 783h12M158 789h6M440 789h66M158 795h6M410 795h96M158 801h6M368 801h54M476 801h24M158 807h6M350 807h24M476 807h12M158 813h6M338 813h12M158 819h6M320 819h18M158 825h6M308 825h12M158 831h6M188 831h6M296 831h12M158 837h6M188 837h6M284 837h12M158 843h6M188 843h6M272 843h12M158 849h6M188 849h6M206 849h6M260 849h12M158 855h6M188 855h6M206 855h6M254 855h6M158 861h6M242 861h6M158 867h6M230 867h12M158 873h6M212 873h18M182 891h6M152 897h6M182 897h6M152 903h6M164 927h6M164 933h6M128 957h12M122 963h18M116 969h24M104 975h18M128 975h6M104 981h12M128 981h6M128 987h6"/>
<path stroke="#121212" d="M416 543h42M404 549h84M392 555h60M500 555h6M380 561h66M512 561h6M368 567h78M536 567h6M560 567h6M356 573h90M344 579h90M332 585h90M146 591h6M320 591h90M164 597h6M242 597h156M128 603h12M164 603h6M230 603h156M110 609h24M164 609h6M224 609h126M122 615h12M164 615h6M218 615h108M128 621h6M164 621h6M218 621h54M128 627h6M164 627h6M218 627h36M128 633h6M164 633h6M218 633h18M128 639h6M218 639h6M212 651h6M212 657h6M182 663h6M212 663h6M182 669h6M182 675h6M182 681h6M182 687h6M206 717h6M152 723h6M206 723h6M152 729h6M206 729h6M152 735h6M206 735h6M152 741h6M152 747h6M152 753h6M188 753h6M188 759h6M188 765h6M188 771h6M500 771h12M188 777h6M464 777h48M188 783h6M434 783h60M506 783h6M188 789h6M392 789h48M506 789h6M188 795h6M368 795h42M506 795h6M188 801h6M350 801h18M188 807h6M338 807h12M188 813h6M320 813h18M188 819h6M308 819h12M188 825h6M296 825h12M206 831h6M284 831h12M206 837h6M278 837h6M206 843h6M266 843h6M254 849h6M242 855h12M236 861h6M152 867h6M212 867h6M224 867h6M152 873h6M152 879h6M152 885h6M182 885h6M152 891h6M164 915h6M164 921h6M128 945h12M122 951h18M116 957h12M104 963h18M104 969h12"/>
<path stroke="#141414" d="M764 501h6M752 507h6M452 555h18M488 555h12M590 555h6M446 561h18M506 561h6M446 567h18M530 567h6M446 573h12M434 579h24M422 585h30M410 591h36M398 597h48M386 603h42M134 609h6M350 609h66M104 615h18M134 615h6M326 615h72M104 621h24M134 621h6M272 621h114M104 627h24M134 627h6M254 627h108M104 633h24M134 633h6M236 633h102M104 639h24M134 639h6M164 639h6M224 639h24M308 639h12M104 645h30M164 645h6M218 645h18M122 651h12M164 651h6M218 651h12M122 657h12M164 657h6M218 657h6M128 663h6M164 663h6M128 669h6M164 669h6M212 669h6M128 675h6M212 675h6M128 681h6M212 681h6M182 693h6M182 699h6M182 705h6M182 711h6M206 741h6M206 747h6M206 753h6M152 759h6M206 759h6M152 765h6M482 765h30M152 771h6M458 771h42M152 777h6M428 777h36M152 783h6M206 783h6M392 783h42M152 789h6M206 789h6M368 789h24M152 795h6M206 795h6M350 795h18M152 801h6M206 801h6M338 801h12M152 807h6M206 807h6M320 807h18M152 813h6M206 813h6M308 813h12M152 819h6M206 819h6M296 819h12M152 825h6M206 825h6M290 825h6M152 831h6M278 831h6M152 837h6M266 837h12M152 843h6M254 843h12M152 849h6M248 849h6M152 855h6M236 855h6M152 861h6M212 861h6M224 861h12M218 867h6M182 873h6M182 879h6M164 903h6M164 909h6M128 927h6M128 933h6M122 939h18M122 945h6M116 951h6M176 951h6M104 957h12M176 957h6M176 963h6"/>
<path stroke="#161616" d="M782 489h6M770 495h12M758 501h6M746 507h6M740 513h6M470 555h18M464 561h18M500 561h6M464 567h12M524 567h6M566 567h6M458 573h18M458 579h12M170 585h12M452 585h12M446 591h18M446 597h12M428 603h24M416 609h36M398 615h48M386 621h54M362 627h54M338 633h60M248 639h60M320 639h60M134 645h6M236 645h96M104 651h18M134 651h6M230 651h18M290 651h24M104 657h18M134 657h6M224 657h12M104 663h24M134 663h6M218 663h12M104 669h24M218 669h6M122 675h6M164 675h6M122 681h6M164 681h6M122 687h12M164 687h6M212 687h6M128 693h6M164 693h6M212 693h6M128 699h6M128 705h6M128 711h6M182 717h6M182 723h6M482 759h30M206 765h6M458 765h24M206 771h6M428 771h30M512 771h6M206 777h6M392 777h36M512 777h6M362 783h30M512 783h6M350 789h18M512 789h6M338 795h12M326 801h12M314 807h6M302 813h6M290 819h6M278 825h12M272 831h6M260 837h6M248 843h6M236 849h12M212 855h6M224 855h12M182 861h6M218 861h6M182 867h6M164 897h6M128 915h6M128 921h6M176 921h6M134 927h6M176 927h6M122 933h6M134 933h6M176 933h6M176 939h6M110 945h12M176 945h6M104 951h12"/>
<path stroke="#181818" d="M482 561h18M476 567h12M518 567h6M476 573h12M470 579h12M464 585h18M176 591h6M464 591h12M140 597h12M176 597h6M458 597h12M176 603h6M452 603h18M176 609h6M452 609h12M446 615h12M440 621h12M416 627h30M398 633h36M380 639h42M332 645h72M248 651h42M314 651h78M236 657h90M230 663h18M134 669h6M224 669h12M104 675h18M134 675h6M218 675h12M104 681h18M134 681h6M218 681h6M104 687h18M134 687h6M218 687h6M104 693h6M122 693h6M122 699h6M164 699h6M212 699h6M122 705h6M164 705h6M212 705h6M164 711h6M128 717h6M164 717h6M128 723h6M128 729h6M182 729h6M128 735h6M182 735h6M182 741h6M482 753h30M458 759h24M434 765h24M512 765h6M398 771h30M368 777h24M518 777h6M356 783h6M518 783h6M344 789h6M518 789h6M332 795h6M314 801h12M308 807h6M296 813h6M284 819h6M272 825h6M260 831h12M254 837h6M182 843h6M242 843h6M182 849h6M212 849h6M230 849h6M182 855h6M218 855h6M164 885h6M164 891h6M128 903h6M128 909h6M176 909h6M176 915h6M122 921h6M134 921h6M122 927h6M116 933h6M110 939h12M104 945h6M146 951h6M146 957h6M146 963h6M146 969h6M146 975h6"/>
<path stroke="#1a1a1a" d="M638 483h6M620 525h6M584 561h6M488 567h30M488 573h12M542 573h6M482 579h18M482 585h12M476 591h12M470 597h18M146 603h6M470 603h12M146 609h6M464 609h12M176 615h6M458 615h12M176 621h6M452 621h12M176 627h6M446 627h12M176 633h6M434 633h12M176 639h6M422 639h18M176 645h6M404 645h24M176 651h6M392 651h18M176 657h6M326 657h66M176 663h6M248 663h132M176 669h6M236 669h54M308 669h6M230 675h18M224 681h12M224 687h6M110 693h12M134 693h6M218 693h6M104 699h18M134 699h6M104 705h18M134 705h6M104 711h6M122 711h6M212 711h6M122 717h6M212 717h6M122 723h6M164 723h6M164 729h6M164 735h6M128 741h6M128 747h6M182 747h6M482 747h30M128 753h6M182 753h6M464 753h18M512 753h6M128 759h6M182 759h6M440 759h18M512 759h6M182 765h6M398 765h36M182 771h6M374 771h24M518 771h6M182 777h6M362 777h6M182 783h6M350 783h6M182 789h6M332 789h12M182 795h6M320 795h12M182 801h6M308 801h6M182 807h6M296 807h12M182 813h6M290 813h6M182 819h6M278 819h6M182 825h6M266 825h6M182 831h6M254 831h6M182 837h6M248 837h6M212 843h6M230 843h12M218 849h12M164 873h6M164 879h6M128 885h6M128 891h6M128 897h6M176 897h6M176 903h6M122 915h6M134 915h6M116 927h6M104 933h12M146 933h6M104 939h6M146 939h6M146 945h6"/>
<path stroke="#1c1c1c" d="M572 567h6M500 573h12M536 573h6M548 573h6M500 579h12M494 585h12M488 591h18M488 597h12M482 603h6M476 609h6M146 615h6M470 615h6M146 621h6M464 621h6M146 627h6M458 627h6M146 633h6M446 633h12M146 639h6M440 639h12M146 645h6M428 645h18M146 651h6M410 651h18M146 657h6M392 657h24M146 663h6M380 663h18M146 669h6M290 669h18M314 669h66M176 675h6M248 675h102M176 681h6M236 681h12M176 687h6M230 687h12M176 693h6M224 693h6M176 699h6M218 699h6M176 705h6M218 705h6M110 711h12M134 711h6M104 717h18M134 717h6M104 723h18M134 723h6M212 723h6M122 729h6M122 735h6M122 741h6M164 741h6M488 741h24M164 747h6M470 747h12M512 747h6M164 753h6M446 753h18M410 759h30M518 759h6M128 765h6M380 765h18M518 765h6M128 771h6M368 771h6M128 777h6M356 777h6M524 777h6M128 783h6M338 783h12M524 783h6M128 789h6M326 789h6M128 795h6M314 795h6M128 801h6M302 801h6M128 807h6M290 807h6M128 813h6M284 813h6M128 819h6M272 819h6M128 825h6M260 825h6M128 831h6M212 831h6M248 831h6M128 837h6M212 837h6M236 837h12M128 843h6M218 843h12M128 849h6M128 855h6M164 855h6M128 861h6M164 861h6M128 867h6M164 867h6M128 873h6M128 879h6M176 885h6M176 891h6M122 903h6M134 903h6M122 909h6M134 909h6M116 921h6M146 921h6M104 927h12M146 927h6M170 927h6M170 933h6M170 939h6M140 945h6M170 945h6M140 951h6M170 951h6M140 957h6M170 957h6M140 963h6M170 963h6M140 969h6M140 975h6M140 981h6"/>
<path stroke="#1e1e1e" d="M734 513h6M512 573h12M530 573h6M554 573h6M512 579h6M506 585h6M170 591h6M506 591h6M170 597h6M500 597h6M140 603h6M170 603h6M488 603h12M140 609h6M170 609h6M482 609h12M140 615h6M170 615h6M476 615h6M140 621h6M170 621h6M470 621h6M140 627h6M170 627h6M464 627h6M140 633h6M170 633h6M458 633h6M140 639h6M170 639h6M452 639h6M140 645h6M446 645h6M428 651h18M416 657h18M398 663h18M380 669h24M146 675h6M350 675h36M146 681h6M248 681h102M146 687h6M242 687h6M308 687h6M146 693h6M230 693h12M146 699h6M224 699h12M224 705h6M176 711h6M218 711h6M176 717h6M176 723h6M104 729h18M134 729h6M176 729h6M212 729h6M104 735h18M134 735h6M212 735h6M494 735h18M104 741h6M134 741h6M476 741h12M512 741h6M122 747h6M452 747h18M122 753h6M422 753h24M518 753h6M122 759h6M164 759h6M392 759h18M164 765h6M374 765h6M524 765h6M164 771h6M356 771h12M524 771h6M164 777h6M344 777h12M164 783h6M332 783h6M164 789h6M320 789h6M164 795h6M308 795h6M164 801h6M296 801h6M164 807h6M284 807h6M164 813h6M272 813h12M164 819h6M212 819h6M266 819h6M164 825h6M212 825h6M254 825h6M164 831h6M242 831h6M164 837h6M218 837h18M164 843h6M164 849h6M176 867h6M176 873h6M176 879h6M122 891h6M134 891h6M122 897h6M134 897h6M146 903h6M146 909h6M170 909h6M110 915h12M146 915h6M170 915h6M104 921h12M170 921h6M140 927h6M140 933h6M140 939h6"/>
<path stroke="#202020" d="M728 519h6M524 573h6M512 585h6M512 591h6M506 597h6M500 603h6M494 609h6M482 615h12M476 621h6M470 627h6M464 633h6M458 639h6M170 645h6M452 645h6M140 651h6M170 651h6M446 651h6M140 657h6M170 657h6M434 657h12M140 663h6M170 663h6M416 663h18M140 669h6M170 669h6M404 669h18M140 675h6M170 675h6M386 675h18M140 681h6M170 681h6M350 681h42M140 687h6M170 687h6M248 687h60M314 687h42M140 693h6M170 693h6M242 693h12M290 693h30M236 699h6M146 705h6M230 705h6M146 711h6M224 711h6M146 717h6M218 717h6M146 723h6M146 729h6M500 729h12M176 735h6M476 735h18M512 735h6M110 741h12M176 741h6M212 741h6M458 741h18M104 747h18M134 747h6M176 747h6M212 747h6M434 747h18M518 747h6M104 753h18M134 753h6M176 753h6M212 753h6M398 753h24M134 759h6M374 759h18M524 759h6M122 765h6M362 765h12M122 771h6M350 771h6M530 771h6M122 777h6M338 777h6M530 777h6M326 783h6M530 783h6M308 789h12M212 795h6M302 795h6M212 801h6M290 801h6M212 807h6M278 807h6M212 813h6M266 813h6M260 819h6M248 825h6M218 831h24M176 843h6M176 849h6M176 855h6M176 861h6M122 867h6M122 873h6M122 879h6M134 879h6M122 885h6M134 885h6M146 891h6M170 891h6M146 897h6M170 897h6M116 903h6M170 903h6M104 909h18M104 915h6M140 915h6M140 921h6"/>
<path stroke="#222222" d="M560 573h6M518 579h6M518 585h6M512 597h6M506 603h6M500 609h6M494 615h6M482 621h12M476 627h6M470 633h12M464 639h12M458 645h12M452 651h12M446 657h12M434 663h12M422 669h18M404 675h24M392 681h18M356 687h36M254 693h36M320 693h60M140 699h6M170 699h6M242 699h72M140 705h6M170 705h6M236 705h6M140 711h6M170 711h6M230 711h6M140 717h6M170 717h6M224 717h6M140 723h6M170 723h6M218 723h6M506 723h6M170 729h6M218 729h6M482 729h18M146 735h6M464 735h12M146 741h6M440 741h18M518 741h6M146 747h6M410 747h24M146 753h6M386 753h12M524 753h6M104 759h18M146 759h6M176 759h6M212 759h6M368 759h6M104 765h18M134 765h6M176 765h6M212 765h6M356 765h6M530 765h6M104 771h6M134 771h6M176 771h6M212 771h6M338 771h12M176 777h6M212 777h6M326 777h12M122 783h6M176 783h6M212 783h6M314 783h12M122 789h6M176 789h6M212 789h6M302 789h6M122 795h6M176 795h6M290 795h12M122 801h6M176 801h6M284 801h6M122 807h6M176 807h6M272 807h6M122 813h6M176 813h6M260 813h6M122 819h6M176 819h6M218 819h6M254 819h6M122 825h6M176 825h6M218 825h30M122 831h6M176 831h6M122 837h6M176 837h6M122 843h6M122 849h6M122 855h6M122 861h6M134 861h6M134 867h6M170 867h6M134 873h6M146 873h6M170 873h6M146 879h6M170 879h6M146 885h6M170 885h6M116 891h6M104 897h18M140 897h6M104 903h12M140 903h6M140 909h6"/>
<path stroke="#242424" d="M662 387h6M758 507h6M746 513h6M524 579h6M524 585h6M518 591h6M512 603h6M506 609h6M500 615h6M494 621h6M482 627h12M482 633h6M476 639h6M470 645h6M464 651h6M458 657h6M446 663h12M440 669h12M428 675h18M410 681h18M392 687h24M380 693h18M314 699h66M242 705h72M236 711h6M230 717h6M224 723h6M488 723h18M140 729h6M470 729h12M512 729h6M140 735h6M170 735h6M218 735h6M446 735h18M518 735h6M140 741h6M170 741h6M416 741h24M140 747h6M170 747h6M392 747h18M524 747h6M140 753h6M170 753h6M368 753h18M170 759h6M356 759h12M530 759h6M146 765h6M170 765h6M338 765h18M536 765h6M110 771h12M146 771h6M170 771h6M326 771h12M536 771h6M104 777h18M134 777h6M146 777h6M170 777h6M314 777h12M536 777h6M104 783h18M134 783h6M146 783h6M170 783h6M302 783h12M134 789h6M146 789h6M170 789h6M290 789h12M134 795h6M146 795h6M170 795h6M284 795h6M134 801h6M146 801h6M170 801h6M272 801h12M134 807h6M146 807h6M170 807h6M218 807h6M260 807h12M134 813h6M146 813h6M170 813h6M218 813h12M254 813h6M134 819h6M146 819h6M170 819h6M224 819h30M134 825h6M146 825h6M170 825h6M134 831h6M146 831h6M170 831h6M134 837h6M146 837h6M170 837h6M134 843h6M146 843h6M170 843h6M134 849h6M146 849h6M170 849h6M134 855h6M146 855h6M170 855h6M146 861h6M170 861h6M146 867h6M116 873h6M110 879h12M140 879h6M104 885h18M140 885h6M104 891h12M140 891h6"/>
<path stroke="#262626" d="M776 489h6M764 495h6M782 495h6M770 501h6M530 579h12M524 591h6M518 597h6M512 609h6M506 615h6M500 621h6M494 627h6M488 633h12M482 639h12M476 645h12M470 651h12M464 657h12M458 663h6M452 669h6M446 675h6M428 681h18M416 687h18M398 693h24M380 699h24M314 705h78M242 711h72M332 711h24M236 717h6M494 717h18M230 723h6M470 723h18M512 723h6M224 729h6M452 729h18M518 729h6M224 735h6M428 735h18M218 741h6M380 741h36M524 741h6M218 747h6M368 747h24M218 753h6M350 753h18M530 753h6M140 759h6M338 759h18M536 759h6M140 765h6M326 765h12M140 771h6M314 771h12M140 777h6M302 777h12M140 783h6M290 783h12M104 789h18M140 789h6M218 789h6M278 789h12M104 795h18M140 795h6M218 795h6M272 795h12M104 801h18M140 801h6M218 801h12M260 801h12M104 807h18M140 807h6M224 807h12M248 807h12M104 813h18M140 813h6M230 813h24M104 819h18M140 819h6M104 825h18M140 825h6M104 831h18M140 831h6M104 837h18M140 837h6M104 843h18M140 843h6M104 849h18M140 849h6M104 855h18M140 855h6M104 861h18M140 861h6M104 867h18M140 867h6M104 873h12M140 873h6M104 879h6"/>
<path stroke="#282828" d="M686 243h6M686 249h6M686 255h6M686 261h6M680 297h6M674 333h6M752 501h6M734 519h6M578 567h6M542 579h6M530 585h6M524 597h6M518 603h6M512 615h6M506 621h6M500 627h12M500 633h6M494 639h6M488 645h6M482 651h6M476 657h6M464 663h12M458 669h12M452 675h12M446 681h12M434 687h12M422 693h18M404 699h24M392 705h24M314 711h18M356 711h42M494 711h18M242 717h144M470 717h24M512 717h6M236 723h6M350 723h24M452 723h18M518 723h6M230 729h6M392 729h24M434 729h18M230 735h6M374 735h54M524 735h6M224 741h6M362 741h18M224 747h6M350 747h18M530 747h6M338 753h12M218 759h6M326 759h12M218 765h6M314 765h12M542 765h6M218 771h6M302 771h12M542 771h6M218 777h6M290 777h12M542 777h6M218 783h6M278 783h12M224 789h6M266 789h12M224 795h12M260 795h12M230 801h30M236 807h12"/>
<path stroke="#2a2a2a" d="M668 363h6M740 507h6M566 573h6M536 585h6M530 591h6M530 597h6M524 603h6M518 609h6M518 615h6M512 621h6M506 633h6M500 639h12M494 645h12M488 651h12M482 657h12M476 663h12M470 669h12M464 675h6M458 681h6M446 687h12M440 693h12M428 699h18M416 705h24M488 705h24M398 711h36M470 711h24M512 711h6M386 717h48M458 717h12M242 723h108M374 723h60M440 723h12M236 729h12M296 729h96M416 729h18M524 729h6M236 735h6M326 735h48M230 741h6M326 741h36M530 741h6M230 747h6M320 747h30M224 753h6M314 753h24M536 753h6M224 759h6M308 759h18M542 759h6M224 765h6M296 765h18M224 771h6M284 771h18M224 777h6M272 777h18M224 783h12M266 783h12M230 789h12M254 789h12M236 795h24"/>
<path stroke="#2c2c2c" d="M650 441h6M722 519h6M548 579h6M542 585h6M536 591h6M530 603h6M524 609h6M518 621h6M512 627h6M512 633h6M506 645h6M500 651h12M494 657h12M488 663h12M482 669h12M470 675h12M464 681h18M458 687h18M452 693h24M506 693h6M446 699h24M488 699h24M440 705h24M476 705h12M512 705h6M434 711h36M434 717h24M518 717h6M434 723h6M524 723h6M248 729h48M242 735h6M278 735h48M530 735h6M236 741h6M278 741h48M284 747h36M536 747h6M230 753h6M290 753h24M542 753h6M230 759h6M278 759h30M548 759h6M230 765h6M272 765h24M548 765h6M230 771h12M260 771h24M548 771h6M230 777h12M254 777h18M236 783h30M242 789h12"/>
<path stroke="#2e2e2e" d="M608 543h6M554 579h6M542 591h6M536 597h6M530 609h6M524 615h6M518 627h6M512 639h6M512 645h6M506 657h6M500 663h12M494 669h18M482 675h30M482 681h30M476 687h36M476 693h30M470 699h18M512 699h6M464 705h12M518 711h6M524 717h6M530 729h6M248 735h30M242 741h36M536 741h6M236 747h6M260 747h24M542 747h6M236 753h6M254 753h36M236 759h6M254 759h24M236 765h36M242 771h18M242 777h12"/>
<path stroke="#303030" d="M548 585h6M548 591h6M542 597h6M536 603h6M530 615h6M524 621h6M524 627h6M518 633h6M518 639h6M512 651h6M512 693h6M518 705h6M524 711h6M530 723h6M536 735h6M542 741h6M242 747h18M242 753h12M548 753h6M242 759h12M554 759h6M554 765h6M554 771h6"/>
<path stroke="#323232" d="M716 525h6M572 573h6M560 579h6M554 585h6M548 597h6M542 603h6M536 609h6M530 621h6M524 633h6M518 645h6M512 657h6M512 663h6M512 669h6M512 675h6M512 681h6M512 687h6M518 693h6M518 699h6M530 717h6M536 729h6M542 735h6M548 747h6M554 753h6"/>
<path stroke="#343434" d="M728 513h6M722 525h6M566 579h6M560 585h6M554 591h6M542 609h6M536 615h6M530 627h6M524 639h6M518 651h6M518 657h6M518 687h6M524 699h6M524 705h6M530 711h6M536 723h6M542 729h6M548 741h6M554 747h6M560 753h6M560 759h6M560 765h6"/>
<path stroke="#363636" d="M602 549h6M566 585h6M560 591h6M554 597h6M548 603h6M542 615h6M536 621h6M530 633h6M524 645h6M518 663h6M518 669h6M518 675h6M518 681h6M524 693h6M530 705h6M536 717h6M548 735h6"/>
<path stroke="#383838" d="M572 579h6M560 597h6M554 603h6M548 609h6M542 621h6M536 627h6M530 639h6M524 651h6M524 657h6M524 663h6M524 669h6M524 681h6M524 687h6M530 699h6M536 711h6M542 723h6M548 729h6M554 741h6M560 747h6M566 753h6M566 759h6M566 765h6"/>
<path stroke="#3a3a3a" d="M656 417h6M596 555h6M572 585h6M566 591h6M554 609h6M548 615h6M536 633h6M530 645h6M524 675h6M530 687h6M530 693h6M536 705h6M542 717h6M548 723h6M554 735h6M560 741h6M566 747h6"/>
<path stroke="#3c3c3c" d="M584 567h6M578 573h6M566 597h6M560 603h6M548 621h6M542 627h6M536 639h6M530 651h6M530 657h6M530 663h6M530 669h6M530 675h6M530 681h6M536 699h6M542 705h6M542 711h6M548 717h6M554 729h6M560 735h6M566 741h6M572 747h6M572 753h6M572 759h6"/>
<path stroke="#3e3e3e" d="M782 483h6M764 507h6M752 513h6M740 519h6M710 525h6M590 561h6M578 579h6M572 591h6M560 609h6M554 615h6M548 627h6M542 633h6M536 645h6M536 651h6M536 681h6M536 687h6M536 693h6M542 699h6M548 711h6M554 723h6"/>
<path stroke="#404040" d="M770 489h6M758 495h6M776 501h6M614 537h6M578 585h6M572 597h6M566 603h6M554 621h6M542 639h6M536 657h6M536 663h6M536 669h6M536 675h6M542 693h6M548 705h6M554 717h6M560 729h6M566 735h6M572 741h6M578 747h6M578 753h6M578 759h6"/>
<path stroke="#424242" d="M746 501h6M716 519h6M584 573h6M566 609h6M560 615h6M554 627h6M548 633h6M542 645h6M542 651h6M542 657h6M542 675h6M542 681h6M542 687h6M548 699h6M554 711h6M560 723h6M566 729h6M572 735h6M578 741h6"/>
<path stroke="#444444" d="M728 525h6M710 531h6M584 579h6M578 591h6M572 603h6M560 621h6M548 639h6M548 645h6M542 663h6M542 669h6M548 693h6M554 705h6M560 717h6M584 741h6M584 747h6M584 753h6"/>
<path stroke="#464646" d="M704 531h6M590 567h6M584 585h6M578 597h6M572 609h6M566 615h6M554 633h6M548 651h6M548 657h6M548 669h6M548 675h6M548 681h6M548 687h6M554 699h6M560 711h6M566 723h6M572 729h6M578 735h6"/>
<path stroke="#484848" d="M776 153h12M764 159h24M764 165h24M764 171h24M770 177h12M734 507h6M590 573h6M566 621h6M560 627h6M554 639h6M554 645h6M548 663h6M554 687h6M554 693h6M560 705h6M566 717h6M572 723h6M578 729h6M584 735h6M590 741h6M590 747h6M590 753h6"/>
<path stroke="#4a4a4a" d="M752 165h12M752 171h12M752 177h18M782 177h6M758 183h30M758 189h30M764 195h24M770 201h6M596 561h6M590 579h6M584 591h6M578 603h6M572 615h6M560 633h6M554 651h6M554 657h6M554 663h6M554 669h6M554 675h6M554 681h6M560 693h6M560 699h6M566 711h6M590 735h6"/>
<path stroke="#4c4c4c" d="M746 171h6M746 177h6M746 183h12M746 189h12M746 195h18M752 201h18M776 201h12M752 207h36M758 213h30M764 219h24M770 225h6M602 555h6M596 567h6M590 585h6M584 597h6M578 609h6M572 621h6M566 627h6M560 639h6M560 645h6M560 687h6M566 705h6M572 717h6M578 723h6M584 729h6M596 741h6M596 747h6"/>
<path stroke="#4e4e4e" d="M740 171h6M734 177h12M734 183h12M734 189h12M734 195h12M740 201h12M740 207h12M740 213h18M746 219h18M746 225h24M776 225h12M752 231h36M758 237h30M764 243h18M686 267h6M716 531h6M596 573h6M584 603h6M566 633h6M566 639h6M560 651h6M560 657h6M560 663h6M560 669h6M560 675h6M560 681h6M566 693h6M566 699h6M572 711h6M578 717h6M584 723h6M590 729h6M596 735h6"/>
<path stroke="#505050" d="M728 177h6M722 183h12M722 189h12M722 195h12M722 201h18M728 207h12M728 213h12M728 219h18M728 225h18M734 231h18M734 237h24M740 243h24M782 243h6M746 249h42M752 255h36M758 261h30M764 267h18M680 303h6M644 465h6M722 513h6M626 519h6M608 549h6M602 561h6M596 579h6M590 591h6M578 615h6M572 627h6M566 645h6M566 651h6M566 681h6M566 687h6M572 705h6M578 711h6M596 729h6"/>
<path stroke="#525252" d="M716 183h6M716 189h6M716 195h6M716 201h6M716 207h12M716 213h12M716 219h12M716 225h12M716 231h18M716 237h18M716 243h24M722 249h24M728 255h24M734 261h24M740 267h24M782 267h6M746 273h42M752 279h36M758 285h30M764 291h12M632 507h6M620 531h6M698 531h6M614 543h6M608 555h6M602 567h6M596 585h6M590 597h6M584 609h6M578 621h6M572 633h6M572 639h6M566 657h6M566 663h6M566 669h6M566 675h6M572 693h6M572 699h6M578 705h6M584 717h6M590 723h6M602 735h6M602 741h6M602 747h6"/>
<path stroke="#545454" d="M704 189h12M692 195h24M692 201h24M692 207h24M692 213h24M692 219h24M692 225h24M692 231h24M692 237h24M692 243h24M692 249h30M692 255h36M692 261h6M710 261h24M716 267h24M722 273h24M728 279h24M734 285h24M740 291h24M776 291h12M746 297h42M752 303h36M764 309h18M704 525h6M602 573h6M596 591h6M590 603h6M584 615h6M578 627h6M572 645h6M572 651h6M572 681h6M572 687h6M578 699h6M584 711h6M590 717h6M596 723h6M602 729h6"/>
<path stroke="#565656" d="M698 261h12M692 267h24M686 273h36M686 279h42M686 285h12M710 285h24M686 291h6M716 291h24M722 297h24M734 303h18M740 309h24M782 309h6M746 315h42M752 321h30M674 339h6M662 393h6M776 483h6M626 525h6M620 537h6M698 537h6M614 549h6M608 561h6M602 579h6M590 609h6M578 633h6M578 639h6M572 657h6M572 663h6M572 669h6M572 675h6M578 687h6M578 693h6M584 705h6M590 711h6M596 717h6M602 723h6M608 729h6M608 735h6M608 741h6"/>
<path stroke="#585858" d="M698 285h12M692 291h24M686 297h36M686 303h18M710 303h24M680 309h18M716 309h24M680 315h12M722 315h24M680 321h6M728 321h24M782 321h6M680 327h6M734 327h54M746 333h36M764 489h6M758 513h6M746 519h6M626 531h6M620 543h6M614 555h6M608 567h6M602 585h6M596 597h6M584 621h6M584 627h6M578 645h6M578 651h6M578 657h6M578 663h6M578 675h6M578 681h6M584 699h6M590 705h6M608 723h6"/>
<path stroke="#5a5a5a" d="M704 303h6M698 309h18M692 315h30M686 321h42M686 327h18M710 327h24M680 333h18M716 333h30M782 333h6M680 339h12M722 339h66M674 345h12M746 345h36M674 351h6M674 357h6M638 489h6M752 495h6M782 501h6M770 507h6M632 513h6M632 519h6M632 525h6M734 525h6M692 537h6M704 537h6M608 573h6M602 591h6M596 603h6M590 615h6M584 633h6M584 639h6M578 669h6M584 687h6M584 693h6M590 699h6M596 711h6M602 717h6M614 729h6M614 735h6M614 741h6"/>
<path stroke="#5c5c5c" d="M704 327h6M698 333h18M692 339h30M686 345h60M782 345h6M680 351h18M722 351h66M680 357h12M752 357h24M674 363h12M668 369h12M668 375h6M740 501h6M710 519h6M626 537h6M620 549h6M614 561h6M608 579h6M602 597h6M596 609h6M590 621h6M590 627h6M584 645h6M584 651h6M584 657h6M584 663h6M584 669h6M584 675h6M584 681h6M596 705h6M602 711h6M608 717h6M614 723h6"/>
<path stroke="#5e5e5e" d="M698 351h24M692 357h60M776 357h12M686 363h12M728 363h54M680 369h12M758 369h12M674 375h12M668 381h18M668 387h12M668 393h6M662 399h6M638 495h6M638 501h6M638 507h6M638 513h6M638 519h6M638 525h6M632 531h6M722 531h6M626 543h6M614 567h6M608 585h6M602 603h6M596 615h6M590 633h6M590 639h6M590 687h6M590 693h6M596 699h6M614 717h6M620 723h6M620 729h6M620 735h6"/>
<path stroke="#606060" d="M698 363h30M782 363h6M692 369h66M770 369h12M686 375h12M734 375h42M686 381h6M680 387h12M674 393h12M668 399h12M662 405h12M662 411h12M662 417h6M656 423h12M656 429h6M656 435h6M656 441h6M650 447h6M650 453h6M650 459h6M650 465h6M644 471h12M644 477h12M644 483h6M644 489h6M644 495h6M644 501h6M644 507h6M728 507h6M644 513h6M644 519h6M620 555h6M614 573h6M614 579h6M608 591h6M602 609h6M596 621h6M596 627h6M590 645h6M590 651h6M590 657h6M590 663h6M590 669h6M590 675h6M590 681h6M596 693h6M602 705h6M608 711h6"/>
<path stroke="#626262" d="M782 369h6M698 375h36M776 375h12M692 381h12M710 381h66M692 387h6M686 393h6M680 399h12M674 405h12M674 411h6M668 417h12M668 423h6M662 429h12M662 435h6M662 441h6M656 447h12M656 453h12M656 459h6M656 465h6M656 471h6M656 477h6M650 483h6M650 489h6M650 495h6M650 501h6M650 507h6M650 513h6M692 531h6M632 537h6M626 549h6M620 561h6M620 567h6M614 585h6M608 597h6M602 615h6M596 633h6M596 639h6M596 681h6M596 687h6M602 699h6M608 705h6M614 711h6M620 717h6M626 723h6M626 729h6M626 735h6"/>
<path stroke="#646464" d="M704 381h6M776 381h12M698 387h84M692 393h12M710 393h48M692 399h6M686 405h6M680 411h12M680 417h6M674 423h12M674 429h6M668 435h12M668 441h6M668 447h6M668 453h6M662 459h6M662 465h6M662 471h6M662 477h6M656 483h6M656 489h6M656 495h6M656 501h6M656 507h6M656 513h6M650 519h6M644 525h6M638 531h6M686 537h6M686 543h6M620 573h6M614 591h6M608 603h6M602 621h6M602 627h6M596 645h6M596 651h6M596 657h6M596 663h6M596 669h6M596 675h6M602 693h6M608 699h6M620 711h6M626 717h6"/>
<path stroke="#666666" d="M782 387h6M704 393h6M758 393h24M698 399h72M692 405h12M692 411h6M686 417h12M686 423h6M680 429h12M680 435h6M674 441h12M674 447h6M674 453h6M668 459h12M668 465h6M668 471h6M668 477h6M782 477h6M662 483h6M662 489h6M662 495h6M662 501h6M662 507h6M716 513h6M698 525h6M710 537h6M632 543h6M692 543h6M626 555h6M626 561h6M620 579h6M614 597h6M608 609h6M608 615h6M602 633h6M602 639h6M602 681h6M602 687h6M608 693h6M614 705h6M632 717h6M632 723h6M632 729h6"/>
<path stroke="#686868" d="M782 393h6M770 399h18M704 405h72M698 411h54M698 417h6M692 423h6M692 429h6M686 435h6M686 441h6M680 447h6M680 453h6M680 459h6M674 465h6M674 471h6M674 477h6M668 483h6M770 483h6M668 489h6M758 489h6M668 495h6M668 501h6M662 513h6M656 519h6M650 525h6M644 531h6M638 537h6M626 567h6M620 585h6M614 603h6M608 621h6M608 627h6M602 645h6M602 651h6M602 657h6M602 663h6M602 669h6M602 675h6M608 687h6M614 699h6M620 705h6M626 711h6"/>
<path stroke="#6a6a6a" d="M776 405h12M752 411h30M704 417h60M698 423h36M698 429h6M692 435h6M692 441h6M686 447h6M686 453h6M686 459h6M680 465h6M680 471h6M674 483h6M674 489h6M674 495h6M746 495h6M668 507h6M680 543h6M632 549h6M626 573h6M620 591h6M620 597h6M614 609h6M614 615h6M608 633h6M608 639h6M608 681h6M614 693h6M620 699h6M626 705h6M632 711h6M638 717h6M638 723h6M638 729h6"/>
<path stroke="#6c6c6c" d="M782 411h6M764 417h24M734 423h48M704 429h54M698 435h18M698 441h6M692 447h6M692 453h6M686 465h6M686 471h6M680 477h6M680 483h6M680 489h6M674 501h6M734 501h6M674 507h6M668 513h6M764 513h6M662 519h6M752 519h6M656 525h6M650 531h6M644 537h6M638 543h6M632 555h6M632 561h6M626 579h6M626 585h6M620 603h6M614 621h6M614 627h6M608 645h6M608 651h6M608 657h6M608 663h6M608 669h6M608 675h6M614 687h6M638 711h12M644 717h6M644 723h6"/>
<path stroke="#6e6e6e" d="M782 423h6M758 429h30M716 435h60M704 441h48M698 447h18M698 453h6M692 459h6M692 465h6M692 471h6M686 477h6M686 483h6M686 489h6M680 495h6M680 501h6M776 507h6M704 519h6M662 525h6M740 525h6M656 531h6M686 531h6M728 531h6M650 537h6M680 537h6M698 543h6M638 549h6M632 567h6M632 573h6M626 591h6M620 609h6M620 615h6M614 633h6M614 639h6M614 681h6M620 693h6M626 699h6M632 705h6M650 711h6M650 717h6M650 723h6"/>
<path stroke="#707070" d="M776 435h12M752 441h36M716 447h60M704 453h48M698 459h12M698 465h6M692 477h6M776 477h6M692 483h6M764 483h6M686 495h6M680 507h6M722 507h6M674 513h6M668 519h6M644 543h6M674 543h6M644 549h6M674 549h12M638 555h6M638 561h6M632 579h6M626 597h6M626 603h6M620 621h6M620 627h6M614 645h6M614 651h6M614 657h6M614 663h6M614 669h6M614 675h6M620 687h6M626 693h6M632 699h6M638 705h24M656 711h6M656 717h6"/>
<path stroke="#727272" d="M776 447h12M752 453h36M710 459h66M704 465h42M698 471h6M698 477h6M692 489h6M752 489h6M692 495h6M686 501h6M674 519h6M668 525h6M692 525h6M662 531h6M656 537h6M716 537h6M650 543h6M650 549h6M686 549h6M644 555h6M644 561h6M638 567h6M638 573h6M632 585h6M632 591h6M626 609h6M626 615h6M620 633h6M620 639h6M620 681h6M626 687h6M638 699h6M662 705h6M662 711h6"/>
<path stroke="#747474" d="M776 459h12M746 465h42M704 471h84M704 477h30M770 477h6M698 483h6M698 489h6M740 495h6M692 501h6M686 507h6M680 513h6M710 513h6M680 531h6M662 537h6M674 537h6M656 543h18M656 549h6M668 549h6M650 555h6M650 561h6M644 567h6M644 573h6M638 579h6M632 597h6M632 603h6M626 621h6M626 627h6M620 645h6M620 651h6M620 657h6M620 663h6M620 669h6M620 675h6M626 681h6M632 693h6M644 699h30M668 705h6M668 711h6"/>
<path stroke="#767676" d="M734 477h36M704 483h36M752 483h12M704 489h12M746 489h6M698 495h6M728 501h6M686 513h6M680 519h6M674 525h6M668 531h12M668 537h6M704 543h6M662 549h6M656 555h24M656 561h6M650 567h6M650 573h6M644 579h6M638 585h6M638 591h6M632 609h6M632 615h6M626 633h6M626 639h6M776 645h12M764 651h24M764 657h18M764 663h6M626 675h6M632 687h6M638 693h12M674 699h6M674 705h6"/>
<path stroke="#787878" d="M740 483h12M716 489h30M704 495h12M734 495h6M698 501h6M692 507h6M716 507h6M686 519h6M698 519h6M680 525h12M692 549h6M662 561h6M656 567h6M650 579h6M644 585h6M644 591h6M638 597h6M638 603h6M632 621h6M632 627h6M782 639h6M626 645h6M770 645h6M626 651h6M626 657h6M752 657h12M626 663h6M752 663h12M626 669h6M752 669h6M632 681h6M638 687h6M650 693h36M680 699h6M680 705h6"/>
<path stroke="#7a7a7a" d="M716 495h18M704 501h24M698 507h6M782 507h6M692 513h6M770 513h6M692 519h6M758 519h6M746 525h6M734 531h6M680 555h6M668 561h6M662 567h6M656 573h6M656 579h6M650 585h6M644 597h6M638 609h6M632 633h6M632 639h6M758 651h6M740 663h12M734 669h18M632 675h6M734 675h12M638 681h6M644 687h6M686 693h6M686 699h6"/>
<path stroke="#7c7c7c" d="M704 507h12M698 513h12M722 537h6M674 561h6M668 567h6M662 573h6M656 585h6M650 591h6M644 603h6M638 615h6M638 621h6M776 639h6M632 645h6M764 645h6M632 651h6M632 657h6M746 657h6M632 663h6M632 669h6M728 669h6M638 675h6M722 675h12M722 681h12M650 687h12M680 687h18M692 693h6M692 699h6"/>
<path stroke="#7e7e7e" d="M710 543h6M698 549h6M686 555h6M680 561h6M674 567h6M668 573h6M662 579h6M650 597h6M644 609h6M638 627h6M638 633h6M782 633h6M770 639h6M752 651h6M734 663h6M722 669h6M716 675h6M644 681h6M704 681h18M662 687h18M698 687h24M698 693h12"/>
<path stroke="#818181" d="M776 513h6M764 519h6M668 579h6M662 585h6M656 591h6M650 603h6M644 615h6M638 639h6M638 645h6M758 645h6M638 651h6M638 657h6M740 657h6M638 663h6M638 669h6M644 675h6M710 675h6M650 681h12M698 681h6"/>
<path stroke="#838383" d="M752 525h6M740 531h6M728 537h6M716 543h6M692 555h6M686 561h6M680 567h6M674 573h6M656 597h6M650 609h6M644 621h6M644 627h6M776 633h6M764 639h6M746 651h6M728 663h6M644 669h6M716 669h6M650 675h6M662 681h36"/>
<path stroke="#858585" d="M782 513h6M770 519h6M758 525h6M704 549h6M686 567h6M680 573h6M674 579h6M668 585h6M662 591h6M650 615h6M644 633h6M644 639h6M644 645h6M752 645h6M644 651h6M644 657h6M734 657h6M644 663h6M656 675h6M704 675h6"/>
<path stroke="#878787" d="M746 531h6M734 537h6M722 543h6M710 549h6M698 555h6M692 561h6M656 603h6M650 621h6M782 627h6M770 633h6M758 639h6M740 651h6M722 663h6M650 669h6M662 675h12M698 675h6"/>
<path stroke="#898989" d="M776 519h6M764 525h6M752 531h6M740 537h6M728 543h6M716 549h6M704 555h6M698 561h6M692 567h6M668 591h6M662 597h6M656 609h6M650 627h6M776 627h6M650 633h6M746 645h6M728 657h6M650 663h6M656 669h6M710 669h6M674 675h24"/>
<path stroke="#8b8b8b" d="M782 519h6M770 525h6M758 531h6M746 537h6M734 543h6M722 549h6M710 555h6M686 573h6M680 579h6M674 585h6M662 603h6M656 615h6M764 633h6M650 639h6M752 639h6M650 645h6M650 651h6M734 651h6M650 657h6M656 663h6M716 663h6M662 669h12"/>
<path stroke="#8d8d8d" d="M776 525h6M764 531h6M752 537h6M740 543h6M728 549h6M716 555h6M704 561h6M668 597h6M656 621h6M782 621h6M656 627h6M770 627h6M740 645h6M722 657h6M674 669h12M698 669h12"/>
<path stroke="#8f8f8f" d="M698 567h6M692 573h6M686 579h6M680 585h6M674 591h6M662 609h6M662 615h6M776 621h6M656 633h6M758 633h6M656 639h6M746 639h6M656 645h6M656 651h6M728 651h6M656 657h6M662 663h6M710 663h6M686 669h12"/>
<path stroke="#919191" d="M782 525h6M770 531h6M758 537h6M746 543h6M734 549h6M722 555h6M710 561h6M668 603h6M662 621h6M764 627h6M734 645h6M662 657h6M716 657h6M668 663h12"/>
<path stroke="#939393" d="M716 561h6M704 567h6M674 597h6M668 609h6M782 615h6M770 621h6M662 627h6M662 633h6M752 633h6M662 639h6M740 639h6M662 645h6M662 651h6M722 651h6M680 663h12M698 663h12"/>
<path stroke="#959595" d="M776 531h6M764 537h6M752 543h6M740 549h6M728 555h6M698 573h6M686 585h6M680 591h6M668 615h6M758 627h6M728 645h6M668 657h6M710 657h6M692 663h6"/>
<path stroke="#979797" d="M734 555h6M722 561h6M710 567h6M692 579h6M674 603h6M668 621h6M746 633h6M716 651h6M674 657h12"/>
<path stroke="#999999" d="M782 531h6M770 537h6M758 543h6M746 549h6M674 609h6M776 615h6M764 621h6M668 627h6M752 627h6M668 633h6M668 639h6M734 639h6M668 645h6M722 645h6M668 651h6M686 657h12M704 657h6"/>
<path stroke="#9b9b9b" d="M752 549h6M740 555h6M728 561h6M716 567h6M704 573h6M686 591h6M680 597h6M674 615h6M740 633h6M674 651h6M710 651h6M698 657h6"/>
<path stroke="#9d9d9d" d="M776 537h6M764 543h6M698 579h6M692 585h6M680 603h6M782 609h6M770 615h6M674 621h6M758 621h6M674 627h6M674 633h6M674 639h6M728 639h6M674 645h6M716 645h6M680 651h6"/>
<path stroke="#9f9f9f" d="M782 537h6M770 543h6M758 549h6M746 555h6M734 561h6M722 567h6M710 573h6M686 597h6M680 609h6M680 615h6M746 627h6M734 633h6M686 651h12M704 651h6"/>
<path stroke="#a1a1a1" d="M686 603h6M776 609h6M764 615h6M680 621h6M752 621h6M680 627h6M680 633h6M680 639h6M722 639h6M680 645h6M710 645h6M698 651h6"/>
<path stroke="#a3a3a3" d="M776 543h6M764 549h6M752 555h6M740 561h6M728 567h6M716 573h6M704 579h6M698 585h6M692 591h6M686 609h6M740 627h6M728 633h6M686 645h6"/>
<path stroke="#a5a5a5" d="M692 597h6M782 603h6M770 609h6M686 615h6M758 615h6M716 639h6M692 645h6M704 645h6"/>
<path stroke="#a7a7a7" d="M782 543h6M770 549h6M758 555h6M746 561h6M734 567h6M722 573h6M710 579h6M692 603h6M686 621h6M746 621h6M686 627h6M734 627h6M686 633h6M722 633h6M686 639h6M698 645h6"/>
<path stroke="#a9a9a9" d="M698 591h6M776 603h6M692 609h6M764 609h6M752 615h6M710 639h6"/>
<path stroke="#ababab" d="M776 549h12M764 555h12M752 561h12M740 567h12M728 573h12M716 579h12M704 585h12M698 597h6M692 615h6M692 621h6M740 621h6M692 627h6M728 627h6M692 633h6M716 633h6M692 639h6"/>
<path stroke="#adadad" d="M776 555h12M764 561h12M752 567h12M740 573h12M728 579h12M716 585h12M704 591h12M782 597h6M698 603h6M770 603h6M758 609h6M698 639h12"/>
<path stroke="#afafaf" d="M776 561h12M764 567h12M752 573h12M740 579h12M728 585h12M716 591h12M704 597h12M698 609h6M698 615h6M746 615h6M698 621h6M734 621h6M698 627h6M722 627h6M698 633h6M710 633h6"/>
<path stroke="#b1b1b1" d="M776 567h6M764 573h12M752 579h12M740 585h12M728 591h12M716 597h12M776 597h6M704 603h12M764 603h6M752 609h6"/>
<path stroke="#b3b3b3" d="M782 567h6M776 573h12M764 579h24M752 585h36M740 591h48M728 597h48M716 603h48M704 609h48M704 615h42M704 621h30M704 627h18M704 633h6"/>
</g>
<g filter="url(#hsc)">
<path fill="#000000" d="M144.4 964.4L149.2 961.9L149.2 966.8L144.4 969.2ZM160.7 956.4L168.9 952.2L168.9 956.8L160.7 960.9ZM168.9 952L182.9 944.8L182.9 949.6L168.9 956.8ZM182.9 944.6L197.1 937.4L197.1 942.4L182.9 949.6ZM197.1 937.4L211.6 930.1L211.6 935L197.1 942.4ZM211.6 930.1L225.6 923L225.6 927.9L211.6 935ZM244.1 913.1L253.3 908.4L253.3 913.7L244.1 918.4ZM253.3 908.8L265.8 902.4L265.8 907.4L253.3 913.7ZM272.8 899L284.1 893.3L284.1 898.1L272.8 903.8ZM335.1 867.5L346.6 861.6L346.6 866.2L335.1 872ZM346.6 860.6L357.2 855.3L357.2 860.8L346.6 866.2ZM380.8 844L386.2 841.2L386.2 846L380.8 848.8ZM398.4 835.3L406.1 831.3L406.1 835.9L398.4 839.8ZM448 809.1L462.3 801.8L462.3 807.2L448 814.5ZM469.4 798.6L481.3 792.5L481.3 797.6L469.4 803.6ZM481.3 792.3L486 789.8L486 795.2L481.3 797.6ZM508.7 778.4L513.3 776L513.3 781.3L508.7 783.6ZM543.2 760.5L547.5 758.3L547.5 763.8L543.2 766ZM575.9 744L582.1 740.8L582.1 746.2L575.9 749.4ZM595.4 734.9L608.3 728.4L608.3 732.9L595.4 739.4ZM631.6 715.8L637.1 713L637.1 718.2L631.6 721ZM658.1 702L672.3 694.8L672.3 700.3L658.1 707.5ZM699.7 681.7L707.7 677.7L707.7 682.2L699.7 686.3ZM707.7 677.5L717.4 672.5L717.4 677.2L707.7 682.2ZM729.5 666.5L737.4 662.5L737.4 667.1L729.5 671.1ZM759.6 650L766.7 646.5L766.7 652.2L759.6 655.8Z"/>
<path fill="#080808" d="M129.7 971.9L144.4 964.4L144.4 969.2L129.7 976.7ZM237.8 917L244.1 913.8L244.1 918.4L237.8 921.6ZM265.8 902.7L272.8 899.2L272.8 903.8L265.8 907.4ZM284.1 892.6L296 886.5L296 892L284.1 898.1ZM302 883.9L310.6 879.5L310.6 884.5L302 888.9ZM310.6 880.4L320.4 875.5L320.4 879.6L310.6 884.5ZM386.2 841.7L398.4 835.5L398.4 839.8L386.2 846ZM406.1 831.1L412 828.1L412 832.9L406.1 835.9ZM424.5 821.2L434.2 816.3L434.2 821.5L424.5 826.5ZM462.3 801.9L469.4 798.4L469.4 803.6L462.3 807.2ZM486 790L494.7 785.5L494.7 790.7L486 795.2ZM507.8 779.3L508.7 778.8L508.7 783.6L507.8 784.1Z"/>
<path fill="#111111" d="M621.8 721L631.6 716.1L631.6 721L621.8 726ZM672.3 694.6L685.8 687.7L685.8 693.4L672.3 700.3ZM695.4 684.1L699.7 681.9L699.7 686.3L695.4 688.5ZM766.7 647L770.5 645L770.5 650.2L766.7 652.2Z"/>
<path fill="#151515" d="M225.6 923.1L237.8 916.8L237.8 921.6L225.6 927.9ZM325.4 871.5L335.1 866.5L335.1 872L325.4 877ZM434.2 816.2L448 809.2L448 814.5L434.2 821.5Z"/>
<path fill="#333333" d="M537.3 763.4L543.2 760.4L543.2 766L537.3 769ZM737.4 662.6L751.6 655.5L751.6 659.9L737.4 667.1Z"/>
<path fill="#bfbfbf" d="M526.4 769.3L531.8 766.5L531.8 771.8L526.4 774.6ZM531.8 766.7L537.3 763.9L537.3 769L531.8 771.8ZM547.5 759.3L562.3 751.8L562.3 756.3L547.5 763.8ZM582.1 740.9L595.4 734.1L595.4 739.4L582.1 746.2ZM608.3 727.3L612.6 725.1L612.6 730.6L608.3 732.9ZM612.6 725.8L617.1 723.5L617.1 728.4L612.6 730.6ZM617.1 724.1L621.8 721.7L621.8 726L617.1 728.4ZM651.4 705.3L658.1 701.9L658.1 707.5L651.4 710.9ZM685.8 688.7L690.1 686.5L690.1 691.2L685.8 693.4ZM717.4 672.7L729.5 666.5L729.5 671.1L717.4 677.2ZM751.6 654.9L759.6 650.8L759.6 655.8L751.6 659.9Z"/>
</g>
</g>
<polygon fill="#1b4c9f" points="111,558.5 111,657.9 175,666 225,676 275,686 325,701 370,713.5 410,731 440,751 475,781 500,801 525,826 550,846 565,852.5 585,857 612.5,851 632.5,833.5 640,811 651,776 662.5,736 673,691 681.5,651 688,611 691,558.5"/>
<path d="M246.9 1040.8v-6.5M377.8 1040.8v-6.5M508.7 1040.8v-6.5M639.6 1040.8v-6.5M770.5 1040.8v-6.5" stroke="#262626" stroke-width="1" opacity=".7" fill="none"/>
</g>
<path d="M116.65 563.5V1040.8" fill="none" stroke="#0a0a14" stroke-width="1.3" opacity=".75"/>
<path d="M116 1040.5H770.5" fill="none" stroke="#3c3c3c" stroke-width="1.1" opacity=".3"/>
<path d="M770.2 563.5V1040.8" fill="none" stroke="#3c3c3c" stroke-width="1.1" opacity=".12"/>
<text transform="translate(106.2 1052.1) scale(1 1.075)" font-family="'Liberation Sans',Arial,Helvetica,sans-serif" font-size="30.9" fill="#25282b" text-anchor="end">0</text>
<text transform="translate(106.2 1004.37) scale(1 1.075)" font-family="'Liberation Sans',Arial,Helvetica,sans-serif" font-size="30.9" fill="#25282b" text-anchor="end">2</text>
<text transform="translate(106.2 956.64) scale(1 1.075)" font-family="'Liberation Sans',Arial,Helvetica,sans-serif" font-size="30.9" fill="#25282b" text-anchor="end">4</text>
<text transform="translate(106.2 908.91) scale(1 1.075)" font-family="'Liberation Sans',Arial,Helvetica,sans-serif" font-size="30.9" fill="#25282b" text-anchor="end">6</text>
<text transform="translate(106.2 861.18) scale(1 1.075)" font-family="'Liberation Sans',Arial,Helvetica,sans-serif" font-size="30.9" fill="#25282b" text-anchor="end">8</text>
<text transform="translate(106.2 813.45) scale(1 1.075)" font-family="'Liberation Sans',Arial,Helvetica,sans-serif" font-size="30.9" fill="#25282b" text-anchor="end">10</text>
<text transform="translate(106.2 765.72) scale(1 1.075)" font-family="'Liberation Sans',Arial,Helvetica,sans-serif" font-size="30.9" fill="#25282b" text-anchor="end">12</text>
<text transform="translate(106.2 717.99) scale(1 1.075)" font-family="'Liberation Sans',Arial,Helvetica,sans-serif" font-size="30.9" fill="#25282b" text-anchor="end">14</text>
<text transform="translate(106.2 670.26) scale(1 1.075)" font-family="'Liberation Sans',Arial,Helvetica,sans-serif" font-size="30.9" fill="#25282b" text-anchor="end">16</text>
<text transform="translate(106.2 622.53) scale(1 1.075)" font-family="'Liberation Sans',Arial,Helvetica,sans-serif" font-size="30.9" fill="#25282b" text-anchor="end">18</text>
<text transform="translate(106.2 574.8) scale(1 1.075)" font-family="'Liberation Sans',Arial,Helvetica,sans-serif" font-size="30.9" fill="#25282b" text-anchor="end">20</text>
<text transform="translate(116.1 1078.7) scale(1 1.075)" font-family="'Liberation Sans',Arial,Helvetica,sans-serif" font-size="30.9" fill="#25282b" text-anchor="middle">0</text>
<text transform="translate(247 1078.7) scale(1 1.075)" font-family="'Liberation Sans',Arial,Helvetica,sans-serif" font-size="30.9" fill="#25282b" text-anchor="middle">0.2</text>
<text transform="translate(377.9 1078.7) scale(1 1.075)" font-family="'Liberation Sans',Arial,Helvetica,sans-serif" font-size="30.9" fill="#25282b" text-anchor="middle">0.4</text>
<text transform="translate(508.8 1078.7) scale(1 1.075)" font-family="'Liberation Sans',Arial,Helvetica,sans-serif" font-size="30.9" fill="#25282b" text-anchor="middle">0.6</text>
<text transform="translate(639.7 1078.7) scale(1 1.075)" font-family="'Liberation Sans',Arial,Helvetica,sans-serif" font-size="30.9" fill="#25282b" text-anchor="middle">0.8</text>
<text transform="translate(770.6 1078.7) scale(1 1.075)" font-family="'Liberation Sans',Arial,Helvetica,sans-serif" font-size="30.9" fill="#25282b" text-anchor="middle">1</text>
<text transform="translate(132.8 601.6) scale(0.96 1.07)" font-family="'Liberation Sans',Arial,Helvetica,sans-serif" font-size="39" fill="#fff" font-weight="bold" stroke="#fff" stroke-width="0.5" stroke-linejoin="round">c)</text>
<text transform="translate(177.3 601.6)" font-family="'Liberation Serif','Times New Roman',serif" font-size="45" fill="#fff" font-weight="bold" font-style="italic" stroke="#fff" stroke-width="0.3" stroke-linejoin="round">w</text>
<text transform="translate(208.3 609.6)" font-family="'Liberation Serif','Times New Roman',serif" font-size="29" fill="#fff" font-weight="bold" font-style="italic" stroke="#fff" stroke-width="0.2" stroke-linejoin="round">PEO</text>
<text transform="translate(267.2 601.6) scale(1 1.07)" font-family="'Liberation Sans',Arial,Helvetica,sans-serif" font-size="39" fill="#fff" font-weight="bold" stroke="#fff" stroke-width="0.5" stroke-linejoin="round">= 0.05, pH 2.5</text>
<text transform="translate(427.3 708) scale(1 1.07)" font-family="'Liberation Sans',Arial,Helvetica,sans-serif" font-size="49" fill="#80a7d4" font-weight="bold" letter-spacing="-1.2" stroke="#80a7d4" stroke-width="0.4" stroke-linejoin="round">No data</text>
<g clip-path="url(#cpd)">
<g transform="skewY(27)">
<g filter="url(#hmd)" fill="none" stroke-width="6" shape-rendering="crispEdges">
<path stroke="#0c0c0c" d="M1483 261h6M1471 267h6M1459 273h6M1447 279h6M1435 285h6"/>
<path stroke="#0e0e0e" d="M1423 291h6M1411 297h6M1399 303h6M1387 309h6M1375 315h6"/>
<path stroke="#101010" d="M1363 321h6M1351 327h6M1339 333h6"/>
<path stroke="#121212" d="M865 225h6M859 231h12M859 237h12M859 243h12M1495 255h6M1369 321h6M1357 327h6M1345 333h6M1327 339h12M1321 345h6"/>
<path stroke="#141414" d="M1327 -129h6M1315 -123h18M1309 -117h24M1297 -111h36M1285 -105h48M1273 -99h60M1261 -93h72M1249 -87h84M1237 -81h96M1225 -75h108M1213 -69h120M1201 -63h132M1189 -57h138M1177 -51h150M1165 -45h162M1153 -39h174M1141 -33h180M1129 -27h192M1117 -21h204M1105 -15h210M1093 -9h222M1081 -3h234M1069 3h246M1057 9h252M1045 15h264M1033 21h276M1021 27h282M1009 33h294M997 39h306M991 45h306M979 51h318M967 57h330M955 63h336M943 69h348M931 75h360M919 81h366M907 87h378M895 93h390M883 99h396M871 105h408M859 111h420M847 117h426M841 123h432M841 129h426M841 135h426M841 141h420M841 147h420M841 153h420M841 159h414M841 165h408M841 171h408M841 177h402M841 183h402M841 189h396M841 195h390M841 201h384M841 207h378M841 213h372M841 219h360M841 225h24M871 225h324M841 231h18M871 231h312M841 237h18M871 237h300M841 243h18M871 243h288M841 249h306M841 255h294M1489 255h6M841 261h276M841 267h36M895 267h210M1477 267h6M841 273h30M907 273h186M1465 273h6M841 279h24M907 279h174M841 285h12M913 285h156M1441 285h6M919 291h132M1429 291h6M925 297h96M1417 297h6M925 303h72M1405 303h6M937 309h24M1393 309h6M1381 315h6M1315 345h6M1309 351h6"/>
<path stroke="#161616" d="M1333 -129h6M1333 -123h6M1333 -117h6M1333 -111h6M1333 -105h6M1333 -99h6M1333 -93h6M1333 -87h6M1327 -57h6M1327 -51h6M1321 -33h6M1315 -15h6M1315 -9h6M1309 9h6M1309 15h6M1303 27h6M1303 33h6M1297 45h6M1297 51h6M1291 63h6M1291 69h6M1285 81h6M1279 99h6M1273 117h6M1267 129h6M1261 141h6M1249 165h6M1243 177h6M1213 213h6M1201 219h6M1183 231h6M1171 237h6M1159 243h6M1519 243h6M1147 249h6M1507 249h6M1135 255h6M1117 261h12M1477 261h6M1489 261h6M877 267h18M1105 267h6M1465 267h6M871 273h36M1093 273h6M865 279h12M901 279h6M1081 279h6M1453 279h6M853 285h18M907 285h6M1069 285h6M841 291h24M913 291h6M1051 291h12M841 297h18M919 297h6M1021 297h12M841 303h18M919 303h6M997 303h12M841 309h18M925 309h12M961 309h18M841 315h12M841 321h12M1303 351h6M1297 357h6"/>
<path stroke="#181818" d="M1333 -81h6M1333 -75h6M1333 -69h6M1327 -45h6M1321 -27h6M1321 -21h6M1315 -3h6M1309 21h6M1303 39h6M1297 57h6M1291 75h6M1285 87h6M1279 105h6M1273 123h6M1267 135h6M1261 147h6M1255 159h6M1249 171h6M1243 183h6M1237 189h6M1231 195h6M1225 201h6M1219 207h6M1207 219h6M1195 225h6M1165 243h6M1513 243h6M1153 249h6M1501 249h6M1513 249h6M1501 255h6M1111 267h6M1099 273h6M1453 273h6M877 279h24M1087 279h6M871 285h36M1075 285h6M865 291h18M907 291h6M859 297h18M913 297h6M1033 297h12M859 303h12M1009 303h6M859 309h6M919 309h6M979 309h12M853 315h6M937 315h18M853 321h6M841 327h18M841 333h18M841 339h12M841 345h12M841 351h12"/>
<path stroke="#1a1a1a" d="M1339 -135h6M1339 -129h6M1339 -123h6M1339 -117h6M1339 -111h6M1339 -105h6M1339 -99h6M1333 -63h6M1333 -57h6M1327 -39h6M1321 -15h6M1315 3h6M1309 27h6M1303 45h6M1297 63h6M1291 81h6M1285 93h6M1279 111h6M1261 153h6M1255 165h6M1189 231h6M1177 237h6M1519 237h6M1507 243h6M1519 249h6M1141 255h6M1507 255h6M1129 261h6M1117 267h6M1105 273h6M1441 279h6M883 291h24M1063 291h6M877 297h12M907 297h6M1045 297h6M871 303h12M913 303h6M1015 303h12M865 309h12M991 309h6M859 315h12M925 315h12M955 315h12M859 321h6M859 327h6M853 339h6M853 345h6M853 351h6M841 357h18M841 363h12M1285 363h6M841 369h12M841 375h12M841 381h12M841 387h12M841 393h6"/>
<path stroke="#1c1c1c" d="M1519 -225h6M1507 -219h18M1501 -213h24M1501 -207h24M1501 -201h24M1501 -195h24M1501 -189h24M1501 -183h24M1501 -177h24M1501 -171h24M1501 -165h24M1501 -159h24M1501 -153h24M1501 -147h24M1507 -141h18M1507 -135h18M1507 -129h18M1507 -123h18M1507 -117h18M1507 -111h18M1507 -105h18M1507 -99h18M1339 -93h6M1507 -93h18M1339 -87h6M1507 -87h18M1507 -81h18M1507 -75h18M1507 -69h18M1507 -63h18M1507 -57h18M1333 -51h6M1507 -51h18M1507 -45h18M1507 -39h18M1327 -33h6M1507 -33h18M1507 -27h18M1507 -21h18M1507 -15h18M1321 -9h6M1507 -9h18M1507 -3h18M1507 3h18M1315 9h6M1507 9h18M1315 15h6M1507 15h18M1507 21h18M1507 27h18M1309 33h6M1507 33h18M1507 39h18M1507 45h18M1303 51h6M1507 51h18M1507 57h18M1507 63h18M1297 69h6M1507 69h18M1507 75h18M1507 81h18M1507 87h18M1507 93h18M1285 99h6M1507 99h18M1507 105h18M1507 111h18M1279 117h6M1507 117h18M1507 123h18M1273 129h6M1507 129h18M1507 135h18M1267 141h6M1507 141h18M1507 147h18M1507 153h18M1507 159h18M1507 165h18M1507 171h18M1249 177h6M1507 177h18M1507 183h18M1507 189h18M1237 195h6M1507 195h18M1231 201h6M1507 201h18M1225 207h6M1507 207h18M1219 213h6M1507 213h18M1213 219h6M1507 219h18M1201 225h6M1507 225h18M1507 231h18M1183 237h6M1507 237h12M1171 243h6M1501 243h6M1159 249h6M1147 255h6M1513 255h12M1135 261h6M1507 261h18M1123 267h6M1507 267h18M1507 273h18M1093 279h6M1507 279h18M1081 285h6M1429 285h6M1507 285h6M1069 291h6M1417 291h6M889 297h18M1051 297h12M883 303h12M901 303h12M1027 303h6M877 309h12M913 309h6M997 309h12M871 315h12M919 315h6M967 315h12M865 321h12M943 321h6M865 327h6M859 333h6M859 339h6M1291 357h6M853 363h6M853 369h6M853 375h6M853 381h6M853 387h6M847 393h12M841 399h18M841 405h12M841 411h12M841 417h12M841 423h12M841 429h12M841 435h12M841 441h12M841 447h12M841 453h12M841 459h12M841 465h12M841 471h12M841 477h6"/>
<path stroke="#1e1e1e" d="M1501 -141h6M1345 -135h6M1501 -135h6M1345 -129h6M1501 -129h6M1345 -123h6M1501 -123h6M1501 -117h6M1501 -111h6M1501 -105h6M1501 -99h6M1501 -93h6M1501 -87h6M1339 -81h6M1501 -81h6M1339 -75h6M1501 -75h6M1339 -69h6M1501 -69h6M1501 -63h6M1501 -57h6M1501 -51h6M1333 -45h6M1501 -45h6M1501 -39h6M1501 -33h6M1327 -27h6M1501 -27h6M1501 -21h6M1501 -15h6M1501 -9h6M1321 -3h6M1501 -3h6M1501 3h6M1501 9h6M1501 15h6M1501 21h6M1501 27h6M1501 33h6M1309 39h6M1501 39h6M1501 45h6M1501 51h6M1303 57h6M1501 57h6M1501 63h6M1501 69h6M1501 75h6M1501 81h6M1291 87h6M1501 87h6M1501 93h6M1501 99h6M1285 105h6M1501 105h6M1501 111h6M1501 117h6M1501 123h6M1501 129h6M1273 135h6M1501 135h6M1501 141h6M1267 147h6M1501 147h6M1501 153h6M1261 159h6M1501 159h6M1501 165h6M1255 171h6M1501 171h6M1501 177h6M1501 183h6M1243 189h6M1501 189h6M1501 195h6M1501 201h6M1501 207h6M1501 213h6M1501 219h6M1207 225h6M1501 225h6M1195 231h6M1501 231h6M1501 237h6M1165 249h6M1495 249h6M1495 261h12M1501 267h6M1111 273h6M1501 273h6M1099 279h6M1501 279h6M1087 285h6M1501 285h6M1405 297h6M895 303h6M1033 303h12M889 309h24M1009 309h6M883 315h12M913 315h6M979 315h6M877 321h12M925 321h18M949 321h6M871 327h12M865 333h12M865 339h6M859 345h6M859 351h6M853 405h6M853 411h6M853 417h6M853 423h6M853 429h6M853 435h6M853 441h6M853 447h6M853 453h6M853 459h6M853 465h6M853 471h6M847 477h12M841 483h18M841 489h18M841 495h12M841 501h12M841 507h12M841 513h12M841 519h12M841 525h12M841 531h12M841 537h12M841 543h12M841 549h12M841 555h12M841 561h12M841 567h12M841 573h12M841 579h12M841 585h12M841 591h6"/>
<path stroke="#202020" d="M1345 -117h6M1345 -111h6M1345 -105h6M1345 -99h6M1339 -63h6M1333 -39h6M1327 -21h6M1321 3h6M1315 21h6M1315 27h6M1309 45h6M1303 63h6M1297 75h6M1291 93h6M1279 123h6M1249 183h6M1189 237h6M1177 243h6M1153 255h6M1141 261h6M1129 267h6M1117 273h6M1105 279h6M1075 291h6M1063 297h6M1045 303h6M1393 303h6M1015 309h12M895 315h18M985 315h12M889 321h12M913 321h12M955 321h12M883 327h12M877 333h12M871 339h12M865 345h6M859 357h6M859 363h6M1279 363h6M859 369h6M1273 369h6M853 495h6M853 501h6M853 507h6M853 513h6M853 519h6M853 525h6M853 531h6M853 537h6M853 543h6M853 549h6M853 555h6M853 561h6M853 567h6M853 573h6M853 579h6M853 585h6M847 591h6M841 597h12M841 603h12M841 609h6"/>
<path stroke="#222222" d="M1495 -213h6M1495 -207h6M1495 -201h6M1495 -195h6M1495 -189h6M1495 -183h6M1495 -177h6M1495 -171h6M1495 -165h6M1495 -159h6M1495 -153h6M1495 -147h6M1495 -141h6M1495 -135h6M1345 -93h6M1339 -57h6M1333 -33h6M1327 -15h6M1321 9h6M1309 51h6M1297 81h6M1291 99h6M1285 111h6M1273 141h6M1267 153h6M1261 165h6M1237 201h6M1201 231h6M1495 243h6M1171 249h6M1159 255h6M1483 255h6M1147 261h6M1483 267h6M1495 267h6M1123 273h6M1495 273h6M1093 285h6M1081 291h6M1069 297h6M1051 303h6M1027 309h6M1381 309h6M997 315h6M901 321h12M967 321h12M895 327h12M931 327h18M889 333h12M883 339h12M871 345h18M865 351h12M865 357h6M865 363h6M859 375h6M859 381h6M859 387h6M859 393h6M859 399h6M853 591h6M853 597h6M847 609h6M841 615h12M841 621h12"/>
<path stroke="#242424" d="M1351 -141h6M1351 -135h6M1351 -129h6M1495 -129h6M1351 -123h6M1495 -123h6M1351 -117h6M1495 -117h6M1495 -111h6M1495 -105h6M1495 -99h6M1495 -93h6M1345 -87h6M1495 -87h6M1345 -81h6M1495 -81h6M1495 -75h6M1339 -51h6M1333 -27h6M1327 -9h6M1321 15h6M1315 33h6M1309 57h6M1303 69h6M1495 69h6M1495 75h6M1495 81h6M1297 87h6M1495 87h6M1495 93h6M1495 99h6M1495 105h6M1495 111h6M1285 117h6M1495 117h6M1495 123h6M1279 129h6M1495 129h6M1495 135h6M1495 141h6M1495 147h6M1495 153h6M1495 159h6M1495 165h6M1495 171h6M1255 177h6M1495 177h6M1495 183h6M1249 189h6M1495 189h6M1243 195h6M1495 195h6M1495 201h6M1231 207h6M1495 207h6M1225 213h6M1495 213h6M1219 219h6M1495 219h6M1213 225h6M1495 225h6M1495 231h6M1495 237h6M1183 243h6M1135 267h6M1471 273h6M1111 279h6M1495 279h6M1099 285h6M1495 285h6M1087 291h6M1495 291h6M1075 297h6M1057 303h6M1033 309h12M1003 315h12M1369 315h6M979 321h6M1357 321h6M907 327h24M949 327h12M901 333h12M895 339h12M889 345h12M877 351h18M871 357h24M871 363h18M865 369h18M1267 369h6M865 375h12M1261 375h6M865 381h6M865 387h6M859 405h6M859 411h6M859 417h6M859 423h6M859 429h6M859 435h6M859 441h6M859 447h6M853 603h6M853 609h6M853 615h6"/>
<path stroke="#262626" d="M1351 -111h6M1351 -105h6M1345 -75h6M1345 -69h6M1495 -69h6M1495 -63h6M1495 -57h6M1495 -51h6M1339 -45h6M1495 -45h6M1495 -39h6M1495 -33h6M1495 -27h6M1333 -21h6M1495 -21h6M1495 -15h6M1495 -9h6M1327 -3h6M1495 -3h6M1495 3h6M1495 9h6M1495 15h6M1321 21h6M1495 21h6M1495 27h6M1495 33h6M1315 39h6M1495 39h6M1495 45h6M1495 51h6M1495 57h6M1495 63h6M1303 75h6M1291 105h6M1285 123h6M1279 135h6M1273 147h6M1267 159h6M1261 171h6M1207 231h6M1195 237h6M1177 249h6M1489 249h6M1165 255h6M1153 261h6M1471 261h6M1141 267h6M1489 267h6M1129 273h6M1117 279h6M1459 279h6M1105 285h6M1447 285h6M1093 291h6M1435 291h6M1081 297h6M1063 303h12M1045 309h12M1015 315h12M985 321h12M961 327h12M1345 327h6M913 333h36M907 339h18M901 345h24M895 351h24M895 357h24M889 363h24M883 369h24M877 375h30M871 381h30M871 387h24M865 393h24M865 399h18M865 405h12M865 411h6M865 417h6M865 423h6M859 453h6M859 459h6M859 465h6M859 471h6M859 477h6M859 483h6M859 489h6M859 495h6M859 501h6M859 507h6M859 513h6"/>
<path stroke="#282828" d="M1489 -207h6M1489 -201h6M1489 -195h6M1489 -189h6M1357 -141h6M1357 -135h6M1357 -129h6M1351 -99h6M1351 -93h6M1345 -63h6M1339 -39h6M1333 -15h6M1327 3h6M1321 27h6M1315 45h6M1309 63h6M1303 81h6M1297 93h6M1291 111h6M1273 153h6M1255 183h6M1243 201h6M1237 207h6M1231 213h6M1225 219h6M1201 237h6M1189 243h6M1171 255h6M1159 261h6M1147 267h6M1459 267h6M1135 273h6M1489 273h6M1123 279h6M1489 279h6M1111 285h12M1489 285h6M1099 291h18M1489 291h6M1087 297h18M1423 297h6M1075 303h18M1411 303h6M1057 309h30M1399 309h6M1027 315h48M1387 315h6M997 321h18M1027 321h36M1375 321h6M973 327h12M1027 327h30M1363 327h6M949 333h12M1333 333h6M1351 333h6M925 339h30M1339 339h6M925 345h30M1327 345h6M919 351h30M1315 351h6M919 357h30M913 363h36M907 369h36M907 375h30M901 381h36M895 387h36M889 393h36M883 399h36M877 405h36M871 411h36M871 417h36M871 423h30M865 429h30M865 435h24M865 441h18M865 447h18M865 453h12M865 459h6M865 465h6M865 471h6M859 519h6M859 525h6M859 531h6M859 537h6M859 543h6M859 549h6M859 555h6M859 561h6M859 567h6M859 573h6"/>
<path stroke="#2a2a2a" d="M1489 -183h6M1489 -177h6M1489 -171h6M1489 -165h6M1489 -159h6M1375 -153h6M1489 -153h6M1363 -147h18M1489 -147h6M1363 -141h18M1489 -141h6M1363 -135h12M1489 -135h6M1363 -129h6M1489 -129h6M1357 -123h6M1357 -117h6M1357 -111h6M1351 -87h6M1345 -57h6M1339 -33h6M1333 -9h6M1327 9h6M1327 15h6M1321 33h6M1315 51h6M1309 69h6M1303 87h6M1297 99h6M1291 117h6M1285 129h6M1279 141h6M1267 165h6M1261 177h6M1249 195h6M1219 225h6M1213 231h6M1489 237h6M1195 243h6M1489 243h6M1183 249h6M1177 255h6M1165 261h6M1153 267h12M1141 273h18M1447 273h6M1477 273h12M1129 279h18M1123 285h18M1117 291h18M1105 297h24M1093 303h30M1087 309h30M1075 315h36M1015 321h12M1063 321h42M985 327h42M1057 327h42M961 333h132M955 339h126M1321 339h6M955 345h120M949 351h120M949 357h114M1303 357h6M949 363h108M1291 363h6M943 369h108M937 375h102M1255 375h6M937 381h96M1249 381h6M931 387h90M925 393h84M919 399h84M913 405h78M907 411h78M907 417h72M901 423h66M895 429h66M889 435h66M883 441h72M883 447h66M877 453h66M871 459h72M871 465h66M871 471h66M865 477h60M865 483h54M865 489h48M865 495h36M865 501h30M865 507h24M865 513h18M865 519h12M865 525h6M865 531h6M865 537h6M865 543h6M865 549h6M865 555h6M859 579h6M859 585h6"/>
<path stroke="#2c2c2c" d="M1375 -135h6M1369 -129h12M1363 -123h12M1489 -123h6M1363 -117h6M1489 -117h6M1489 -111h6M1357 -105h6M1489 -105h6M1357 -99h6M1489 -99h6M1489 -93h6M1489 -87h6M1351 -81h6M1489 -81h6M1351 -75h6M1351 -69h6M1345 -51h6M1345 -45h6M1339 -27h6M1333 -3h6M1327 21h6M1321 39h6M1321 45h6M1315 57h6M1315 63h6M1489 69h6M1309 75h6M1489 75h6M1489 81h6M1489 87h6M1303 93h6M1489 93h6M1489 99h6M1297 105h6M1489 105h6M1489 111h6M1489 117h6M1489 123h6M1489 129h6M1285 135h6M1489 135h6M1489 141h6M1279 147h6M1489 147h6M1489 153h6M1273 159h6M1489 159h6M1489 165h6M1267 171h6M1489 171h6M1489 177h6M1489 183h6M1255 189h6M1489 189h6M1489 195h6M1489 201h6M1243 207h6M1489 207h6M1489 213h6M1489 219h6M1225 225h6M1489 225h6M1489 231h6M1207 237h6M1201 243h6M1189 249h12M1483 249h6M1183 255h12M1477 255h6M1171 261h18M1165 267h18M1159 273h18M1147 279h24M1465 279h6M1477 279h12M1141 285h18M1483 285h6M1135 291h18M1483 291h6M1129 297h18M1483 297h6M1123 303h18M1117 309h18M1111 315h24M1105 321h24M1099 327h24M1093 333h24M1081 339h30M1075 345h24M1309 345h6M1069 351h24M1063 357h24M1057 363h24M1051 369h24M1279 369h6M1039 375h30M1033 381h30M1021 387h36M1009 393h42M1003 399h36M991 405h42M985 411h42M979 417h42M967 423h48M961 429h48M955 435h48M955 441h42M949 447h36M943 453h36M943 459h30M937 465h30M937 471h24M925 477h30M919 483h30M913 489h24M901 495h36M895 501h42M889 507h48M883 513h54M877 519h54M871 525h54M871 531h48M871 537h42M871 543h36M871 549h30M871 555h18M865 561h18M865 567h12M865 573h6M859 591h6"/>
<path stroke="#2e2e2e" d="M1483 -207h6M1483 -201h6M1483 -195h6M1381 -153h6M1381 -147h6M1381 -141h6M1375 -123h6M1369 -117h12M1363 -111h12M1363 -105h6M1357 -93h6M1489 -75h6M1489 -69h6M1351 -63h6M1489 -63h6M1489 -57h6M1489 -51h6M1489 -45h6M1345 -39h6M1489 -39h6M1489 -33h6M1489 -27h6M1339 -21h6M1489 -21h6M1339 -15h6M1489 -15h6M1489 -9h6M1489 -3h6M1333 3h6M1489 3h6M1333 9h6M1489 9h6M1333 15h6M1489 15h6M1489 21h6M1327 27h6M1489 27h6M1327 33h6M1489 33h6M1327 39h6M1489 39h6M1489 45h6M1321 51h6M1489 51h6M1321 57h6M1489 57h6M1489 63h6M1315 69h6M1315 75h6M1309 81h6M1309 87h6M1303 99h6M1297 111h6M1291 123h6M1285 141h6M1279 153h6M1273 165h6M1267 177h6M1261 183h6M1255 195h6M1249 201h6M1249 207h6M1237 213h12M1231 219h12M1231 225h6M1219 231h12M1213 237h12M1207 243h12M1483 243h6M1201 249h12M1195 255h12M1189 261h12M1183 267h12M1177 273h12M1171 279h12M1435 279h6M1471 279h6M1159 285h18M1453 285h6M1465 285h18M1153 291h18M1471 291h12M1147 297h18M1471 297h12M1141 303h18M1471 303h6M1135 309h18M1135 315h12M1129 321h12M1123 327h12M1117 333h12M1111 339h12M1099 345h18M1093 351h18M1297 351h6M1087 357h18M1081 363h18M1075 369h18M1069 375h18M1267 375h6M1063 381h18M1243 381h6M1057 387h18M1237 387h6M1051 393h18M1039 399h24M1033 405h24M1027 411h24M1021 417h24M1015 423h24M1009 429h24M1003 435h24M997 441h24M985 447h30M979 453h30M973 459h24M967 465h30M961 471h30M955 477h36M949 483h42M937 489h54M937 495h48M937 501h42M937 507h36M937 513h30M931 519h30M925 525h24M919 531h24M913 537h24M907 543h24M901 549h18M889 555h24M883 561h18M877 567h18M871 573h12M865 579h12M859 597h6M859 603h6M859 609h6M859 615h6"/>
<path stroke="#303030" d="M1483 -189h6M1483 -183h6M1483 -177h6M1483 -171h6M1483 -165h6M1483 -159h6M1483 -153h6M1483 -147h6M1483 -141h6M1381 -135h6M1381 -129h6M1375 -111h6M1369 -105h12M1363 -99h12M1363 -93h6M1357 -87h6M1357 -81h6M1357 -75h6M1357 -69h6M1351 -57h6M1351 -51h6M1351 -45h6M1351 -39h6M1345 -33h6M1345 -27h6M1345 -21h6M1345 -15h6M1339 -9h12M1339 -3h12M1339 3h6M1339 9h6M1339 15h6M1333 21h12M1333 27h12M1333 33h12M1333 39h6M1327 45h12M1327 51h12M1327 57h6M1321 63h12M1321 69h12M1321 75h6M1315 81h12M1315 87h6M1309 93h12M1309 99h12M1303 105h12M1303 111h12M1297 117h12M1297 123h12M1291 129h12M1291 135h12M1291 141h6M1483 141h6M1285 147h12M1483 147h6M1285 153h6M1483 153h6M1279 159h12M1483 159h6M1279 165h6M1483 165h6M1273 171h12M1483 171h6M1273 177h6M1483 177h6M1267 183h12M1483 183h6M1261 189h12M1483 189h6M1261 195h12M1483 195h6M1255 201h12M1483 201h6M1255 207h6M1483 207h6M1249 213h12M1483 213h6M1243 219h12M1483 219h6M1237 225h12M1483 225h6M1231 231h12M1483 231h6M1225 237h12M1483 237h6M1219 243h12M1213 249h12M1477 249h6M1207 255h12M1471 255h6M1201 261h12M1465 261h6M1195 267h12M1189 273h12M1183 279h12M1177 285h12M1423 285h6M1459 285h6M1171 291h18M1441 291h6M1453 291h18M1165 297h18M1453 297h18M1159 303h18M1459 303h12M1153 309h18M1459 309h6M1147 315h18M1141 321h18M1135 327h18M1129 333h18M1123 339h18M1117 345h18M1111 351h18M1105 357h18M1285 357h6M1099 363h18M1093 369h18M1087 375h18M1081 381h18M1255 381h6M1075 387h18M1069 393h18M1063 399h18M1057 405h18M1051 411h18M1045 417h24M1039 423h24M1033 429h24M1027 435h24M1021 441h24M1015 447h24M1009 453h24M997 459h36M997 465h30M991 471h30M991 477h30M991 483h24M991 489h24M985 495h24M979 501h24M973 507h24M967 513h24M961 519h18M949 525h24M943 531h24M937 537h18M931 543h18M919 549h18M913 555h18M901 561h18M895 567h18M883 573h18M877 579h12M865 585h12M865 591h6"/>
<path stroke="#323232" d="M1387 -159h6M1387 -153h6M1387 -147h6M1387 -141h6M1387 -135h6M1483 -135h6M1483 -129h6M1381 -123h6M1483 -123h6M1381 -117h6M1483 -117h6M1483 -111h6M1483 -105h6M1375 -99h6M1483 -99h6M1369 -93h12M1483 -93h6M1363 -87h12M1483 -87h6M1363 -81h12M1363 -75h12M1363 -69h12M1357 -63h12M1357 -57h12M1357 -51h12M1357 -45h12M1357 -39h6M1351 -33h12M1351 -27h12M1351 -21h12M1351 -15h12M1351 -9h6M1351 -3h6M1345 3h12M1345 9h12M1345 15h12M1345 21h12M1345 27h6M1345 33h6M1339 39h12M1339 45h6M1339 51h6M1333 57h12M1333 63h6M1333 69h6M1483 69h6M1327 75h12M1483 75h6M1327 81h6M1483 81h6M1321 87h12M1483 87h6M1321 93h12M1483 93h6M1321 99h6M1483 99h6M1315 105h12M1483 105h6M1315 111h6M1483 111h6M1309 117h12M1483 117h6M1309 123h6M1483 123h6M1303 129h12M1483 129h6M1303 135h6M1483 135h6M1297 141h12M1297 147h6M1291 153h12M1291 159h6M1285 165h12M1285 171h6M1279 177h12M1279 183h6M1273 189h12M1273 195h6M1267 201h12M1261 207h12M1261 213h6M1255 219h6M1249 225h12M1243 231h12M1237 237h12M1231 243h12M1477 243h6M1225 249h12M1471 249h6M1219 255h12M1213 261h12M1207 267h12M1453 267h6M1201 273h12M1195 279h12M1189 285h12M1189 291h12M1411 291h6M1447 291h6M1183 297h12M1429 297h6M1441 297h12M1177 303h12M1417 303h6M1441 303h18M1171 309h12M1441 309h18M1165 315h12M1441 315h12M1159 321h12M1153 327h12M1147 333h12M1141 339h12M1135 345h12M1129 351h12M1123 357h12M1117 363h12M1111 369h12M1105 375h12M1099 381h12M1093 387h18M1231 387h6M1087 393h18M1225 393h6M1081 399h18M1075 405h18M1069 411h18M1069 417h18M1063 423h18M1057 429h18M1051 435h18M1045 441h18M1039 447h18M1033 453h24M1033 459h18M1027 465h24M1021 471h30M1021 477h36M1015 483h36M1015 489h24M1009 495h24M1003 501h18M997 507h18M991 513h18M979 519h18M973 525h18M967 531h12M955 537h18M949 543h12M937 549h18M931 555h12M919 561h18M913 567h18M901 573h24M889 579h36M877 585h48M871 591h42M865 597h36M865 603h24M865 609h12"/>
<path stroke="#343434" d="M1477 -201h6M1477 -195h6M1477 -189h6M1477 -183h6M1477 -177h6M1477 -171h6M1477 -165h6M1393 -159h6M1477 -159h6M1393 -153h6M1393 -147h6M1387 -129h6M1387 -123h6M1381 -111h6M1381 -105h6M1381 -99h6M1375 -87h6M1375 -81h6M1483 -81h6M1375 -75h6M1483 -75h6M1375 -69h6M1483 -69h6M1369 -63h12M1483 -63h6M1369 -57h12M1483 -57h6M1369 -51h6M1483 -51h6M1369 -45h6M1483 -45h6M1363 -39h12M1483 -39h6M1363 -33h12M1483 -33h6M1363 -27h12M1483 -27h6M1363 -21h12M1483 -21h6M1363 -15h6M1483 -15h6M1357 -9h12M1483 -9h6M1357 -3h12M1483 -3h6M1357 3h12M1483 3h6M1357 9h12M1483 9h6M1357 15h6M1483 15h6M1357 21h6M1483 21h6M1351 27h12M1483 27h6M1351 33h12M1483 33h6M1351 39h6M1483 39h6M1345 45h12M1483 45h6M1345 51h12M1483 51h6M1345 57h6M1483 57h6M1339 63h12M1483 63h6M1339 69h12M1339 75h12M1333 81h12M1333 87h12M1333 93h6M1327 99h12M1327 105h12M1321 111h12M1321 117h12M1477 117h6M1315 123h12M1477 123h6M1315 129h12M1477 129h6M1309 135h12M1477 135h6M1309 141h12M1477 141h6M1303 147h12M1477 147h6M1303 153h12M1477 153h6M1297 159h12M1477 159h6M1297 165h12M1477 165h6M1291 171h12M1477 171h6M1291 177h12M1477 177h6M1285 183h12M1477 183h6M1285 189h12M1477 189h6M1279 195h12M1477 195h6M1279 201h6M1477 201h6M1273 207h12M1477 207h6M1267 213h12M1477 213h6M1261 219h12M1477 219h6M1261 225h6M1477 225h6M1255 231h6M1477 231h6M1249 237h12M1477 237h6M1243 243h12M1471 243h6M1237 249h12M1231 255h12M1465 255h6M1225 261h12M1459 261h6M1219 267h12M1213 273h12M1207 279h12M1201 285h12M1201 291h6M1195 297h6M1399 297h6M1435 297h6M1189 303h12M1423 303h18M1183 309h12M1405 309h6M1423 309h18M1177 315h12M1393 315h6M1423 315h18M1171 321h12M1423 321h18M1165 327h18M1423 327h6M1159 333h18M1153 339h18M1147 345h18M1141 351h18M1135 357h18M1129 363h18M1273 363h6M1123 369h18M1117 375h18M1111 381h18M1111 387h12M1243 387h6M1105 393h12M1099 399h18M1093 405h18M1087 411h18M1087 417h12M1081 423h12M1075 429h12M1069 435h12M1063 441h12M1057 447h18M1057 453h24M1093 453h18M1051 459h48M1051 465h42M1051 471h30M1057 477h18M1051 483h12M1039 489h18M1033 495h18M1021 501h18M1015 507h18M1009 513h12M997 519h18M991 525h12M979 531h18M973 537h18M961 543h24M955 549h30M943 555h42M937 561h36M931 567h30M925 573h24M925 579h12"/>
<path stroke="#363636" d="M1477 -153h6M1477 -147h6M1393 -141h6M1477 -141h6M1393 -135h6M1477 -135h6M1393 -129h6M1477 -129h6M1477 -123h6M1387 -117h6M1477 -117h6M1387 -111h6M1477 -111h6M1477 -105h6M1477 -99h6M1381 -93h6M1381 -87h6M1381 -81h6M1381 -75h6M1381 -69h6M1375 -51h6M1375 -45h6M1375 -39h6M1375 -33h6M1375 -27h6M1375 -21h6M1369 -15h12M1369 -9h12M1369 -3h6M1369 3h6M1369 9h6M1363 15h12M1363 21h12M1363 27h6M1363 33h6M1357 39h12M1357 45h12M1357 51h6M1351 57h12M1351 63h12M1477 63h6M1351 69h12M1477 69h6M1351 75h6M1477 75h6M1345 81h12M1477 81h6M1345 87h12M1477 87h6M1339 93h12M1477 93h6M1339 99h12M1477 99h6M1339 105h12M1477 105h6M1333 111h12M1477 111h6M1333 117h12M1327 123h12M1327 129h12M1321 135h18M1471 135h6M1321 141h12M1471 141h6M1315 147h18M1471 147h6M1315 153h12M1471 153h6M1309 159h18M1471 159h6M1309 165h12M1471 165h6M1303 171h12M1471 171h6M1303 177h12M1471 177h6M1297 183h12M1471 183h6M1297 189h12M1471 189h6M1291 195h12M1471 195h6M1285 201h12M1471 201h6M1285 207h6M1471 207h6M1279 213h12M1471 213h6M1273 219h12M1471 219h6M1267 225h12M1471 225h6M1261 231h12M1471 231h6M1261 237h6M1471 237h6M1255 243h6M1249 249h12M1465 249h6M1243 255h12M1459 255h6M1237 261h12M1453 261h6M1231 267h12M1447 267h6M1225 273h12M1441 273h6M1219 279h12M1213 285h12M1207 291h12M1201 297h12M1201 303h6M1387 303h6M1195 309h6M1411 309h12M1189 315h12M1411 315h12M1183 321h12M1381 321h6M1411 321h12M1183 327h6M1369 327h6M1411 327h12M1177 333h12M1411 333h6M1171 339h12M1165 345h12M1159 351h12M1153 357h12M1147 363h12M1141 369h12M1261 369h6M1135 375h12M1129 381h12M1123 387h12M1117 393h12M1219 393h6M1231 393h6M1117 399h12M1213 399h6M1111 405h12M1105 411h12M1099 417h12M1093 423h12M1087 429h12M1081 435h12M1135 435h6M1075 441h60M1075 447h54M1081 453h12M1111 453h6M1099 459h12M1093 465h12M1081 471h12M1075 477h12M1063 483h12M1057 489h12M1051 495h12M1039 501h18M1033 507h18M1021 513h30M1015 519h36M1003 525h36M997 531h30M991 537h30M985 543h24M985 549h12"/>
<path stroke="#383838" d="M1471 -201h6M1471 -195h6M1471 -189h6M1471 -183h6M1471 -177h6M1471 -171h6M1399 -165h6M1471 -165h6M1399 -159h6M1471 -159h6M1399 -153h6M1399 -147h6M1399 -141h6M1393 -123h6M1393 -117h6M1387 -105h6M1387 -99h6M1387 -93h6M1477 -93h6M1387 -87h6M1477 -87h6M1387 -81h6M1477 -81h6M1477 -75h6M1477 -69h6M1381 -63h6M1477 -63h6M1381 -57h6M1477 -57h6M1381 -51h6M1381 -45h6M1381 -39h6M1381 -33h6M1381 -27h6M1477 -27h6M1381 -21h6M1477 -21h6M1381 -15h6M1477 -15h6M1477 -9h6M1375 -3h6M1477 -3h6M1375 3h6M1477 3h6M1375 9h6M1477 9h6M1375 15h6M1477 15h6M1375 21h6M1477 21h6M1369 27h12M1477 27h6M1369 33h12M1477 33h6M1369 39h12M1477 39h6M1369 45h6M1477 45h6M1363 51h12M1477 51h6M1363 57h12M1477 57h6M1363 63h12M1363 69h6M1357 75h12M1357 81h12M1357 87h12M1351 93h12M1471 93h6M1351 99h12M1471 99h6M1351 105h12M1471 105h6M1345 111h12M1471 111h6M1345 117h12M1471 117h6M1339 123h18M1471 123h6M1339 129h12M1471 129h6M1339 135h12M1333 141h12M1465 141h6M1333 147h12M1465 147h6M1327 153h12M1465 153h6M1327 159h12M1465 159h6M1321 165h12M1465 165h6M1315 171h18M1465 171h6M1315 177h12M1465 177h6M1309 183h12M1465 183h6M1309 189h6M1465 189h6M1303 195h12M1465 195h6M1297 201h12M1465 201h6M1291 207h12M1465 207h6M1291 213h6M1465 213h6M1285 219h12M1465 219h6M1279 225h12M1465 225h6M1273 231h12M1465 231h6M1267 237h12M1465 237h6M1261 243h12M1465 243h6M1261 249h6M1459 249h6M1255 255h6M1249 261h6M1243 267h6M1237 273h6M1231 279h6M1429 279h6M1225 285h6M1219 291h6M1213 297h12M1207 303h12M1201 309h12M1375 309h6M1201 315h6M1399 315h12M1195 321h6M1393 321h18M1189 327h12M1393 327h18M1189 333h6M1357 333h6M1393 333h18M1183 339h6M1345 339h6M1393 339h12M1177 345h6M1333 345h6M1171 351h12M1165 357h6M1159 363h6M1153 369h6M1147 375h6M1249 375h6M1141 381h6M1135 387h12M1129 393h12M1129 399h6M1207 399h6M1219 399h6M1123 405h6M1201 405h6M1117 411h6M1111 417h12M1105 423h12M1153 423h18M1099 429h60M1093 435h42M1141 435h12M1135 441h12M1129 447h6M1117 453h12M1111 459h12M1105 465h6M1093 471h12M1087 477h12M1075 483h12M1069 489h12M1063 495h18M1057 501h24M1051 507h24M1051 513h12"/>
<path stroke="#3a3a3a" d="M1405 -165h6M1405 -159h6M1405 -153h6M1471 -153h6M1471 -147h6M1471 -141h6M1399 -135h6M1471 -135h6M1399 -129h6M1471 -129h6M1399 -123h6M1471 -123h6M1471 -117h6M1393 -111h6M1471 -111h6M1393 -105h6M1471 -105h6M1393 -99h6M1471 -99h6M1471 -93h6M1387 -75h6M1387 -69h6M1387 -63h6M1387 -57h6M1387 -51h6M1477 -51h6M1387 -45h6M1477 -45h6M1387 -39h6M1477 -39h6M1387 -33h6M1477 -33h6M1387 -27h6M1381 -9h6M1381 -3h6M1381 3h6M1381 9h6M1381 15h6M1381 21h6M1381 27h6M1381 33h6M1381 39h6M1471 39h6M1375 45h6M1471 45h6M1375 51h6M1471 51h6M1375 57h6M1471 57h6M1375 63h6M1471 63h6M1369 69h12M1471 69h6M1369 75h12M1471 75h6M1369 81h12M1471 81h6M1369 87h12M1471 87h6M1363 93h12M1363 99h12M1363 105h12M1465 105h6M1357 111h12M1465 111h6M1357 117h12M1465 117h6M1357 123h12M1465 123h6M1351 129h12M1465 129h6M1351 135h12M1465 135h6M1345 141h18M1345 147h12M1459 147h6M1339 153h18M1459 153h6M1339 159h12M1459 159h6M1333 165h18M1459 165h6M1333 171h12M1459 171h6M1327 177h12M1459 177h6M1321 183h12M1459 183h6M1315 189h18M1459 189h6M1315 195h12M1459 195h6M1309 201h12M1459 201h6M1303 207h12M1459 207h6M1297 213h12M1459 213h6M1297 219h6M1459 219h6M1291 225h12M1459 225h6M1285 231h12M1459 231h6M1279 237h12M1459 237h6M1273 243h12M1459 243h6M1267 249h12M1261 255h12M1453 255h6M1255 261h12M1447 261h6M1249 267h12M1441 267h6M1243 273h12M1435 273h6M1237 279h12M1231 285h12M1417 285h6M1225 291h12M1225 297h6M1219 303h6M1213 309h6M1207 315h12M1363 315h6M1201 321h12M1351 321h6M1387 321h6M1201 327h6M1375 327h18M1195 333h6M1381 333h12M1189 339h6M1381 339h12M1183 345h12M1381 345h12M1183 351h6M1321 351h6M1171 357h12M1309 357h6M1165 363h12M1297 363h6M1159 369h12M1285 369h6M1153 375h12M1273 375h6M1147 381h12M1237 381h6M1147 387h6M1141 393h6M1135 399h12M1129 405h12M1195 405h6M1207 405h6M1123 411h12M1177 411h24M1123 417h6M1147 417h42M1117 423h36M1171 423h6M1159 429h12M1153 435h12M1147 441h6M1135 447h12M1129 453h12M1123 459h6M1111 465h12M1105 471h12M1099 477h12M1087 483h24M1081 489h30M1081 495h18M1081 501h6"/>
<path stroke="#3c3c3c" d="M1465 -195h6M1465 -189h6M1465 -183h6M1465 -177h6M1465 -171h6M1465 -165h6M1465 -159h6M1465 -153h6M1405 -147h6M1405 -141h6M1405 -135h6M1399 -117h6M1399 -111h6M1393 -93h6M1393 -87h6M1471 -87h6M1393 -81h6M1471 -81h6M1393 -75h6M1471 -75h6M1393 -69h6M1471 -69h6M1393 -63h6M1471 -63h6M1393 -57h6M1471 -57h6M1393 -51h6M1471 -51h6M1393 -45h6M1471 -45h6M1393 -39h6M1471 -39h6M1393 -33h6M1471 -33h6M1471 -27h6M1387 -21h6M1471 -21h6M1387 -15h6M1471 -15h6M1387 -9h6M1471 -9h6M1387 -3h6M1471 -3h6M1387 3h6M1471 3h6M1387 9h6M1471 9h6M1387 15h6M1471 15h6M1387 21h6M1471 21h6M1387 27h6M1471 27h6M1387 33h6M1471 33h6M1387 39h6M1381 45h12M1381 51h6M1381 57h6M1381 63h6M1381 69h6M1465 69h6M1381 75h6M1465 75h6M1381 81h6M1465 81h6M1381 87h6M1465 87h6M1375 93h12M1465 93h6M1375 99h12M1465 99h6M1375 105h6M1369 111h12M1369 117h12M1459 117h6M1369 123h12M1459 123h6M1363 129h18M1459 129h6M1363 135h18M1459 135h6M1363 141h12M1459 141h6M1357 147h18M1357 153h12M1453 153h6M1351 159h18M1453 159h6M1351 165h12M1453 165h6M1345 171h12M1453 171h6M1339 177h18M1453 177h6M1333 183h18M1453 183h6M1333 189h12M1453 189h6M1327 195h12M1453 195h6M1321 201h12M1453 201h6M1315 207h12M1453 207h6M1309 213h18M1453 213h6M1303 219h18M1453 219h6M1303 225h12M1453 225h6M1297 231h12M1453 231h6M1291 237h12M1453 237h6M1285 243h12M1453 243h6M1279 249h12M1453 249h6M1273 255h12M1447 255h6M1267 261h12M1261 267h6M1435 267h6M1255 273h6M1429 273h6M1249 279h6M1423 279h6M1243 285h6M1237 291h6M1405 291h6M1231 297h6M1225 303h12M1219 309h12M1219 315h6M1213 321h6M1207 327h6M1339 327h6M1201 333h6M1363 333h18M1195 339h12M1351 339h30M1195 345h6M1363 345h18M1189 351h6M1363 351h18M1183 357h6M1363 357h6M1177 363h6M1171 369h6M1165 375h6M1159 381h6M1261 381h6M1153 387h12M1225 387h6M1249 387h6M1147 393h12M1213 393h6M1237 393h6M1147 399h6M1201 399h6M1225 399h6M1141 405h6M1177 405h18M1213 405h6M1135 411h42M1201 411h6M1129 417h18M1189 417h6M1177 423h12M1171 429h12M1165 435h6M1153 441h12M1147 447h12M1141 453h6M1129 459h12M1123 465h18M1117 471h24M1111 477h24M1111 483h12"/>
<path stroke="#3e3e3e" d="M1411 -171h6M1411 -165h6M1411 -159h6M1411 -153h6M1411 -147h6M1465 -147h6M1465 -141h6M1465 -135h6M1405 -129h6M1465 -129h6M1405 -123h6M1465 -123h6M1405 -117h6M1465 -117h6M1465 -111h6M1399 -105h6M1465 -105h6M1399 -99h6M1465 -99h6M1399 -93h6M1465 -93h6M1399 -87h6M1465 -87h6M1399 -81h6M1465 -81h6M1399 -75h6M1399 -69h6M1399 -63h6M1399 -57h6M1399 -51h6M1399 -45h6M1393 -27h6M1393 -21h6M1393 -15h6M1393 -9h6M1393 -3h6M1393 3h6M1393 9h6M1465 9h6M1393 15h6M1465 15h6M1393 21h6M1465 21h6M1393 27h6M1465 27h6M1393 33h6M1465 33h6M1393 39h6M1465 39h6M1393 45h6M1465 45h6M1387 51h12M1465 51h6M1387 57h12M1465 57h6M1387 63h6M1465 63h6M1387 69h6M1387 75h6M1387 81h6M1387 87h6M1459 87h6M1387 93h6M1459 93h6M1387 99h6M1459 99h6M1381 105h12M1459 105h6M1381 111h12M1459 111h6M1381 117h12M1381 123h12M1381 129h12M1453 129h6M1381 135h12M1453 135h6M1375 141h12M1453 141h6M1375 147h12M1453 147h6M1369 153h18M1369 159h12M1447 159h6M1363 165h12M1447 165h6M1357 171h18M1447 171h6M1357 177h12M1447 177h6M1351 183h12M1447 183h6M1345 189h18M1447 189h6M1339 195h18M1447 195h6M1333 201h18M1447 201h6M1327 207h18M1447 207h6M1327 213h12M1447 213h6M1321 219h12M1447 219h6M1315 225h12M1447 225h6M1309 231h12M1447 231h6M1303 237h6M1447 237h6M1297 243h6M1447 243h6M1291 249h6M1447 249h6M1285 255h6M1279 261h6M1441 261h6M1267 267h12M1261 273h12M1255 279h12M1249 285h12M1411 285h6M1243 291h12M1237 297h12M1393 297h6M1237 303h6M1231 309h6M1225 315h6M1219 321h6M1213 327h6M1207 333h6M1327 333h6M1207 339h6M1315 339h6M1201 345h6M1339 345h24M1195 351h6M1327 351h6M1345 351h18M1189 357h6M1345 357h18M1183 363h6M1345 363h12M1177 369h6M1171 375h12M1165 381h12M1165 387h6M1159 393h6M1207 393h6M1153 399h12M1183 399h18M1147 405h30M1219 405h6M1207 411h6M1195 417h12M1189 423h12M1183 429h6M1171 435h12M1165 441h12M1159 447h12M1147 453h24M1141 459h30M1141 465h18M1141 471h6"/>
<path stroke="#404040" d="M1459 -195h6M1459 -189h6M1459 -183h6M1459 -177h6M1417 -171h6M1459 -171h6M1417 -165h6M1459 -165h6M1417 -159h6M1459 -159h6M1459 -153h6M1411 -141h6M1411 -135h6M1411 -129h6M1405 -111h6M1405 -105h6M1405 -99h6M1405 -93h6M1405 -87h6M1405 -81h6M1405 -75h6M1465 -75h6M1405 -69h6M1465 -69h6M1405 -63h6M1465 -63h6M1465 -57h6M1465 -51h6M1465 -45h6M1399 -39h6M1465 -39h6M1399 -33h6M1465 -33h6M1399 -27h6M1465 -27h6M1399 -21h6M1465 -21h6M1399 -15h6M1465 -15h6M1399 -9h6M1465 -9h6M1399 -3h6M1465 -3h6M1399 3h6M1465 3h6M1399 9h6M1399 15h6M1399 21h6M1399 27h6M1399 33h6M1399 39h6M1399 45h6M1459 45h6M1399 51h6M1459 51h6M1399 57h6M1459 57h6M1393 63h12M1459 63h6M1393 69h12M1459 69h6M1393 75h12M1459 75h6M1393 81h12M1459 81h6M1393 87h12M1393 93h12M1393 99h12M1453 99h6M1393 105h12M1453 105h6M1393 111h12M1453 111h6M1393 117h12M1453 117h6M1393 123h12M1453 123h6M1393 129h12M1393 135h12M1447 135h6M1387 141h18M1447 141h6M1387 147h18M1447 147h6M1387 153h18M1447 153h6M1381 159h18M1375 165h24M1441 165h6M1375 171h18M1441 171h6M1369 177h24M1441 177h6M1363 183h24M1441 183h6M1363 189h12M1435 189h12M1357 195h18M1435 195h12M1351 201h18M1435 201h12M1345 207h18M1429 207h18M1339 213h12M1429 213h18M1333 219h12M1435 219h12M1327 225h12M1441 225h6M1321 231h12M1441 231h6M1309 237h12M1441 237h6M1303 243h12M1441 243h6M1297 249h12M1441 249h6M1291 255h12M1441 255h6M1285 261h12M1435 261h6M1279 267h12M1429 267h6M1273 273h12M1423 273h6M1267 279h12M1417 279h6M1261 285h6M1255 291h6M1399 291h6M1249 297h6M1243 303h6M1381 303h6M1237 309h6M1231 315h6M1225 321h6M1219 327h6M1213 333h6M1213 339h6M1207 345h6M1303 345h6M1201 351h6M1291 351h6M1333 351h12M1195 357h6M1279 357h6M1315 357h30M1189 363h6M1267 363h6M1303 363h6M1333 363h12M1183 369h12M1255 369h6M1291 369h6M1333 369h12M1183 375h6M1243 375h6M1279 375h6M1333 375h6M1177 381h6M1231 381h6M1267 381h6M1171 387h12M1219 387h6M1255 387h6M1165 393h12M1189 393h18M1243 393h6M1165 399h18M1231 399h12M1225 405h6M1213 411h12M1207 417h12M1201 423h6M1189 429h12M1183 435h18M1177 441h24M1171 447h24M1171 453h12"/>
<path stroke="#424242" d="M1417 -153h6M1417 -147h6M1459 -147h6M1417 -141h6M1459 -141h6M1417 -135h6M1459 -135h6M1459 -129h6M1411 -123h6M1459 -123h6M1411 -117h6M1459 -117h6M1411 -111h6M1459 -111h6M1411 -105h6M1459 -105h6M1411 -99h6M1459 -99h6M1411 -93h6M1459 -93h6M1411 -87h6M1459 -87h6M1411 -81h6M1459 -81h6M1459 -75h6M1459 -69h6M1459 -63h6M1405 -57h6M1405 -51h6M1405 -45h6M1405 -39h6M1405 -33h6M1405 -27h6M1405 -21h6M1459 -21h6M1405 -15h6M1459 -15h6M1405 -9h6M1459 -9h6M1405 -3h6M1459 -3h6M1405 3h6M1459 3h6M1405 9h6M1459 9h6M1405 15h6M1459 15h6M1405 21h6M1459 21h6M1405 27h6M1459 27h6M1405 33h6M1459 33h6M1405 39h6M1459 39h6M1405 45h6M1405 51h6M1405 57h6M1405 63h6M1405 69h6M1453 69h6M1405 75h6M1453 75h6M1405 81h6M1453 81h6M1405 87h6M1453 87h6M1405 93h6M1453 93h6M1405 99h6M1405 105h12M1405 111h12M1447 111h6M1405 117h12M1447 117h6M1405 123h12M1447 123h6M1405 129h18M1447 129h6M1405 135h18M1405 141h24M1441 141h6M1405 147h42M1405 153h42M1399 159h48M1399 165h42M1393 171h48M1393 177h48M1387 183h54M1375 189h60M1375 195h60M1369 201h66M1363 207h12M1405 207h24M1351 213h18M1411 213h18M1345 219h18M1411 219h24M1339 225h18M1417 225h24M1333 231h12M1429 231h12M1321 237h18M1435 237h6M1315 243h12M1435 243h6M1309 249h12M1435 249h6M1303 255h6M1429 255h12M1297 261h6M1429 261h6M1291 267h6M1285 273h6M1279 279h6M1411 279h6M1267 285h12M1405 285h6M1261 291h12M1255 297h12M1387 297h6M1249 303h12M1243 309h12M1369 309h6M1237 315h6M1231 321h6M1225 327h6M1219 333h6M1213 345h6M1207 351h6M1201 357h6M1195 363h6M1309 363h24M1195 369h6M1297 369h12M1315 369h18M1189 375h6M1285 375h12M1315 375h18M1183 381h6M1225 381h6M1273 381h18M1315 381h12M1183 387h6M1201 387h18M1261 387h18M1177 393h12M1249 393h18M1243 399h12M1231 405h12M1225 411h12M1219 417h18M1207 423h30M1201 429h30M1201 435h18M1201 441h6"/>
<path stroke="#444444" d="M1453 -189h6M1453 -183h6M1423 -177h6M1453 -177h6M1423 -171h6M1453 -171h6M1423 -165h6M1453 -165h6M1423 -159h6M1453 -159h6M1423 -153h6M1453 -153h6M1453 -147h6M1417 -129h6M1417 -123h6M1417 -117h6M1417 -111h6M1411 -75h6M1411 -69h6M1411 -63h6M1411 -57h6M1459 -57h6M1411 -51h6M1459 -51h6M1411 -45h6M1459 -45h6M1411 -39h6M1459 -39h6M1411 -33h6M1459 -33h6M1411 -27h6M1459 -27h6M1411 -21h6M1411 -15h6M1411 -9h6M1411 -3h6M1411 3h6M1411 9h6M1411 15h6M1411 21h6M1453 21h6M1411 27h6M1453 27h6M1411 33h6M1453 33h6M1411 39h6M1453 39h6M1411 45h6M1453 45h6M1411 51h6M1453 51h6M1411 57h6M1453 57h6M1411 63h6M1453 63h6M1411 69h6M1411 75h6M1411 81h12M1447 81h6M1411 87h12M1447 87h6M1411 93h12M1447 93h6M1411 99h12M1447 99h6M1417 105h12M1447 105h6M1417 111h12M1417 117h18M1441 117h6M1417 123h30M1423 129h24M1423 135h24M1429 141h12M1375 207h30M1369 213h42M1363 219h48M1357 225h18M1393 225h24M1345 231h18M1399 231h30M1339 237h18M1417 237h18M1327 243h18M1423 243h12M1321 249h12M1423 249h12M1309 255h18M1423 255h6M1303 261h12M1423 261h6M1297 267h12M1423 267h6M1291 273h12M1417 273h6M1285 279h12M1279 285h12M1273 291h12M1393 291h6M1267 297h6M1261 303h6M1255 309h6M1243 315h12M1357 315h6M1237 321h6M1345 321h6M1231 327h6M1225 333h6M1219 339h6M1219 345h6M1213 351h6M1207 357h6M1201 363h12M1201 369h6M1249 369h6M1309 369h6M1195 375h6M1237 375h6M1297 375h18M1189 381h12M1213 381h12M1291 381h24M1189 387h12M1279 387h36M1267 393h36M1255 399h36M1243 405h36M1237 411h30M1237 417h18M1237 423h6"/>
<path stroke="#464646" d="M1429 -177h6M1429 -171h6M1429 -165h6M1423 -147h6M1423 -141h6M1453 -141h6M1423 -135h6M1453 -135h6M1423 -129h6M1453 -129h6M1423 -123h6M1453 -123h6M1453 -117h6M1453 -111h6M1417 -105h6M1453 -105h6M1417 -99h6M1453 -99h6M1417 -93h6M1453 -93h6M1417 -87h6M1453 -87h6M1417 -81h6M1453 -81h6M1417 -75h6M1453 -75h6M1417 -69h6M1453 -69h6M1417 -63h6M1453 -63h6M1417 -57h6M1453 -57h6M1417 -51h6M1453 -51h6M1417 -45h6M1453 -45h6M1417 -39h6M1453 -39h6M1417 -33h6M1453 -33h6M1417 -27h6M1453 -27h6M1417 -21h6M1453 -21h6M1417 -15h6M1453 -15h6M1417 -9h6M1453 -9h6M1417 -3h6M1453 -3h6M1417 3h6M1453 3h6M1417 9h6M1453 9h6M1417 15h6M1453 15h6M1417 21h6M1417 27h6M1417 33h6M1417 39h6M1417 45h6M1417 51h12M1447 51h6M1417 57h12M1447 57h6M1417 63h12M1447 63h6M1417 69h12M1447 69h6M1417 75h12M1447 75h6M1423 81h6M1423 87h12M1423 93h12M1441 93h6M1423 99h24M1429 105h18M1429 111h18M1435 117h6M1375 225h18M1363 231h36M1357 237h18M1381 237h36M1345 243h18M1405 243h18M1333 249h24M1417 249h6M1327 255h18M1417 255h6M1315 261h18M1411 261h12M1309 267h12M1411 267h12M1303 273h6M1411 273h6M1297 279h6M1405 279h6M1291 285h6M1399 285h6M1285 291h6M1273 297h6M1381 297h6M1267 303h6M1375 303h6M1261 309h6M1363 309h6M1255 315h6M1243 321h6M1237 327h6M1333 327h6M1231 333h6M1321 333h6M1225 339h6M1225 345h6M1219 351h6M1285 351h6M1213 357h6M1273 357h6M1213 363h6M1261 363h6M1207 369h6M1243 369h6M1201 375h6M1225 375h12M1201 381h12"/>
<path stroke="#484848" d="M1447 -189h6M1447 -183h6M1447 -177h6M1447 -171h6M1447 -165h6M1429 -159h6M1447 -159h6M1429 -153h6M1447 -153h6M1429 -147h6M1447 -147h6M1429 -141h6M1447 -141h6M1429 -135h6M1423 -117h6M1423 -111h6M1423 -105h6M1423 -99h6M1423 -93h6M1423 -87h6M1423 -81h6M1423 -75h6M1423 -69h6M1423 -63h6M1423 -57h6M1423 -51h6M1423 -45h6M1423 -39h6M1423 -33h6M1423 -27h6M1423 -21h6M1423 -15h6M1423 -9h6M1423 -3h6M1447 -3h6M1423 3h6M1447 3h6M1423 9h6M1447 9h6M1423 15h6M1447 15h6M1423 21h6M1447 21h6M1423 27h6M1447 27h6M1423 33h12M1447 33h6M1423 39h12M1447 39h6M1423 45h12M1447 45h6M1429 51h6M1429 57h6M1429 63h6M1429 69h6M1429 75h18M1429 81h18M1435 87h12M1435 93h6M1375 237h6M1363 243h42M1357 249h18M1393 249h24M1345 255h18M1405 255h12M1333 261h18M1405 261h6M1321 267h18M1405 267h6M1309 273h18M1405 273h6M1303 279h12M1297 285h6M1393 285h6M1291 291h6M1387 291h6M1279 297h12M1273 303h6M1369 303h6M1267 309h6M1261 315h6M1351 315h6M1249 321h12M1339 321h6M1243 327h6M1237 333h6M1231 339h6M1309 339h6M1231 345h6M1297 345h6M1225 351h6M1219 357h6M1267 357h6M1219 363h6M1255 363h6M1213 369h6M1231 369h12M1207 375h18"/>
<path stroke="#4a4a4a" d="M1435 -183h6M1435 -177h6M1435 -171h6M1435 -165h6M1435 -159h6M1435 -153h6M1447 -135h6M1429 -129h6M1447 -129h6M1429 -123h6M1447 -123h6M1429 -117h6M1447 -117h6M1429 -111h6M1447 -111h6M1429 -105h6M1447 -105h6M1429 -99h6M1447 -99h6M1429 -93h6M1447 -93h6M1429 -87h6M1447 -87h6M1429 -81h6M1447 -81h6M1429 -75h6M1447 -75h6M1429 -69h6M1447 -69h6M1429 -63h6M1447 -63h6M1429 -57h6M1447 -57h6M1429 -51h6M1447 -51h6M1429 -45h6M1447 -45h6M1429 -39h6M1447 -39h6M1429 -33h6M1447 -33h6M1429 -27h6M1447 -27h6M1429 -21h6M1447 -21h6M1429 -15h6M1447 -15h6M1429 -9h6M1447 -9h6M1429 -3h6M1429 3h6M1429 9h6M1429 15h6M1429 21h12M1429 27h18M1435 33h12M1435 39h12M1435 45h12M1435 51h12M1435 57h12M1435 63h12M1435 69h12M1375 249h18M1363 255h42M1351 261h12M1393 261h12M1339 267h12M1393 267h12M1327 273h6M1399 273h6M1315 279h6M1399 279h6M1303 285h6M1297 291h6M1291 297h6M1375 297h6M1279 303h6M1273 309h6M1357 309h6M1267 315h6M1261 321h6M1249 327h6M1327 327h6M1243 333h6M1315 333h6M1237 339h12M1237 345h6M1291 345h6M1231 351h6M1279 351h6M1225 357h12M1261 357h6M1225 363h6M1243 363h12M1219 369h12"/>
<path stroke="#4c4c4c" d="M1441 -183h6M1441 -177h6M1441 -171h6M1441 -165h6M1441 -159h6M1441 -153h6M1435 -147h12M1435 -141h12M1435 -135h12M1435 -129h6M1435 -123h6M1435 -117h6M1435 -111h6M1435 -105h6M1435 -99h6M1435 -93h6M1435 -87h6M1435 -81h6M1435 -75h6M1435 -69h6M1435 -63h6M1435 -57h6M1435 -51h6M1435 -45h6M1435 -39h6M1435 -33h6M1435 -27h6M1435 -21h6M1435 -15h12M1435 -9h12M1435 -3h12M1435 3h12M1435 9h12M1435 15h12M1441 21h6M1363 261h30M1351 267h12M1387 267h6M1333 273h18M1387 273h12M1321 279h12M1387 279h12M1309 285h12M1387 285h6M1303 291h6M1381 291h6M1297 297h6M1285 303h6M1363 303h6M1279 309h6M1273 315h6M1345 315h6M1267 321h6M1333 321h6M1255 327h12M1249 333h12M1249 339h6M1303 339h6M1243 345h6M1285 345h6M1237 351h6M1273 351h6M1237 357h6M1255 357h6M1231 363h12"/>
<path stroke="#4e4e4e" d="M1441 -129h6M1441 -123h6M1441 -117h6M1441 -111h6M1441 -105h6M1441 -99h6M1441 -93h6M1441 -87h6M1441 -81h6M1441 -75h6M1441 -69h6M1441 -63h6M1441 -57h6M1441 -51h6M1441 -45h6M1441 -39h6M1441 -33h6M1441 -27h6M1441 -21h6M1363 267h24M1351 273h36M1333 279h12M1381 279h6M1321 285h12M1381 285h6M1309 291h6M1303 297h6M1369 297h6M1291 303h6M1285 309h6M1351 309h6M1279 315h6M1339 315h6M1273 321h6M1267 327h6M1321 327h6M1261 333h6M1309 333h6M1255 339h12M1297 339h6M1249 345h12M1279 345h6M1243 351h12M1267 351h6M1243 357h12"/>
<path stroke="#505050" d="M1345 279h36M1333 285h48M1315 291h12M1363 291h18M1309 297h6M1297 303h6M1357 303h6M1291 309h6M1345 309h6M1285 315h6M1279 321h12M1327 321h6M1273 327h12M1315 327h6M1267 333h12M1303 333h6M1267 339h6M1291 339h6M1261 345h6M1273 345h6M1255 351h12"/>
<path stroke="#525252" d="M1327 291h36M1315 297h54M1303 303h12M1339 303h18M1297 309h12M1291 315h12M1333 315h6M1291 321h6M1285 327h6M1279 333h6M1273 339h18M1267 345h6"/>
<path stroke="#545454" d="M1315 303h24M1309 309h36M1303 315h6M1327 315h6M1297 321h12M1321 321h6M1291 327h12M1309 327h6M1285 333h18"/>
<path stroke="#565656" d="M1309 315h18M1309 321h12M1303 327h6"/>
</g>
<g filter="url(#hsd)">
<path fill="#080808" d="M1162.4 445.9L1175.1 439.4L1175.1 444L1162.4 450.5ZM1295.2 377.2L1306.9 371.2L1306.9 376.9L1295.2 382.9ZM1329.9 360.1L1336.6 356.7L1336.6 361.8L1329.9 365.2ZM1344.8 352.3L1349.6 349.8L1349.6 355.1L1344.8 357.6ZM1409.6 319.9L1418.8 315.2L1418.8 319.9L1409.6 324.6ZM1440.5 303.8L1449.1 299.5L1449.1 304.4L1440.5 308.8ZM1449.1 300.1L1462.8 293.1L1462.8 297.5L1449.1 304.4ZM1501.6 272.5L1507.8 269.4L1507.8 274.5L1501.6 277.7Z"/>
<path fill="#151515" d="M915.1 571.2L923.3 567L923.3 572.3L915.1 576.5ZM1022.4 516.7L1028.5 513.6L1028.5 518.7L1022.4 521.8ZM1063.9 495.4L1073.2 490.7L1073.2 496L1063.9 500.7ZM1100.8 477.2L1107.3 473.9L1107.3 478.6L1100.8 481.9Z"/>
<path fill="#2b2b2b" d="M1429 310.4L1440.5 304.5L1440.5 308.8L1429 314.7ZM1479.5 284.6L1488.8 279.9L1488.8 284.2L1479.5 288.9Z"/>
<path fill="#404040" d="M990.6 533.3L1002.9 527L1002.9 531.8L990.6 538.1ZM1002.9 527L1013.7 521.5L1013.7 526.3L1002.9 531.8ZM1042.7 507.3L1053.7 501.7L1053.7 505.9L1042.7 511.5ZM1080.2 488L1084.4 485.9L1084.4 490.3L1080.2 492.4ZM1084.4 485.4L1092.2 481.4L1092.2 486.3L1084.4 490.3ZM1107.3 473.8L1117.7 468.5L1117.7 473.3L1107.3 478.6ZM1144.5 455.3L1147.7 453.7L1147.7 458L1144.5 459.6Z"/>
<path fill="#444444" d="M1265.2 392.4L1277.6 386.1L1277.6 391.8L1265.2 398.1ZM1306.9 371.3L1318.8 365.3L1318.8 370.8L1306.9 376.9ZM1349.6 350.4L1358.7 345.8L1358.7 350.5L1349.6 355.1ZM1372.2 338.6L1381.3 334L1381.3 339L1372.2 343.6Z"/>
<path fill="#555555" d="M857.1 601.7L862.6 598.9L862.6 603.3L857.1 606.1ZM862.6 599.1L871.2 594.7L871.2 598.9L862.6 603.3ZM871.2 593.5L879 589.5L879 594.9L871.2 598.9ZM879 589.8L893.5 582.4L893.5 587.6L879 594.9ZM962.3 548L977 540.5L977 545L962.3 552.5ZM1028.5 513.7L1042.7 506.5L1042.7 511.5L1028.5 518.7ZM1053.7 500.6L1058.1 498.4L1058.1 503.7L1053.7 505.9ZM1058.1 499L1063.9 496.1L1063.9 500.7L1058.1 503.7ZM1092.2 481.9L1100.8 477.5L1100.8 481.9L1092.2 486.3ZM1129.8 462.8L1144.5 455.3L1144.5 459.6L1129.8 467.1ZM1418.8 314.8L1429 309.6L1429 314.7L1418.8 319.9ZM1462.8 292.2L1473.3 286.9L1473.3 292.1L1462.8 297.5Z"/>
<path fill="#5e5e5e" d="M1147.7 453.3L1152.9 450.7L1152.9 455.4L1147.7 458ZM1152.9 450.1L1158 447.5L1158 452.8L1152.9 455.4ZM1158 448.4L1162.4 446.1L1162.4 450.5L1158 452.8ZM1189.9 431.8L1203.2 425.1L1203.2 429.8L1189.9 436.5ZM1203.2 424.2L1213.5 419L1213.5 424.5L1203.2 429.8ZM1232.7 409.7L1239.4 406.2L1239.4 411.3L1232.7 414.7ZM1252.4 400.4L1265.2 393.9L1265.2 398.1L1252.4 404.7ZM1287.8 381.2L1295.2 377.5L1295.2 382.9L1287.8 386.6ZM1318.8 365.3L1329.9 359.6L1329.9 365.2L1318.8 370.8Z"/>
<path fill="#666666" d="M853 603.3L857.1 601.2L857.1 606.1L853 608.2ZM903.8 577.2L915.1 571.4L915.1 576.5L903.8 582.3ZM945.3 555.6L951.2 552.6L951.2 558.2L945.3 561.1ZM1117.7 468.7L1129.8 462.6L1129.8 467.1L1117.7 473.3Z"/>
<path fill="#bfbfbf" d="M1180.2 437L1189.9 432.1L1189.9 436.5L1180.2 441.4ZM1239.4 405.7L1252.4 399.1L1252.4 404.7L1239.4 411.3ZM1336.6 356.1L1344.8 351.9L1344.8 357.6L1336.6 361.8ZM1358.7 345.3L1372.2 338.5L1372.2 343.6L1358.7 350.5ZM1395.8 327.1L1409.6 320.1L1409.6 324.6L1395.8 331.6Z"/>
</g>
</g>
<path d="M854.6 563.5V1040.8" stroke="#050003" stroke-width="4.6" stroke-dasharray="4 4 5 2 3 3" opacity=".92" fill="none"/>
<polygon fill="#1b4c9f" points="848,558.5 848,654.7 872.5,661 887.5,676 905,706 920,736 937.5,776 952.5,788.5 990,801 1025,811 1060,821 1105,824.5 1170,827 1210,825 1235,811 1250,791 1267.5,761 1285,721 1300,681 1312.5,646 1322.5,616 1327.5,576 1328,558.5"/>
<path d="M984 1040.8v-6.5M1114.9 1040.8v-6.5M1245.9 1040.8v-6.5M1376.8 1040.8v-6.5M1507.8 1040.8v-6.5" stroke="#262626" stroke-width="1" opacity=".7" fill="none"/>
</g>
<path d="M853.65 563.5V1040.8" fill="none" stroke="#0a0a14" stroke-width="1.3" opacity=".75"/>
<path d="M853 1040.5H1507.8" fill="none" stroke="#3c3c3c" stroke-width="1.1" opacity=".3"/>
<path d="M1507.5 563.5V1040.8" fill="none" stroke="#3c3c3c" stroke-width="1.1" opacity=".12"/>
<text transform="translate(843.2 1052.1) scale(1 1.075)" font-family="'Liberation Sans',Arial,Helvetica,sans-serif" font-size="30.9" fill="#25282b" text-anchor="end">0</text>
<text transform="translate(843.2 1004.37) scale(1 1.075)" font-family="'Liberation Sans',Arial,Helvetica,sans-serif" font-size="30.9" fill="#25282b" text-anchor="end">2</text>
<text transform="translate(843.2 956.64) scale(1 1.075)" font-family="'Liberation Sans',Arial,Helvetica,sans-serif" font-size="30.9" fill="#25282b" text-anchor="end">4</text>
<text transform="translate(843.2 908.91) scale(1 1.075)" font-family="'Liberation Sans',Arial,Helvetica,sans-serif" font-size="30.9" fill="#25282b" text-anchor="end">6</text>
<text transform="translate(843.2 861.18) scale(1 1.075)" font-family="'Liberation Sans',Arial,Helvetica,sans-serif" font-size="30.9" fill="#25282b" text-anchor="end">8</text>
<text transform="translate(843.2 813.45) scale(1 1.075)" font-family="'Liberation Sans',Arial,Helvetica,sans-serif" font-size="30.9" fill="#25282b" text-anchor="end">10</text>
<text transform="translate(843.2 765.72) scale(1 1.075)" font-family="'Liberation Sans',Arial,Helvetica,sans-serif" font-size="30.9" fill="#25282b" text-anchor="end">12</text>
<text transform="translate(843.2 717.99) scale(1 1.075)" font-family="'Liberation Sans',Arial,Helvetica,sans-serif" font-size="30.9" fill="#25282b" text-anchor="end">14</text>
<text transform="translate(843.2 670.26) scale(1 1.075)" font-family="'Liberation Sans',Arial,Helvetica,sans-serif" font-size="30.9" fill="#25282b" text-anchor="end">16</text>
<text transform="translate(843.2 622.53) scale(1 1.075)" font-family="'Liberation Sans',Arial,Helvetica,sans-serif" font-size="30.9" fill="#25282b" text-anchor="end">18</text>
<text transform="translate(843.2 574.8) scale(1 1.075)" font-family="'Liberation Sans',Arial,Helvetica,sans-serif" font-size="30.9" fill="#25282b" text-anchor="end">20</text>
<text transform="translate(853.1 1078.7) scale(1 1.075)" font-family="'Liberation Sans',Arial,Helvetica,sans-serif" font-size="30.9" fill="#25282b" text-anchor="middle">0</text>
<text transform="translate(984.06 1078.7) scale(1 1.075)" font-family="'Liberation Sans',Arial,Helvetica,sans-serif" font-size="30.9" fill="#25282b" text-anchor="middle">0.2</text>
<text transform="translate(1115.02 1078.7) scale(1 1.075)" font-family="'Liberation Sans',Arial,Helvetica,sans-serif" font-size="30.9" fill="#25282b" text-anchor="middle">0.4</text>
<text transform="translate(1245.98 1078.7) scale(1 1.075)" font-family="'Liberation Sans',Arial,Helvetica,sans-serif" font-size="30.9" fill="#25282b" text-anchor="middle">0.6</text>
<text transform="translate(1376.94 1078.7) scale(1 1.075)" font-family="'Liberation Sans',Arial,Helvetica,sans-serif" font-size="30.9" fill="#25282b" text-anchor="middle">0.8</text>
<text transform="translate(1507.9 1078.7) scale(1 1.075)" font-family="'Liberation Sans',Arial,Helvetica,sans-serif" font-size="30.9" fill="#25282b" text-anchor="middle">1</text>
<text transform="translate(868.5 601.8) scale(0.96 1.07)" font-family="'Liberation Sans',Arial,Helvetica,sans-serif" font-size="39" fill="#fff" font-weight="bold" stroke="#fff" stroke-width="0.5" stroke-linejoin="round">d)</text>
<text transform="translate(913 601.8)" font-family="'Liberation Serif','Times New Roman',serif" font-size="45" fill="#fff" font-weight="bold" font-style="italic" stroke="#fff" stroke-width="0.3" stroke-linejoin="round">w</text>
<text transform="translate(944 609.8)" font-family="'Liberation Serif','Times New Roman',serif" font-size="29" fill="#fff" font-weight="bold" font-style="italic" stroke="#fff" stroke-width="0.2" stroke-linejoin="round">PEO</text>
<text transform="translate(1002.9 601.8) scale(1 1.07)" font-family="'Liberation Sans',Arial,Helvetica,sans-serif" font-size="39" fill="#fff" font-weight="bold" stroke="#fff" stroke-width="0.5" stroke-linejoin="round">= 0.10, pH 2.5</text>
<text transform="translate(1039 708) scale(1 1.07)" font-family="'Liberation Sans',Arial,Helvetica,sans-serif" font-size="49" fill="#80a7d4" font-weight="bold" letter-spacing="-1.2" stroke="#80a7d4" stroke-width="0.4" stroke-linejoin="round">No data</text>
<text transform="translate(29.7 633.5) rotate(-90) scale(1 1.07)" font-family="'Liberation Sans',Arial,Helvetica,sans-serif" font-size="39.5" fill="#231f20" font-weight="bold" letter-spacing="-1.8">Height (µm)</text>
<text transform="translate(632.5 1141.1) scale(1 1.07)" font-family="'Liberation Sans',Arial,Helvetica,sans-serif" font-size="39.5" fill="#231f20" font-weight="bold" letter-spacing="-1.2">Normalized time</text>
<text transform="translate(929 1141.1)" font-family="'Liberation Serif','Times New Roman',serif" font-size="46" fill="#231f20" font-weight="bold" font-style="italic" stroke="#231f20" stroke-width="0.8" stroke-linejoin="round">t</text>
<text transform="translate(946.5 1148.2) scale(0.8 1)" font-family="'Liberation Serif','Times New Roman',serif" font-size="52" fill="#231f20" font-weight="bold" font-style="italic" stroke="#231f20" stroke-width="0.6" stroke-linejoin="round">/</text>
<text transform="translate(962.5 1141.1)" font-family="'Liberation Serif','Times New Roman',serif" font-size="46" fill="#231f20" font-weight="bold" font-style="italic" stroke="#231f20" stroke-width="0.8" stroke-linejoin="round">t</text>
<text transform="translate(980.5 1149.8)" font-family="'Liberation Serif','Times New Roman',serif" font-size="37" fill="#231f20" font-weight="bold" font-style="italic" stroke="#231f20" stroke-width="0.5" stroke-linejoin="round">f</text>
<rect x="1552.6" y="250.6" width="27" height="506.4" fill="url(#cb)"/>
<path d="M1553.1 757V251.1H1579.1V757" fill="none" stroke="#262626" stroke-width="1.1" opacity=".7"/>
<text transform="translate(1588.1 768.2) scale(1 1.075)" font-family="'Liberation Sans',Arial,Helvetica,sans-serif" font-size="30.9" fill="#25282b">0</text>
<path d="M1579.6 672.6h-5.5" stroke="#262626" stroke-width="1.1" opacity=".85"/>
<text transform="translate(1588.1 683.8) scale(1 1.075)" font-family="'Liberation Sans',Arial,Helvetica,sans-serif" font-size="30.9" fill="#25282b">0.05</text>
<path d="M1579.6 588.2h-5.5" stroke="#262626" stroke-width="1.1" opacity=".85"/>
<text transform="translate(1588.1 599.4) scale(1 1.075)" font-family="'Liberation Sans',Arial,Helvetica,sans-serif" font-size="30.9" fill="#25282b">0.10</text>
<path d="M1579.6 503.8h-5.5" stroke="#262626" stroke-width="1.1" opacity=".85"/>
<text transform="translate(1588.1 515) scale(1 1.075)" font-family="'Liberation Sans',Arial,Helvetica,sans-serif" font-size="30.9" fill="#25282b">0.15</text>
<path d="M1579.6 419.4h-5.5" stroke="#262626" stroke-width="1.1" opacity=".85"/>
<text transform="translate(1588.1 430.6) scale(1 1.075)" font-family="'Liberation Sans',Arial,Helvetica,sans-serif" font-size="30.9" fill="#25282b">0.20</text>
<path d="M1579.6 335h-5.5" stroke="#262626" stroke-width="1.1" opacity=".85"/>
<text transform="translate(1588.1 346.2) scale(1 1.075)" font-family="'Liberation Sans',Arial,Helvetica,sans-serif" font-size="30.9" fill="#25282b">0.25</text>
<text transform="translate(1588.1 261.8) scale(1 1.075)" font-family="'Liberation Sans',Arial,Helvetica,sans-serif" font-size="30.9" fill="#25282b">0.30</text>
<text transform="translate(1552.3 201) scale(1.13 1)" font-family="'Liberation Serif','Times New Roman',serif" font-size="50" fill="#231f20" font-weight="bold" font-style="italic" stroke="#231f20" stroke-width="0.9" stroke-linejoin="round">ϕ</text>
<text transform="translate(1584.5 207.1)" font-family="'Liberation Serif','Times New Roman',serif" font-size="33.4" fill="#231f20" font-weight="bold" font-style="italic" stroke="#231f20" stroke-width="0.6" stroke-linejoin="round">SiO2</text>
</svg>
</body></html>
